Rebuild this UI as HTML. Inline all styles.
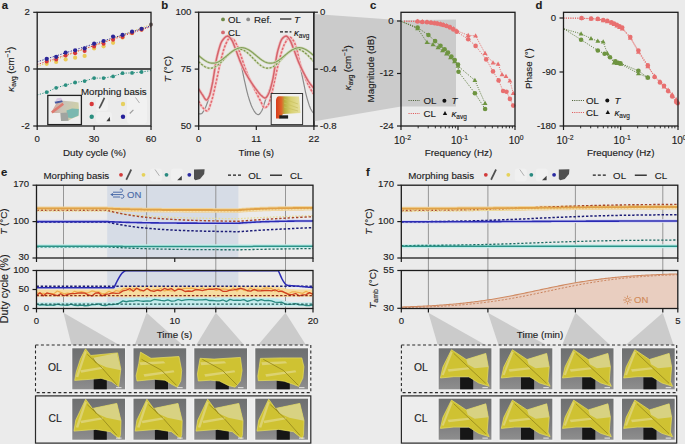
<!DOCTYPE html>
<html><head><meta charset="utf-8"><style>
html,body{margin:0;padding:0;background:#ebebeb;}
svg{display:block;font-family:"Liberation Sans",sans-serif;}
</style></head><body>
<svg width="685" height="444" viewBox="0 0 685 444">
<rect x="0" y="0" width="685" height="444" fill="#ebebeb"/>
<polygon points="63.5,312.8 119.28,345 71.48,345" fill="#cbcbcb" stroke="none" stroke-width="1" />
<polygon points="146.6,312.8 182.52,345 134.72,345" fill="#cbcbcb" stroke="none" stroke-width="1" />
<polygon points="215.8,312.8 244.1,345 196.3,345" fill="#cbcbcb" stroke="none" stroke-width="1" />
<polygon points="285.5,312.8 305.91,345 258.11,345" fill="#cbcbcb" stroke="none" stroke-width="1" />
<polygon points="428.4,312.8 485.54,345 437.74,345" fill="#cbcbcb" stroke="none" stroke-width="1" />
<polygon points="487.9,312.8 546.31,345 498.51,345" fill="#cbcbcb" stroke="none" stroke-width="1" />
<polygon points="575.4,312.8 609.96,345 562.16,345" fill="#cbcbcb" stroke="none" stroke-width="1" />
<polygon points="662.8,312.8 673.59,345 625.79,345" fill="#cbcbcb" stroke="none" stroke-width="1" />
<text x="4.85" y="8.81" font-size="11.3" text-anchor="middle" font-weight="bold" font-style="normal" fill="#1c1c1c" stroke="#1c1c1c" stroke-width="0.14" >a</text>
<polyline points="37.2,66.5 151,24.5" fill="none" stroke="#ecca58" stroke-width="1.0" stroke-linejoin="round" stroke-dasharray="1.2 1.5" />
<polyline points="37.2,64.6 151,26.6" fill="none" stroke="#d8383a" stroke-width="1.0" stroke-linejoin="round" stroke-dasharray="1.2 1.5" />
<polyline points="37.2,61.8 151,25.9" fill="none" stroke="#2b2596" stroke-width="1.0" stroke-linejoin="round" stroke-dasharray="1.2 1.5" />
<polyline points="37.2,95 46.69,92.2 56.17,87.8 65.66,85.1 75.14,82.5 84.62,81.1 94.11,78.1 103.59,78.1 113.08,76.4 122.56,73.2 132.05,72.9 141.54,72 151,70.6" fill="none" stroke="#2b8f80" stroke-width="1.0" stroke-linejoin="round" stroke-dasharray="1.2 1.5" />
<circle cx="46.69" cy="63.8" r="2.1" fill="#ecca58" />
<circle cx="56.17" cy="62" r="2.1" fill="#ecca58" />
<circle cx="65.66" cy="59.4" r="2.1" fill="#ecca58" />
<circle cx="75.14" cy="57.7" r="2.1" fill="#ecca58" />
<circle cx="84.62" cy="55.9" r="2.1" fill="#ecca58" />
<circle cx="94.11" cy="48.5" r="2.1" fill="#ecca58" />
<circle cx="103.59" cy="46.3" r="2.1" fill="#ecca58" />
<circle cx="113.08" cy="42.8" r="2.1" fill="#ecca58" />
<circle cx="122.56" cy="37.6" r="2.1" fill="#ecca58" />
<circle cx="132.05" cy="33.2" r="2.1" fill="#ecca58" />
<circle cx="141.54" cy="29.6" r="2.1" fill="#ecca58" />
<circle cx="46.69" cy="61.5" r="2" fill="#d8383a" />
<circle cx="56.17" cy="59.5" r="2" fill="#d8383a" />
<circle cx="65.66" cy="55.5" r="2" fill="#d8383a" />
<circle cx="75.14" cy="53.2" r="2" fill="#d8383a" />
<circle cx="84.62" cy="51" r="2" fill="#d8383a" />
<circle cx="94.11" cy="46.5" r="2" fill="#d8383a" />
<circle cx="103.59" cy="43.8" r="2" fill="#d8383a" />
<circle cx="113.08" cy="39.8" r="2" fill="#d8383a" />
<circle cx="122.56" cy="37" r="2" fill="#d8383a" />
<circle cx="132.05" cy="33" r="2" fill="#d8383a" />
<circle cx="141.54" cy="29.8" r="2" fill="#d8383a" />
<circle cx="46.69" cy="58.9" r="2.1" fill="#2b2596" />
<circle cx="56.17" cy="56.8" r="2.1" fill="#2b2596" />
<circle cx="65.66" cy="52.6" r="2.1" fill="#2b2596" />
<circle cx="75.14" cy="50.3" r="2.1" fill="#2b2596" />
<circle cx="84.62" cy="48.4" r="2.1" fill="#2b2596" />
<circle cx="94.11" cy="43.7" r="2.1" fill="#2b2596" />
<circle cx="103.59" cy="41" r="2.1" fill="#2b2596" />
<circle cx="113.08" cy="36.6" r="2.1" fill="#2b2596" />
<circle cx="122.56" cy="34.9" r="2.1" fill="#2b2596" />
<circle cx="132.05" cy="31.7" r="2.1" fill="#2b2596" />
<circle cx="141.54" cy="28.8" r="2.1" fill="#2b2596" />
<circle cx="46.69" cy="92.2" r="1.9" fill="#2b8f80" />
<circle cx="56.17" cy="87.8" r="1.9" fill="#2b8f80" />
<circle cx="65.66" cy="85.1" r="1.9" fill="#2b8f80" />
<circle cx="75.14" cy="82.5" r="1.9" fill="#2b8f80" />
<circle cx="84.62" cy="81.1" r="1.9" fill="#2b8f80" />
<circle cx="94.11" cy="78.1" r="1.9" fill="#2b8f80" />
<circle cx="103.59" cy="78.1" r="1.9" fill="#2b8f80" />
<circle cx="113.08" cy="76.4" r="1.9" fill="#2b8f80" />
<circle cx="122.56" cy="73.2" r="1.9" fill="#2b8f80" />
<circle cx="132.05" cy="72.9" r="1.9" fill="#2b8f80" />
<circle cx="141.54" cy="72" r="1.9" fill="#2b8f80" />
<circle cx="151" cy="24.5" r="2" fill="#7a6a6a" />
<line x1="37.2" y1="69" x2="151" y2="69" stroke="#1c1c1c" stroke-width="1.3" />
<rect x="37.2" y="12.3" width="113.8" height="113.7" fill="none" stroke="#1c1c1c" stroke-width="1.3" />
<line x1="33.2" y1="12.3" x2="37.2" y2="12.3" stroke="#1c1c1c" stroke-width="1.2" />
<text x="29.9" y="15.21" font-size="9.6" text-anchor="end" font-weight="normal" font-style="normal" fill="#1c1c1c" stroke="#1c1c1c" stroke-width="0.14" >2</text>
<line x1="33.2" y1="69" x2="37.2" y2="69" stroke="#1c1c1c" stroke-width="1.2" />
<text x="29.9" y="71.91" font-size="9.6" text-anchor="end" font-weight="normal" font-style="normal" fill="#1c1c1c" stroke="#1c1c1c" stroke-width="0.14" >0</text>
<line x1="33.2" y1="126" x2="37.2" y2="126" stroke="#1c1c1c" stroke-width="1.2" />
<text x="29.9" y="128.91" font-size="9.6" text-anchor="end" font-weight="normal" font-style="normal" fill="#1c1c1c" stroke="#1c1c1c" stroke-width="0.14" >-2</text>
<line x1="37.2" y1="126" x2="37.2" y2="130" stroke="#1c1c1c" stroke-width="1.2" />
<text x="37.2" y="141.91" font-size="9.6" text-anchor="middle" font-weight="normal" font-style="normal" fill="#1c1c1c" stroke="#1c1c1c" stroke-width="0.14" >0</text>
<line x1="94.11" y1="126" x2="94.11" y2="130" stroke="#1c1c1c" stroke-width="1.2" />
<text x="94.11" y="141.91" font-size="9.6" text-anchor="middle" font-weight="normal" font-style="normal" fill="#1c1c1c" stroke="#1c1c1c" stroke-width="0.14" >30</text>
<line x1="151.02" y1="126" x2="151.02" y2="130" stroke="#1c1c1c" stroke-width="1.2" />
<text x="151.02" y="141.91" font-size="9.6" text-anchor="middle" font-weight="normal" font-style="normal" fill="#1c1c1c" stroke="#1c1c1c" stroke-width="0.14" >60</text>
<text x="94.5" y="155.88" font-size="9.8" text-anchor="middle" font-weight="normal" font-style="normal" fill="#1c1c1c" stroke="#1c1c1c" stroke-width="0.14" >Duty cycle (%)</text>
<text transform="translate(13.88,69.2) rotate(-90)" x="0" y="0" font-size="9.8" text-anchor="middle" fill="#1c1c1c" stroke="#1c1c1c" stroke-width="0.14"><tspan font-style="italic">κ</tspan><tspan font-size="6.5" dy="2">avg</tspan><tspan dy="-2"> (cm</tspan><tspan font-size="6.5" dy="-3.5">−1</tspan><tspan dy="3.5">)</tspan></text>
<text x="113.8" y="95.44" font-size="9.7" text-anchor="middle" font-weight="normal" font-style="normal" fill="#1c1c1c" stroke="#1c1c1c" stroke-width="0.14" >Morphing basis</text>
<circle cx="91.7" cy="104" r="2.2" fill="#d8383a" />
<circle cx="123" cy="104" r="2.2" fill="#e6d060" />
<circle cx="91.7" cy="116.7" r="2.2" fill="#2b8f80" />
<circle cx="123" cy="116.7" r="2.2" fill="#25209a" />
<rect x="96" y="97" width="12" height="14" fill="#f0f0f0" stroke="none" stroke-width="1" rx="3"/>
<rect x="127" y="96" width="20" height="28" fill="#f1f1f1" stroke="none" stroke-width="1" rx="4"/>
<rect x="96" y="112" width="16" height="11" fill="#f0f0f0" stroke="none" stroke-width="1" rx="3"/>
<polygon points="103.8,97.3 105.2,98.3 101.5,106 99.8,108.8 98.6,108" fill="#505050" stroke="none" stroke-width="1" />
<polyline points="135.5,97.5 139.5,103" fill="none" stroke="#b0b0b0" stroke-width="1.0" stroke-linejoin="round"  />
<polygon points="109.8,116.8 110.2,121.2 106.4,121.2" fill="#3c3c3c" stroke="none" stroke-width="1" />
<polyline points="133.4,109.8 129.8,113.5" fill="none" stroke="#9c9c9c" stroke-width="1.1" stroke-linejoin="round"  />
<rect x="47.8" y="95.4" width="33.6" height="29.2" fill="#eeeeee" stroke="#222" stroke-width="1.3" />
<defs><linearGradient id="ig" x1="0" y1="0" x2="1" y2="0.3"><stop offset="0" stop-color="#d89a90"/><stop offset="0.45" stop-color="#c8c4b8"/><stop offset="1" stop-color="#cfd0a8"/></linearGradient></defs>
<polygon points="52,111 56,104 60,100.5 66,101 72,101.5 78.5,102.5 79,110 78.5,116 72,118.5 68.5,120.5 61,121 60.5,113 52.5,113" fill="url(#ig)" stroke="none" stroke-width="1" />
<polygon points="51,111.5 62.5,102.8 64,104.8 52.5,113.5" fill="#de7a70" stroke="none" stroke-width="1" />
<polygon points="54.5,101.8 62,100.2 62.8,102 55.5,103.8" fill="#4a5aa0" stroke="none" stroke-width="1" />
<polygon points="55.5,101 57,98.2 61,97.8 62.5,100" fill="#d8c8e4" stroke="none" stroke-width="1" />
<polygon points="66.5,110.5 72,108.5 78.8,109 78.5,115.5 72,118.2 67.5,117.5" fill="#7ab8b0" stroke="none" stroke-width="1" />
<polygon points="60.5,113 67.5,112.5 68.5,120.8 61,121" fill="#a0a4a0" stroke="none" stroke-width="1" />
<text x="164.6" y="8.61" font-size="11.3" text-anchor="middle" font-weight="bold" font-style="normal" fill="#1c1c1c" stroke="#1c1c1c" stroke-width="0.14" >b</text>
<defs><clipPath id="cb"><rect x="198.7" y="12.2" width="115.2" height="113.8"/></clipPath></defs>
<g clip-path="url(#cb)">
<polyline points="198.7,113.94 199.22,113.93 199.75,113.9 200.27,113.85 200.79,113.79 201.32,113.71 201.84,113.46 202.37,112.92 202.89,112.2 203.41,111.37 203.94,110.52 204.46,109.63 204.98,108.61 205.51,107.47 206.03,106.22 206.55,104.89 207.08,103.49 207.6,102.02 208.13,100.49 208.65,98.85 209.17,97.08 209.7,95.21 210.22,93.23 210.74,91.15 211.27,88.97 211.79,86.7 212.31,84.35 212.84,81.73 213.36,78.74 213.89,75.49 214.41,72.1 214.93,68.68 215.46,65.35 215.98,62.22 216.5,59.41 217.03,57.04 217.55,54.93 218.07,52.88 218.6,50.89 219.12,49 219.65,47.23 220.17,45.59 220.69,44.12 221.22,42.82 221.74,41.74 222.26,40.88 222.79,40.15 223.31,39.44 223.83,38.76 224.36,38.13 224.88,37.57 225.41,37.07 225.93,36.67 226.45,36.36 226.98,36.17 227.5,36.1 228.02,36.17 228.55,36.39 229.07,36.73 229.59,37.16 230.12,37.68 230.64,38.26 231.17,38.88 231.69,39.51 232.21,40.3 232.74,41.34 233.26,42.57 233.78,43.95 234.31,45.41 234.83,46.9 235.35,48.37 235.88,49.75 236.4,51.05 236.93,52.3 237.45,53.55 237.97,54.81 238.5,56.12 239.02,57.5 239.54,58.99 240.07,60.62 240.59,62.45 241.11,64.58 241.64,66.95 242.16,69.47 242.69,72.07 243.21,74.68 243.73,77.2 244.26,79.57 244.78,81.89 245.3,84.24 245.83,86.58 246.35,88.87 246.87,91.09 247.4,93.2 247.92,95.15 248.45,96.93 248.97,98.62 249.49,100.25 250.02,101.82 250.54,103.3 251.06,104.7 251.59,106 252.11,107.18 252.63,108.25 253.16,109.24 253.68,110.21 254.21,111.13 254.73,111.97 255.25,112.69 255.78,113.28 256.3,113.71 256.82,114.04 257.35,114.33 257.87,114.54 258.39,114.62 258.92,114.48 259.44,114.1 259.97,113.52 260.49,112.81 261.01,112.02 261.54,111.21 262.06,110.22 262.58,108.93 263.11,107.41 263.63,105.75 264.15,104.03 264.68,102.33 265.2,100.71 265.73,99.26 266.25,97.91 266.77,96.59 267.3,95.28 267.82,93.97 268.34,92.61 268.87,91.18 269.39,89.71 269.91,88.25 270.44,86.75 270.96,85.19 271.49,83.53 272.01,81.74 272.53,79.8 273.06,77.52 273.58,74.83 274.1,71.84 274.63,68.66 275.15,65.38 275.67,62.11 276.2,58.97 276.72,56.06 277.25,53.48 277.77,51.35 278.29,49.48 278.82,47.66 279.34,45.91 279.86,44.26 280.39,42.75 280.91,41.4 281.43,40.23 281.96,39.29 282.48,38.6 283.01,38.05 283.53,37.54 284.05,37.07 284.58,36.67 285.1,36.37 285.62,36.17 286.15,36.1 286.67,36.17 287.19,36.39 287.72,36.73 288.24,37.16 288.77,37.68 289.29,38.26 289.81,38.88 290.34,39.51 290.86,40.29 291.38,41.33 291.91,42.56 292.43,43.93 292.95,45.38 293.48,46.88 294,48.35 294.53,49.75 295.05,51.08 295.57,52.39 296.1,53.7 296.62,55.04 297.14,56.43 297.67,57.89 298.19,59.45 298.71,61.13 299.24,63 299.76,65.07 300.29,67.29 300.81,69.63 301.33,72.05 301.86,74.5 302.38,76.95 302.9,79.34 303.43,81.78 303.95,84.35 304.47,86.96 305,89.55 305.52,92.03 306.05,94.35 306.57,96.41 307.09,98.31 307.62,100.16 308.14,101.94 308.66,103.62 309.19,105.18 309.71,106.6 310.23,107.86 310.76,108.93 311.28,109.87 311.81,110.75 312.33,111.55 312.85,112.25 313.38,112.82 313.9,113.25" fill="none" stroke="#8a8a8a" stroke-width="1.2" stroke-linejoin="round"  />
<polyline points="198.7,100.96 199.22,102.03 199.75,103.06 200.27,104.03 200.79,104.94 201.32,105.78 201.84,106.54 202.37,107.22 202.89,107.79 203.41,108.32 203.94,108.85 204.46,109.36 204.98,109.83 205.51,110.25 206.03,110.59 206.55,110.83 207.08,110.96 207.6,110.91 208.13,110.42 208.65,109.52 209.17,108.3 209.7,106.86 210.22,105.29 210.74,103.67 211.27,102.1 211.79,100.47 212.31,98.61 212.84,96.58 213.36,94.41 213.89,92.13 214.41,89.79 214.93,87.42 215.46,85.06 215.98,82.76 216.5,80.43 217.03,78 217.55,75.51 218.07,73 218.6,70.48 219.12,68.01 219.65,65.6 220.17,63.3 220.69,61.13 221.22,59.03 221.74,56.93 222.26,54.86 222.79,52.86 223.31,50.97 223.83,49.23 224.36,47.67 224.88,46.34 225.41,45.11 225.93,43.88 226.45,42.67 226.98,41.53 227.5,40.51 228.02,39.64 228.55,38.96 229.07,38.53 229.59,38.37 230.12,38.39 230.64,38.43 231.17,38.5 231.69,38.59 232.21,38.7 232.74,38.83 233.26,39.1 233.78,39.62 234.31,40.32 234.83,41.17 235.35,42.11 235.88,43.09 236.4,44.06 236.93,45.09 237.45,46.26 237.97,47.54 238.5,48.89 239.02,50.3 239.54,51.74 240.07,53.17 240.59,54.63 241.11,56.18 241.64,57.77 242.16,59.4 242.69,61.03 243.21,62.63 243.73,64.2 244.26,65.69 244.78,67.12 245.3,68.54 245.83,69.94 246.35,71.32 246.87,72.67 247.4,73.99 247.92,75.28 248.45,76.53 248.97,77.75 249.49,78.93 250.02,80.07 250.54,81.19 251.06,82.28 251.59,83.34 252.11,84.4 252.63,85.44 253.16,86.47 253.68,87.5 254.21,88.54 254.73,89.58 255.25,90.64 255.78,91.69 256.3,92.74 256.82,93.79 257.35,94.83 257.87,95.86 258.39,96.88 258.92,97.88 259.44,98.87 259.97,99.83 260.49,100.85 261.01,101.98 261.54,103.16 262.06,104.32 262.58,105.41 263.11,106.36 263.63,107.11 264.15,107.61 264.68,107.79 265.2,107.71 265.73,107.47 266.25,107.11 266.77,106.65 267.3,106.11 267.82,105.52 268.34,104.67 268.87,103.42 269.39,101.86 269.91,100.11 270.44,98.25 270.96,96.41 271.49,94.5 272.01,92.39 272.53,90.14 273.06,87.78 273.58,85.36 274.1,82.93 274.63,80.53 275.15,78.2 275.67,75.88 276.2,73.49 276.72,71.06 277.25,68.63 277.77,66.24 278.29,63.91 278.82,61.7 279.34,59.62 279.86,57.72 280.39,55.93 280.91,54.16 281.43,52.43 281.96,50.77 282.48,49.17 283.01,47.67 283.53,46.28 284.05,45.01 284.58,43.89 285.1,42.93 285.62,42.04 286.15,41.14 286.67,40.28 287.19,39.47 287.72,38.74 288.24,38.12 288.77,37.65 289.29,37.34 289.81,37.24 290.34,37.34 290.86,37.62 291.38,38.05 291.91,38.6 292.43,39.24 292.95,39.93 293.48,40.65 294,41.51 294.53,42.61 295.05,43.92 295.57,45.38 296.1,46.96 296.62,48.62 297.14,50.54 297.67,52.84 298.19,55.33 298.71,57.85 299.24,60.23 299.76,62.27 300.29,64.05 300.81,65.74 301.33,67.34 301.86,68.87 302.38,70.34 302.9,71.76 303.43,73.13 303.95,74.46 304.47,75.77 305,77.07 305.52,78.34 306.05,79.6 306.57,80.82 307.09,82.02 307.62,83.19 308.14,84.32 308.66,85.42 309.19,86.47 309.71,87.48 310.23,88.45 310.76,89.37 311.28,90.26 311.81,91.11 312.33,91.92 312.85,92.7 313.38,93.44 313.9,94.14" fill="none" stroke="#f4c4c4" stroke-width="2.6" stroke-linejoin="round"  />
<polyline points="198.7,100.96 199.22,102.03 199.75,103.06 200.27,104.03 200.79,104.94 201.32,105.78 201.84,106.54 202.37,107.22 202.89,107.79 203.41,108.32 203.94,108.85 204.46,109.36 204.98,109.83 205.51,110.25 206.03,110.59 206.55,110.83 207.08,110.96 207.6,110.91 208.13,110.42 208.65,109.52 209.17,108.3 209.7,106.86 210.22,105.29 210.74,103.67 211.27,102.1 211.79,100.47 212.31,98.61 212.84,96.58 213.36,94.41 213.89,92.13 214.41,89.79 214.93,87.42 215.46,85.06 215.98,82.76 216.5,80.43 217.03,78 217.55,75.51 218.07,73 218.6,70.48 219.12,68.01 219.65,65.6 220.17,63.3 220.69,61.13 221.22,59.03 221.74,56.93 222.26,54.86 222.79,52.86 223.31,50.97 223.83,49.23 224.36,47.67 224.88,46.34 225.41,45.11 225.93,43.88 226.45,42.67 226.98,41.53 227.5,40.51 228.02,39.64 228.55,38.96 229.07,38.53 229.59,38.37 230.12,38.39 230.64,38.43 231.17,38.5 231.69,38.59 232.21,38.7 232.74,38.83 233.26,39.1 233.78,39.62 234.31,40.32 234.83,41.17 235.35,42.11 235.88,43.09 236.4,44.06 236.93,45.09 237.45,46.26 237.97,47.54 238.5,48.89 239.02,50.3 239.54,51.74 240.07,53.17 240.59,54.63 241.11,56.18 241.64,57.77 242.16,59.4 242.69,61.03 243.21,62.63 243.73,64.2 244.26,65.69 244.78,67.12 245.3,68.54 245.83,69.94 246.35,71.32 246.87,72.67 247.4,73.99 247.92,75.28 248.45,76.53 248.97,77.75 249.49,78.93 250.02,80.07 250.54,81.19 251.06,82.28 251.59,83.34 252.11,84.4 252.63,85.44 253.16,86.47 253.68,87.5 254.21,88.54 254.73,89.58 255.25,90.64 255.78,91.69 256.3,92.74 256.82,93.79 257.35,94.83 257.87,95.86 258.39,96.88 258.92,97.88 259.44,98.87 259.97,99.83 260.49,100.85 261.01,101.98 261.54,103.16 262.06,104.32 262.58,105.41 263.11,106.36 263.63,107.11 264.15,107.61 264.68,107.79 265.2,107.71 265.73,107.47 266.25,107.11 266.77,106.65 267.3,106.11 267.82,105.52 268.34,104.67 268.87,103.42 269.39,101.86 269.91,100.11 270.44,98.25 270.96,96.41 271.49,94.5 272.01,92.39 272.53,90.14 273.06,87.78 273.58,85.36 274.1,82.93 274.63,80.53 275.15,78.2 275.67,75.88 276.2,73.49 276.72,71.06 277.25,68.63 277.77,66.24 278.29,63.91 278.82,61.7 279.34,59.62 279.86,57.72 280.39,55.93 280.91,54.16 281.43,52.43 281.96,50.77 282.48,49.17 283.01,47.67 283.53,46.28 284.05,45.01 284.58,43.89 285.1,42.93 285.62,42.04 286.15,41.14 286.67,40.28 287.19,39.47 287.72,38.74 288.24,38.12 288.77,37.65 289.29,37.34 289.81,37.24 290.34,37.34 290.86,37.62 291.38,38.05 291.91,38.6 292.43,39.24 292.95,39.93 293.48,40.65 294,41.51 294.53,42.61 295.05,43.92 295.57,45.38 296.1,46.96 296.62,48.62 297.14,50.54 297.67,52.84 298.19,55.33 298.71,57.85 299.24,60.23 299.76,62.27 300.29,64.05 300.81,65.74 301.33,67.34 301.86,68.87 302.38,70.34 302.9,71.76 303.43,73.13 303.95,74.46 304.47,75.77 305,77.07 305.52,78.34 306.05,79.6 306.57,80.82 307.09,82.02 307.62,83.19 308.14,84.32 308.66,85.42 309.19,86.47 309.71,87.48 310.23,88.45 310.76,89.37 311.28,90.26 311.81,91.11 312.33,91.92 312.85,92.7 313.38,93.44 313.9,94.14" fill="none" stroke="#e06870" stroke-width="1.5" stroke-linejoin="round" stroke-dasharray="2.2 1.6" />
<polyline points="198.7,88.9 199.22,89.77 199.75,90.62 200.27,91.45 200.79,92.27 201.32,93.06 201.84,93.84 202.37,94.59 202.89,95.4 203.41,96.28 203.94,97.19 204.46,98.07 204.98,98.85 205.51,99.48 206.03,99.9 206.55,100.05 207.08,99.85 207.6,99.28 208.13,98.46 208.65,97.47 209.17,96.41 209.7,95.08 210.22,93.31 210.74,91.19 211.27,88.84 211.79,86.37 212.31,83.89 212.84,81.23 213.36,78.22 213.89,74.96 214.41,71.56 214.93,68.15 215.46,64.84 215.98,61.73 216.5,58.94 217.03,56.58 217.55,54.5 218.07,52.46 218.6,50.5 219.12,48.63 219.65,46.87 220.17,45.26 220.69,43.81 221.22,42.54 221.74,41.48 222.26,40.65 222.79,39.95 223.31,39.27 223.83,38.63 224.36,38.03 224.88,37.49 225.41,37.02 225.93,36.64 226.45,36.34 226.98,36.16 227.5,36.1 228.02,36.19 228.55,36.44 229.07,36.83 229.59,37.33 230.12,37.92 230.64,38.57 231.17,39.26 231.69,39.97 232.21,40.8 232.74,41.87 233.26,43.1 233.78,44.45 234.31,45.86 234.83,47.26 235.35,48.62 235.88,49.95 236.4,51.34 236.93,52.77 237.45,54.21 237.97,55.66 238.5,57.09 239.02,58.49 239.54,59.84 240.07,61.13 240.59,62.37 241.11,63.59 241.64,64.79 242.16,65.96 242.69,67.1 243.21,68.21 243.73,69.3 244.26,70.35 244.78,71.38 245.3,72.37 245.83,73.34 246.35,74.29 246.87,75.21 247.4,76.12 247.92,77.01 248.45,77.89 248.97,78.75 249.49,79.6 250.02,80.43 250.54,81.26 251.06,82.07 251.59,82.88 252.11,83.68 252.63,84.47 253.16,85.24 253.68,86 254.21,86.75 254.73,87.48 255.25,88.2 255.78,88.9 256.3,89.58 256.82,90.27 257.35,90.95 257.87,91.64 258.39,92.32 258.92,92.98 259.44,93.61 259.97,94.21 260.49,94.77 261.01,95.28 261.54,95.73 262.06,96.16 262.58,96.61 263.11,97.03 263.63,97.42 264.15,97.72 264.68,97.93 265.2,98.01 265.73,97.85 266.25,97.43 266.77,96.79 267.3,95.97 267.82,95.03 268.34,94.03 268.87,93 269.39,91.82 269.91,90.37 270.44,88.68 270.96,86.81 271.49,84.79 272.01,82.66 272.53,80.48 273.06,78.04 273.58,75.19 274.1,72.04 274.63,68.71 275.15,65.29 275.67,61.91 276.2,58.66 276.72,55.67 277.25,53.05 277.77,50.89 278.29,49.03 278.82,47.21 279.34,45.48 279.86,43.86 280.39,42.37 280.91,41.05 281.43,39.93 281.96,39.02 282.48,38.37 283.01,37.87 283.53,37.4 284.05,36.97 284.58,36.62 285.1,36.34 285.62,36.16 286.15,36.1 286.67,36.22 287.19,36.55 287.72,37.06 288.24,37.7 288.77,38.42 289.29,39.19 289.81,39.97 290.34,40.85 290.86,41.93 291.38,43.16 291.91,44.49 292.43,45.88 292.95,47.27 293.48,48.62 294,49.95 294.53,51.34 295.05,52.77 295.57,54.21 296.1,55.66 296.62,57.09 297.14,58.49 297.67,59.84 298.19,61.13 298.71,62.37 299.24,63.59 299.76,64.77 300.29,65.94 300.81,67.07 301.33,68.19 301.86,69.27 302.38,70.34 302.9,71.38 303.43,72.4 303.95,73.42 304.47,74.42 305,75.41 305.52,76.37 306.05,77.32 306.57,78.24 307.09,79.14 307.62,80 308.14,80.83 308.66,81.62 309.19,82.38 309.71,83.12 310.23,83.84 310.76,84.54 311.28,85.22 311.81,85.87 312.33,86.5 312.85,87.1 313.38,87.67 313.9,88.22" fill="none" stroke="#f2c0c2" stroke-width="3.0" stroke-linejoin="round"  />
<polyline points="198.7,88.9 199.22,89.77 199.75,90.62 200.27,91.45 200.79,92.27 201.32,93.06 201.84,93.84 202.37,94.59 202.89,95.4 203.41,96.28 203.94,97.19 204.46,98.07 204.98,98.85 205.51,99.48 206.03,99.9 206.55,100.05 207.08,99.85 207.6,99.28 208.13,98.46 208.65,97.47 209.17,96.41 209.7,95.08 210.22,93.31 210.74,91.19 211.27,88.84 211.79,86.37 212.31,83.89 212.84,81.23 213.36,78.22 213.89,74.96 214.41,71.56 214.93,68.15 215.46,64.84 215.98,61.73 216.5,58.94 217.03,56.58 217.55,54.5 218.07,52.46 218.6,50.5 219.12,48.63 219.65,46.87 220.17,45.26 220.69,43.81 221.22,42.54 221.74,41.48 222.26,40.65 222.79,39.95 223.31,39.27 223.83,38.63 224.36,38.03 224.88,37.49 225.41,37.02 225.93,36.64 226.45,36.34 226.98,36.16 227.5,36.1 228.02,36.19 228.55,36.44 229.07,36.83 229.59,37.33 230.12,37.92 230.64,38.57 231.17,39.26 231.69,39.97 232.21,40.8 232.74,41.87 233.26,43.1 233.78,44.45 234.31,45.86 234.83,47.26 235.35,48.62 235.88,49.95 236.4,51.34 236.93,52.77 237.45,54.21 237.97,55.66 238.5,57.09 239.02,58.49 239.54,59.84 240.07,61.13 240.59,62.37 241.11,63.59 241.64,64.79 242.16,65.96 242.69,67.1 243.21,68.21 243.73,69.3 244.26,70.35 244.78,71.38 245.3,72.37 245.83,73.34 246.35,74.29 246.87,75.21 247.4,76.12 247.92,77.01 248.45,77.89 248.97,78.75 249.49,79.6 250.02,80.43 250.54,81.26 251.06,82.07 251.59,82.88 252.11,83.68 252.63,84.47 253.16,85.24 253.68,86 254.21,86.75 254.73,87.48 255.25,88.2 255.78,88.9 256.3,89.58 256.82,90.27 257.35,90.95 257.87,91.64 258.39,92.32 258.92,92.98 259.44,93.61 259.97,94.21 260.49,94.77 261.01,95.28 261.54,95.73 262.06,96.16 262.58,96.61 263.11,97.03 263.63,97.42 264.15,97.72 264.68,97.93 265.2,98.01 265.73,97.85 266.25,97.43 266.77,96.79 267.3,95.97 267.82,95.03 268.34,94.03 268.87,93 269.39,91.82 269.91,90.37 270.44,88.68 270.96,86.81 271.49,84.79 272.01,82.66 272.53,80.48 273.06,78.04 273.58,75.19 274.1,72.04 274.63,68.71 275.15,65.29 275.67,61.91 276.2,58.66 276.72,55.67 277.25,53.05 277.77,50.89 278.29,49.03 278.82,47.21 279.34,45.48 279.86,43.86 280.39,42.37 280.91,41.05 281.43,39.93 281.96,39.02 282.48,38.37 283.01,37.87 283.53,37.4 284.05,36.97 284.58,36.62 285.1,36.34 285.62,36.16 286.15,36.1 286.67,36.22 287.19,36.55 287.72,37.06 288.24,37.7 288.77,38.42 289.29,39.19 289.81,39.97 290.34,40.85 290.86,41.93 291.38,43.16 291.91,44.49 292.43,45.88 292.95,47.27 293.48,48.62 294,49.95 294.53,51.34 295.05,52.77 295.57,54.21 296.1,55.66 296.62,57.09 297.14,58.49 297.67,59.84 298.19,61.13 298.71,62.37 299.24,63.59 299.76,64.77 300.29,65.94 300.81,67.07 301.33,68.19 301.86,69.27 302.38,70.34 302.9,71.38 303.43,72.4 303.95,73.42 304.47,74.42 305,75.41 305.52,76.37 306.05,77.32 306.57,78.24 307.09,79.14 307.62,80 308.14,80.83 308.66,81.62 309.19,82.38 309.71,83.12 310.23,83.84 310.76,84.54 311.28,85.22 311.81,85.87 312.33,86.5 312.85,87.1 313.38,87.67 313.9,88.22" fill="none" stroke="#d4646c" stroke-width="1.5" stroke-linejoin="round"  />
<polyline points="198.7,61.58 199.22,62.1 199.75,62.6 200.27,63.09 200.79,63.57 201.32,64.03 201.84,64.47 202.37,64.89 202.89,65.29 203.41,65.67 203.94,66.03 204.46,66.36 204.98,66.67 205.51,66.95 206.03,67.21 206.55,67.44 207.08,67.63 207.6,67.8 208.13,67.94 208.65,68.05 209.17,68.13 209.7,68.17 210.22,68.19 210.74,68.17 211.27,68.13 211.79,68.05 212.31,67.94 212.84,67.8 213.36,67.63 213.89,67.44 214.41,67.21 214.93,66.95 215.46,66.67 215.98,66.36 216.5,66.03 217.03,65.67 217.55,65.29 218.07,64.89 218.6,64.47 219.12,64.03 219.65,63.57 220.17,63.09 220.69,62.6 221.22,62.1 221.74,61.58 222.26,61.06 222.79,60.53 223.31,59.99 223.83,59.45 224.36,58.9 224.88,58.36 225.41,57.81 225.93,57.27 226.45,56.73 226.98,56.2 227.5,55.68 228.02,55.16 228.55,54.66 229.07,54.17 229.59,53.69 230.12,53.23 230.64,52.79 231.17,52.37 231.69,51.97 232.21,51.59 232.74,51.23 233.26,50.9 233.78,50.59 234.31,50.31 234.83,50.05 235.35,49.83 235.88,49.63 236.4,49.46 236.93,49.32 237.45,49.21 237.97,49.13 238.5,49.09 239.02,49.07 239.54,49.09 240.07,49.13 240.59,49.21 241.11,49.32 241.64,49.46 242.16,49.63 242.69,49.83 243.21,50.05 243.73,50.31 244.26,50.59 244.78,50.9 245.3,51.23 245.83,51.59 246.35,51.97 246.87,52.37 247.4,52.79 247.92,53.23 248.45,53.69 248.97,54.17 249.49,54.66 250.02,55.16 250.54,55.68 251.06,56.2 251.59,56.73 252.11,57.27 252.63,57.81 253.16,58.36 253.68,58.9 254.21,59.45 254.73,59.99 255.25,60.53 255.78,61.06 256.3,61.58 256.82,62.1 257.35,62.6 257.87,63.09 258.39,63.57 258.92,64.03 259.44,64.47 259.97,64.89 260.49,65.29 261.01,65.67 261.54,66.03 262.06,66.36 262.58,66.67 263.11,66.95 263.63,67.21 264.15,67.44 264.68,67.63 265.2,67.8 265.73,67.94 266.25,68.05 266.77,68.13 267.3,68.17 267.82,68.19 268.34,68.17 268.87,68.13 269.39,68.05 269.91,67.94 270.44,67.8 270.96,67.63 271.49,67.44 272.01,67.21 272.53,66.95 273.06,66.67 273.58,66.36 274.1,66.03 274.63,65.67 275.15,65.29 275.67,64.89 276.2,64.47 276.72,64.03 277.25,63.57 277.77,63.09 278.29,62.6 278.82,62.1 279.34,61.58 279.86,61.06 280.39,60.53 280.91,59.99 281.43,59.45 281.96,58.9 282.48,58.36 283.01,57.81 283.53,57.27 284.05,56.73 284.58,56.2 285.1,55.68 285.62,55.16 286.15,54.66 286.67,54.17 287.19,53.69 287.72,53.23 288.24,52.79 288.77,52.37 289.29,51.97 289.81,51.59 290.34,51.23 290.86,50.9 291.38,50.59 291.91,50.31 292.43,50.05 292.95,49.83 293.48,49.63 294,49.46 294.53,49.32 295.05,49.21 295.57,49.13 296.1,49.09 296.62,49.07 297.14,49.09 297.67,49.13 298.19,49.21 298.71,49.32 299.24,49.46 299.76,49.63 300.29,49.83 300.81,50.05 301.33,50.31 301.86,50.59 302.38,50.9 302.9,51.23 303.43,51.59 303.95,51.97 304.47,52.37 305,52.79 305.52,53.23 306.05,53.69 306.57,54.17 307.09,54.66 307.62,55.16 308.14,55.68 308.66,56.2 309.19,56.73 309.71,57.27 310.23,57.81 310.76,58.36 311.28,58.9 311.81,59.45 312.33,59.99 312.85,60.53 313.38,61.06 313.9,61.58" fill="none" stroke="#d2dabc" stroke-width="2.4" stroke-linejoin="round"  />
<polyline points="198.7,61.58 199.22,62.1 199.75,62.6 200.27,63.09 200.79,63.57 201.32,64.03 201.84,64.47 202.37,64.89 202.89,65.29 203.41,65.67 203.94,66.03 204.46,66.36 204.98,66.67 205.51,66.95 206.03,67.21 206.55,67.44 207.08,67.63 207.6,67.8 208.13,67.94 208.65,68.05 209.17,68.13 209.7,68.17 210.22,68.19 210.74,68.17 211.27,68.13 211.79,68.05 212.31,67.94 212.84,67.8 213.36,67.63 213.89,67.44 214.41,67.21 214.93,66.95 215.46,66.67 215.98,66.36 216.5,66.03 217.03,65.67 217.55,65.29 218.07,64.89 218.6,64.47 219.12,64.03 219.65,63.57 220.17,63.09 220.69,62.6 221.22,62.1 221.74,61.58 222.26,61.06 222.79,60.53 223.31,59.99 223.83,59.45 224.36,58.9 224.88,58.36 225.41,57.81 225.93,57.27 226.45,56.73 226.98,56.2 227.5,55.68 228.02,55.16 228.55,54.66 229.07,54.17 229.59,53.69 230.12,53.23 230.64,52.79 231.17,52.37 231.69,51.97 232.21,51.59 232.74,51.23 233.26,50.9 233.78,50.59 234.31,50.31 234.83,50.05 235.35,49.83 235.88,49.63 236.4,49.46 236.93,49.32 237.45,49.21 237.97,49.13 238.5,49.09 239.02,49.07 239.54,49.09 240.07,49.13 240.59,49.21 241.11,49.32 241.64,49.46 242.16,49.63 242.69,49.83 243.21,50.05 243.73,50.31 244.26,50.59 244.78,50.9 245.3,51.23 245.83,51.59 246.35,51.97 246.87,52.37 247.4,52.79 247.92,53.23 248.45,53.69 248.97,54.17 249.49,54.66 250.02,55.16 250.54,55.68 251.06,56.2 251.59,56.73 252.11,57.27 252.63,57.81 253.16,58.36 253.68,58.9 254.21,59.45 254.73,59.99 255.25,60.53 255.78,61.06 256.3,61.58 256.82,62.1 257.35,62.6 257.87,63.09 258.39,63.57 258.92,64.03 259.44,64.47 259.97,64.89 260.49,65.29 261.01,65.67 261.54,66.03 262.06,66.36 262.58,66.67 263.11,66.95 263.63,67.21 264.15,67.44 264.68,67.63 265.2,67.8 265.73,67.94 266.25,68.05 266.77,68.13 267.3,68.17 267.82,68.19 268.34,68.17 268.87,68.13 269.39,68.05 269.91,67.94 270.44,67.8 270.96,67.63 271.49,67.44 272.01,67.21 272.53,66.95 273.06,66.67 273.58,66.36 274.1,66.03 274.63,65.67 275.15,65.29 275.67,64.89 276.2,64.47 276.72,64.03 277.25,63.57 277.77,63.09 278.29,62.6 278.82,62.1 279.34,61.58 279.86,61.06 280.39,60.53 280.91,59.99 281.43,59.45 281.96,58.9 282.48,58.36 283.01,57.81 283.53,57.27 284.05,56.73 284.58,56.2 285.1,55.68 285.62,55.16 286.15,54.66 286.67,54.17 287.19,53.69 287.72,53.23 288.24,52.79 288.77,52.37 289.29,51.97 289.81,51.59 290.34,51.23 290.86,50.9 291.38,50.59 291.91,50.31 292.43,50.05 292.95,49.83 293.48,49.63 294,49.46 294.53,49.32 295.05,49.21 295.57,49.13 296.1,49.09 296.62,49.07 297.14,49.09 297.67,49.13 298.19,49.21 298.71,49.32 299.24,49.46 299.76,49.63 300.29,49.83 300.81,50.05 301.33,50.31 301.86,50.59 302.38,50.9 302.9,51.23 303.43,51.59 303.95,51.97 304.47,52.37 305,52.79 305.52,53.23 306.05,53.69 306.57,54.17 307.09,54.66 307.62,55.16 308.14,55.68 308.66,56.2 309.19,56.73 309.71,57.27 310.23,57.81 310.76,58.36 311.28,58.9 311.81,59.45 312.33,59.99 312.85,60.53 313.38,61.06 313.9,61.58" fill="none" stroke="#7a9448" stroke-width="1.2" stroke-linejoin="round" stroke-dasharray="2 1.6" />
<polyline points="198.7,55.66 199.22,56.11 199.75,56.55 200.27,56.98 200.79,57.41 201.32,57.84 201.84,58.25 202.37,58.66 202.89,59.06 203.41,59.44 203.94,59.81 204.46,60.17 204.98,60.51 205.51,60.84 206.03,61.15 206.55,61.43 207.08,61.7 207.6,61.95 208.13,62.18 208.65,62.39 209.17,62.57 209.7,62.73 210.22,62.87 210.74,62.98 211.27,63.07 211.79,63.13 212.31,63.17 212.84,63.18 213.36,63.17 213.89,63.13 214.41,63.07 214.93,62.98 215.46,62.87 215.98,62.73 216.5,62.57 217.03,62.39 217.55,62.18 218.07,61.95 218.6,61.7 219.12,61.43 219.65,61.15 220.17,60.84 220.69,60.51 221.22,60.17 221.74,59.81 222.26,59.44 222.79,59.06 223.31,58.66 223.83,58.25 224.36,57.84 224.88,57.41 225.41,56.98 225.93,56.55 226.45,56.11 226.98,55.66 227.5,55.22 228.02,54.78 228.55,54.34 229.07,53.91 229.59,53.48 230.12,53.05 230.64,52.64 231.17,52.23 231.69,51.83 232.21,51.45 232.74,51.08 233.26,50.72 233.78,50.38 234.31,50.05 234.83,49.74 235.35,49.45 235.88,49.18 236.4,48.93 236.93,48.71 237.45,48.5 237.97,48.32 238.5,48.16 239.02,48.02 239.54,47.91 240.07,47.82 240.59,47.76 241.11,47.72 241.64,47.71 242.16,47.72 242.69,47.76 243.21,47.82 243.73,47.91 244.26,48.02 244.78,48.16 245.3,48.32 245.83,48.5 246.35,48.71 246.87,48.93 247.4,49.18 247.92,49.45 248.45,49.74 248.97,50.05 249.49,50.38 250.02,50.72 250.54,51.08 251.06,51.45 251.59,51.83 252.11,52.23 252.63,52.64 253.16,53.05 253.68,53.48 254.21,53.91 254.73,54.34 255.25,54.78 255.78,55.22 256.3,55.66 256.82,56.11 257.35,56.55 257.87,56.98 258.39,57.41 258.92,57.84 259.44,58.25 259.97,58.66 260.49,59.06 261.01,59.44 261.54,59.81 262.06,60.17 262.58,60.51 263.11,60.84 263.63,61.15 264.15,61.43 264.68,61.7 265.2,61.95 265.73,62.18 266.25,62.39 266.77,62.57 267.3,62.73 267.82,62.87 268.34,62.98 268.87,63.07 269.39,63.13 269.91,63.17 270.44,63.18 270.96,63.17 271.49,63.13 272.01,63.07 272.53,62.98 273.06,62.87 273.58,62.73 274.1,62.57 274.63,62.39 275.15,62.18 275.67,61.95 276.2,61.7 276.72,61.43 277.25,61.15 277.77,60.84 278.29,60.51 278.82,60.17 279.34,59.81 279.86,59.44 280.39,59.06 280.91,58.66 281.43,58.25 281.96,57.84 282.48,57.41 283.01,56.98 283.53,56.55 284.05,56.11 284.58,55.66 285.1,55.22 285.62,54.78 286.15,54.34 286.67,53.91 287.19,53.48 287.72,53.05 288.24,52.64 288.77,52.23 289.29,51.83 289.81,51.45 290.34,51.08 290.86,50.72 291.38,50.38 291.91,50.05 292.43,49.74 292.95,49.45 293.48,49.18 294,48.93 294.53,48.71 295.05,48.5 295.57,48.32 296.1,48.16 296.62,48.02 297.14,47.91 297.67,47.82 298.19,47.76 298.71,47.72 299.24,47.71 299.76,47.72 300.29,47.76 300.81,47.82 301.33,47.91 301.86,48.02 302.38,48.16 302.9,48.32 303.43,48.5 303.95,48.71 304.47,48.93 305,49.18 305.52,49.45 306.05,49.74 306.57,50.05 307.09,50.38 307.62,50.72 308.14,51.08 308.66,51.45 309.19,51.83 309.71,52.23 310.23,52.64 310.76,53.05 311.28,53.48 311.81,53.91 312.33,54.34 312.85,54.78 313.38,55.22 313.9,55.66" fill="none" stroke="#d2dabc" stroke-width="2.6" stroke-linejoin="round"  />
<polyline points="198.7,55.66 199.22,56.11 199.75,56.55 200.27,56.98 200.79,57.41 201.32,57.84 201.84,58.25 202.37,58.66 202.89,59.06 203.41,59.44 203.94,59.81 204.46,60.17 204.98,60.51 205.51,60.84 206.03,61.15 206.55,61.43 207.08,61.7 207.6,61.95 208.13,62.18 208.65,62.39 209.17,62.57 209.7,62.73 210.22,62.87 210.74,62.98 211.27,63.07 211.79,63.13 212.31,63.17 212.84,63.18 213.36,63.17 213.89,63.13 214.41,63.07 214.93,62.98 215.46,62.87 215.98,62.73 216.5,62.57 217.03,62.39 217.55,62.18 218.07,61.95 218.6,61.7 219.12,61.43 219.65,61.15 220.17,60.84 220.69,60.51 221.22,60.17 221.74,59.81 222.26,59.44 222.79,59.06 223.31,58.66 223.83,58.25 224.36,57.84 224.88,57.41 225.41,56.98 225.93,56.55 226.45,56.11 226.98,55.66 227.5,55.22 228.02,54.78 228.55,54.34 229.07,53.91 229.59,53.48 230.12,53.05 230.64,52.64 231.17,52.23 231.69,51.83 232.21,51.45 232.74,51.08 233.26,50.72 233.78,50.38 234.31,50.05 234.83,49.74 235.35,49.45 235.88,49.18 236.4,48.93 236.93,48.71 237.45,48.5 237.97,48.32 238.5,48.16 239.02,48.02 239.54,47.91 240.07,47.82 240.59,47.76 241.11,47.72 241.64,47.71 242.16,47.72 242.69,47.76 243.21,47.82 243.73,47.91 244.26,48.02 244.78,48.16 245.3,48.32 245.83,48.5 246.35,48.71 246.87,48.93 247.4,49.18 247.92,49.45 248.45,49.74 248.97,50.05 249.49,50.38 250.02,50.72 250.54,51.08 251.06,51.45 251.59,51.83 252.11,52.23 252.63,52.64 253.16,53.05 253.68,53.48 254.21,53.91 254.73,54.34 255.25,54.78 255.78,55.22 256.3,55.66 256.82,56.11 257.35,56.55 257.87,56.98 258.39,57.41 258.92,57.84 259.44,58.25 259.97,58.66 260.49,59.06 261.01,59.44 261.54,59.81 262.06,60.17 262.58,60.51 263.11,60.84 263.63,61.15 264.15,61.43 264.68,61.7 265.2,61.95 265.73,62.18 266.25,62.39 266.77,62.57 267.3,62.73 267.82,62.87 268.34,62.98 268.87,63.07 269.39,63.13 269.91,63.17 270.44,63.18 270.96,63.17 271.49,63.13 272.01,63.07 272.53,62.98 273.06,62.87 273.58,62.73 274.1,62.57 274.63,62.39 275.15,62.18 275.67,61.95 276.2,61.7 276.72,61.43 277.25,61.15 277.77,60.84 278.29,60.51 278.82,60.17 279.34,59.81 279.86,59.44 280.39,59.06 280.91,58.66 281.43,58.25 281.96,57.84 282.48,57.41 283.01,56.98 283.53,56.55 284.05,56.11 284.58,55.66 285.1,55.22 285.62,54.78 286.15,54.34 286.67,53.91 287.19,53.48 287.72,53.05 288.24,52.64 288.77,52.23 289.29,51.83 289.81,51.45 290.34,51.08 290.86,50.72 291.38,50.38 291.91,50.05 292.43,49.74 292.95,49.45 293.48,49.18 294,48.93 294.53,48.71 295.05,48.5 295.57,48.32 296.1,48.16 296.62,48.02 297.14,47.91 297.67,47.82 298.19,47.76 298.71,47.72 299.24,47.71 299.76,47.72 300.29,47.76 300.81,47.82 301.33,47.91 301.86,48.02 302.38,48.16 302.9,48.32 303.43,48.5 303.95,48.71 304.47,48.93 305,49.18 305.52,49.45 306.05,49.74 306.57,50.05 307.09,50.38 307.62,50.72 308.14,51.08 308.66,51.45 309.19,51.83 309.71,52.23 310.23,52.64 310.76,53.05 311.28,53.48 311.81,53.91 312.33,54.34 312.85,54.78 313.38,55.22 313.9,55.66" fill="none" stroke="#84a05a" stroke-width="1.2" stroke-linejoin="round"  />
</g>
<rect x="271.2" y="93.5" width="31.4" height="31.1" fill="#f0f0f0" stroke="#333" stroke-width="1.0" />
<defs><linearGradient id="bg2" x1="0" y1="0" x2="1" y2="0"><stop offset="0" stop-color="#d83a1c"/><stop offset="0.22" stop-color="#e0642a"/><stop offset="0.36" stop-color="#b8b040"/><stop offset="0.6" stop-color="#d8d070"/><stop offset="1" stop-color="#e6e0a0"/></linearGradient></defs>
<path d="M276,118.5 L276,100 Q276.5,96.3 279,96.2 L299,96.5 L300.5,113 L283,114 L280,118.5 Z" fill="url(#bg2)"/>
<polyline points="284,99 298,104" fill="none" stroke="#c8c060" stroke-width="0.7" stroke-linejoin="round"  />
<polyline points="284,103 298,108" fill="none" stroke="#c8c060" stroke-width="0.7" stroke-linejoin="round"  />
<polyline points="284,107 298,111" fill="none" stroke="#c8c060" stroke-width="0.7" stroke-linejoin="round"  />
<rect x="279.3" y="115.3" width="8.8" height="3.3" fill="#1e1e1e" stroke="none" stroke-width="1" />
<rect x="198.7" y="12.2" width="115.2" height="113.8" fill="none" stroke="#1c1c1c" stroke-width="1.3" />
<line x1="194.7" y1="12.2" x2="198.7" y2="12.2" stroke="#1c1c1c" stroke-width="1.2" />
<text x="191.4" y="15.11" font-size="9.6" text-anchor="end" font-weight="normal" font-style="normal" fill="#1c1c1c" stroke="#1c1c1c" stroke-width="0.14" >100</text>
<line x1="194.7" y1="69.1" x2="198.7" y2="69.1" stroke="#1c1c1c" stroke-width="1.2" />
<text x="191.4" y="72.01" font-size="9.6" text-anchor="end" font-weight="normal" font-style="normal" fill="#1c1c1c" stroke="#1c1c1c" stroke-width="0.14" >75</text>
<line x1="194.7" y1="126" x2="198.7" y2="126" stroke="#1c1c1c" stroke-width="1.2" />
<text x="191.4" y="128.91" font-size="9.6" text-anchor="end" font-weight="normal" font-style="normal" fill="#1c1c1c" stroke="#1c1c1c" stroke-width="0.14" >50</text>
<line x1="198.7" y1="126" x2="198.7" y2="130" stroke="#1c1c1c" stroke-width="1.2" />
<text x="198.7" y="141.91" font-size="9.6" text-anchor="middle" font-weight="normal" font-style="normal" fill="#1c1c1c" stroke="#1c1c1c" stroke-width="0.14" >0</text>
<line x1="256.3" y1="126" x2="256.3" y2="130" stroke="#1c1c1c" stroke-width="1.2" />
<text x="256.3" y="141.91" font-size="9.6" text-anchor="middle" font-weight="normal" font-style="normal" fill="#1c1c1c" stroke="#1c1c1c" stroke-width="0.14" >11</text>
<line x1="313.9" y1="126" x2="313.9" y2="130" stroke="#1c1c1c" stroke-width="1.2" />
<text x="313.9" y="141.91" font-size="9.6" text-anchor="middle" font-weight="normal" font-style="normal" fill="#1c1c1c" stroke="#1c1c1c" stroke-width="0.14" >22</text>
<text x="256.3" y="155.88" font-size="9.8" text-anchor="middle" font-weight="normal" font-style="normal" fill="#1c1c1c" stroke="#1c1c1c" stroke-width="0.14" >Time (s)</text>
<text transform="translate(170.68,69.1) rotate(-90)" x="0" y="0" font-size="9.8" text-anchor="middle" fill="#1c1c1c" stroke="#1c1c1c" stroke-width="0.14"><tspan font-style="italic">T</tspan> (°C)</text>
<circle cx="223" cy="19.4" r="1.9" fill="#6f8a48" />
<text x="228" y="22.84" font-size="9.7" text-anchor="start" font-weight="normal" font-style="normal" fill="#1c1c1c" stroke="#1c1c1c" stroke-width="0.14" >OL</text>
<circle cx="248.2" cy="19.4" r="1.9" fill="#8a8a8a" />
<text x="254" y="22.84" font-size="9.7" text-anchor="start" font-weight="normal" font-style="normal" fill="#1c1c1c" stroke="#1c1c1c" stroke-width="0.14" >Ref.</text>
<line x1="280" y1="19" x2="291.4" y2="19" stroke="#1c1c1c" stroke-width="1.2" />
<text x="294" y="22.84" font-size="9.7" text-anchor="start" font-weight="normal" font-style="italic" fill="#1c1c1c" stroke="#1c1c1c" stroke-width="0.14" >T</text>
<circle cx="223" cy="32.4" r="1.9" fill="#d46a70" />
<text x="228" y="35.84" font-size="9.7" text-anchor="start" font-weight="normal" font-style="normal" fill="#1c1c1c" stroke="#1c1c1c" stroke-width="0.14" >CL</text>
<line x1="280" y1="31.8" x2="291.4" y2="31.8" stroke="#1c1c1c" stroke-width="1.3" stroke-dasharray="3 1.8"/>
<text x="294" y="35.84" font-size="9.7" text-anchor="start" font-weight="normal" font-style="normal" fill="#1c1c1c" stroke="#1c1c1c" stroke-width="0.14" ><tspan font-style="italic">κ</tspan><tspan font-size="6.5" dy="2">avg</tspan></text>
<polygon points="314.5,14 401,20.3 456,19.5 456,106.5 401,106.5 314.5,121.3" fill="#cbcbcb" stroke="none" stroke-width="1" />
<line x1="313.9" y1="12.2" x2="313.9" y2="126" stroke="#1c1c1c" stroke-width="1.3" />
<line x1="313.9" y1="12.2" x2="317.9" y2="12.2" stroke="#1c1c1c" stroke-width="1.2" />
<text x="320.1" y="14.81" font-size="9.6" text-anchor="start" font-weight="normal" font-style="normal" fill="#1c1c1c" stroke="#1c1c1c" stroke-width="0.14" >0</text>
<line x1="313.9" y1="69.1" x2="317.9" y2="69.1" stroke="#1c1c1c" stroke-width="1.2" />
<text x="320.1" y="71.71" font-size="9.6" text-anchor="start" font-weight="normal" font-style="normal" fill="#1c1c1c" stroke="#1c1c1c" stroke-width="0.14" >-0.4</text>
<line x1="313.9" y1="126" x2="317.9" y2="126" stroke="#1c1c1c" stroke-width="1.2" />
<text x="320.1" y="128.61" font-size="9.6" text-anchor="start" font-weight="normal" font-style="normal" fill="#1c1c1c" stroke="#1c1c1c" stroke-width="0.14" >-0.8</text>
<text transform="translate(350.98,67.7) rotate(-90)" x="0" y="0" font-size="9.8" text-anchor="middle" fill="#1c1c1c" stroke="#1c1c1c" stroke-width="0.14"><tspan font-style="italic">κ</tspan><tspan font-size="6.5" dy="2">avg</tspan><tspan dy="-2"> (cm</tspan><tspan font-size="6.5" dy="-3.5">−1</tspan><tspan dy="3.5">)</tspan></text>
<text x="373.2" y="9.01" font-size="11.3" text-anchor="middle" font-weight="bold" font-style="normal" fill="#1c1c1c" stroke="#1c1c1c" stroke-width="0.14" >c</text>
<polyline points="404,21.2 417.6,21.2 422.3,21.6 427,21.9 431,22.3 434.5,22.8 437.2,23.2 440.5,23.7 443.2,24.5 446.6,25.5 450,26.8 453.4,28.6 456.8,30.8 468.2,35.3 475.6,35.8 485.1,53.4 493,62.8 498.1,64 502,74.5 506,76.3 509.9,80.8 513.2,93.2" fill="none" stroke="#e45a5a" stroke-width="0.9" stroke-linejoin="round" stroke-dasharray="1 1.3" />
<polyline points="404,21.2 417.6,21.5 422.3,22 427,22.3 431,22.8 434.5,23.2 437.2,23.6 440.5,24.2 443.2,25 446.6,26 450,27.4 453.4,29.4 456.8,31.8 468.2,39.2 475.6,45.9 486.2,59.4 493,71.4 498.6,80.4 503.1,91 506.5,91.7 509.9,98.9 513.2,105.6" fill="none" stroke="#e45a5a" stroke-width="0.9" stroke-linejoin="round" stroke-dasharray="1 1.3" />
<polyline points="401.5,21.5 417.6,28.5 427,42.4 433,44.5 438,47.5 442.5,50.5 446.5,53.8 450.5,57.5 454.5,61.5 458,66 474.9,80.4 485.1,103.4" fill="none" stroke="#4e6e2a" stroke-width="0.9" stroke-linejoin="round" stroke-dasharray="1 1.3" />
<polyline points="401.5,21.5 417.6,27.6 428.4,35 435.1,41.1 440.5,45.8 444.6,49.2 448,52.6 451.4,56.6 454.7,60 458,64.5 458.5,71.8 474.9,93.2 485.1,109" fill="none" stroke="#4e6e2a" stroke-width="0.9" stroke-linejoin="round" stroke-dasharray="1 1.3" />
<circle cx="417.6" cy="21.5" r="2.3" fill="#e87070" />
<circle cx="422.3" cy="22" r="2.3" fill="#e87070" />
<circle cx="427" cy="22.3" r="2.3" fill="#e87070" />
<circle cx="431" cy="22.8" r="2.3" fill="#e87070" />
<circle cx="434.5" cy="23.2" r="2.3" fill="#e87070" />
<circle cx="437.2" cy="23.6" r="2.3" fill="#e87070" />
<circle cx="440.5" cy="24.2" r="2.3" fill="#e87070" />
<circle cx="443.2" cy="25" r="2.3" fill="#e87070" />
<circle cx="446.6" cy="26" r="2.3" fill="#e87070" />
<circle cx="450" cy="27.4" r="2.3" fill="#e87070" />
<circle cx="453.4" cy="29.4" r="2.3" fill="#e87070" />
<circle cx="456.8" cy="31.8" r="2.3" fill="#e87070" />
<circle cx="468.2" cy="39.2" r="2.3" fill="#e87070" />
<circle cx="475.6" cy="45.9" r="2.3" fill="#e87070" />
<circle cx="486.2" cy="59.4" r="2.3" fill="#e87070" />
<circle cx="493" cy="71.4" r="2.3" fill="#e87070" />
<circle cx="498.6" cy="80.4" r="2.3" fill="#e87070" />
<circle cx="503.1" cy="91" r="2.3" fill="#e87070" />
<circle cx="506.5" cy="91.7" r="2.3" fill="#e87070" />
<circle cx="509.9" cy="98.9" r="2.3" fill="#e87070" />
<circle cx="513.2" cy="105.6" r="2.3" fill="#e87070" />
<polygon points="417.6,18.67 420.02,22.93 415.19,22.93" fill="#e87070" stroke="none" stroke-width="1" />
<polygon points="422.3,19.07 424.72,23.33 419.88,23.33" fill="#e87070" stroke="none" stroke-width="1" />
<polygon points="427,19.37 429.42,23.62 424.58,23.62" fill="#e87070" stroke="none" stroke-width="1" />
<polygon points="431,19.77 433.42,24.03 428.58,24.03" fill="#e87070" stroke="none" stroke-width="1" />
<polygon points="434.5,20.27 436.92,24.53 432.08,24.53" fill="#e87070" stroke="none" stroke-width="1" />
<polygon points="437.2,20.67 439.62,24.93 434.78,24.93" fill="#e87070" stroke="none" stroke-width="1" />
<polygon points="440.5,21.17 442.92,25.43 438.08,25.43" fill="#e87070" stroke="none" stroke-width="1" />
<polygon points="443.2,21.97 445.62,26.23 440.78,26.23" fill="#e87070" stroke="none" stroke-width="1" />
<polygon points="446.6,22.97 449.02,27.23 444.19,27.23" fill="#e87070" stroke="none" stroke-width="1" />
<polygon points="450,24.27 452.42,28.53 447.58,28.53" fill="#e87070" stroke="none" stroke-width="1" />
<polygon points="453.4,26.07 455.81,30.33 450.98,30.33" fill="#e87070" stroke="none" stroke-width="1" />
<polygon points="456.8,28.27 459.22,32.52 454.38,32.52" fill="#e87070" stroke="none" stroke-width="1" />
<polygon points="468.2,32.77 470.62,37.02 465.78,37.02" fill="#e87070" stroke="none" stroke-width="1" />
<polygon points="475.6,33.27 478.02,37.52 473.19,37.52" fill="#e87070" stroke="none" stroke-width="1" />
<polygon points="485.1,50.87 487.52,55.12 482.69,55.12" fill="#e87070" stroke="none" stroke-width="1" />
<polygon points="493,60.27 495.42,64.52 490.58,64.52" fill="#e87070" stroke="none" stroke-width="1" />
<polygon points="498.1,61.47 500.52,65.72 495.69,65.72" fill="#e87070" stroke="none" stroke-width="1" />
<polygon points="502,71.97 504.42,76.22 499.58,76.22" fill="#e87070" stroke="none" stroke-width="1" />
<polygon points="506,73.77 508.42,78.02 503.58,78.02" fill="#e87070" stroke="none" stroke-width="1" />
<polygon points="509.9,78.27 512.31,82.52 507.48,82.52" fill="#e87070" stroke="none" stroke-width="1" />
<polygon points="513.2,90.67 515.62,94.92 510.79,94.92" fill="#e87070" stroke="none" stroke-width="1" />
<circle cx="417.6" cy="27.6" r="2.3" fill="#6e9440" />
<circle cx="428.4" cy="35" r="2.3" fill="#6e9440" />
<circle cx="435.1" cy="41.1" r="2.3" fill="#6e9440" />
<circle cx="440.5" cy="45.8" r="2.3" fill="#6e9440" />
<circle cx="444.6" cy="49.2" r="2.3" fill="#6e9440" />
<circle cx="448" cy="52.6" r="2.3" fill="#6e9440" />
<circle cx="451.4" cy="56.6" r="2.3" fill="#6e9440" />
<circle cx="454.7" cy="60" r="2.3" fill="#6e9440" />
<circle cx="458" cy="64.5" r="2.3" fill="#6e9440" />
<circle cx="458.5" cy="71.8" r="2.3" fill="#6e9440" />
<circle cx="474.9" cy="93.2" r="2.3" fill="#6e9440" />
<circle cx="485.1" cy="109" r="2.3" fill="#6e9440" />
<polygon points="417.6,25.97 420.02,30.23 415.19,30.23" fill="#6e9440" stroke="none" stroke-width="1" />
<polygon points="427,39.87 429.42,44.12 424.58,44.12" fill="#6e9440" stroke="none" stroke-width="1" />
<polygon points="433,41.97 435.42,46.23 430.58,46.23" fill="#6e9440" stroke="none" stroke-width="1" />
<polygon points="438,44.97 440.42,49.23 435.58,49.23" fill="#6e9440" stroke="none" stroke-width="1" />
<polygon points="442.5,47.97 444.92,52.23 440.08,52.23" fill="#6e9440" stroke="none" stroke-width="1" />
<polygon points="446.5,51.27 448.92,55.52 444.08,55.52" fill="#6e9440" stroke="none" stroke-width="1" />
<polygon points="450.5,54.97 452.92,59.23 448.08,59.23" fill="#6e9440" stroke="none" stroke-width="1" />
<polygon points="454.5,58.97 456.92,63.23 452.08,63.23" fill="#6e9440" stroke="none" stroke-width="1" />
<polygon points="458,63.47 460.42,67.72 455.58,67.72" fill="#6e9440" stroke="none" stroke-width="1" />
<polygon points="474.9,77.87 477.31,82.12 472.48,82.12" fill="#6e9440" stroke="none" stroke-width="1" />
<polygon points="485.1,100.87 487.52,105.12 482.69,105.12" fill="#6e9440" stroke="none" stroke-width="1" />
<rect x="401" y="12.3" width="114" height="113.7" fill="none" stroke="#1c1c1c" stroke-width="1.3" />
<line x1="397" y1="21" x2="401" y2="21" stroke="#1c1c1c" stroke-width="1.2" />
<text x="393.7" y="23.91" font-size="9.6" text-anchor="end" font-weight="normal" font-style="normal" fill="#1c1c1c" stroke="#1c1c1c" stroke-width="0.14" >0</text>
<line x1="397" y1="73.5" x2="401" y2="73.5" stroke="#1c1c1c" stroke-width="1.2" />
<text x="393.7" y="76.41" font-size="9.6" text-anchor="end" font-weight="normal" font-style="normal" fill="#1c1c1c" stroke="#1c1c1c" stroke-width="0.14" >-12</text>
<line x1="397" y1="126" x2="401" y2="126" stroke="#1c1c1c" stroke-width="1.2" />
<text x="393.7" y="128.91" font-size="9.6" text-anchor="end" font-weight="normal" font-style="normal" fill="#1c1c1c" stroke="#1c1c1c" stroke-width="0.14" >-24</text>
<line x1="418.16" y1="126" x2="418.16" y2="128.3" stroke="#1c1c1c" stroke-width="0.9" />
<line x1="428.2" y1="126" x2="428.2" y2="128.3" stroke="#1c1c1c" stroke-width="0.9" />
<line x1="435.32" y1="126" x2="435.32" y2="128.3" stroke="#1c1c1c" stroke-width="0.9" />
<line x1="440.84" y1="126" x2="440.84" y2="128.3" stroke="#1c1c1c" stroke-width="0.9" />
<line x1="445.35" y1="126" x2="445.35" y2="128.3" stroke="#1c1c1c" stroke-width="0.9" />
<line x1="449.17" y1="126" x2="449.17" y2="128.3" stroke="#1c1c1c" stroke-width="0.9" />
<line x1="452.48" y1="126" x2="452.48" y2="128.3" stroke="#1c1c1c" stroke-width="0.9" />
<line x1="455.39" y1="126" x2="455.39" y2="128.3" stroke="#1c1c1c" stroke-width="0.9" />
<line x1="475.16" y1="126" x2="475.16" y2="128.3" stroke="#1c1c1c" stroke-width="0.9" />
<line x1="485.2" y1="126" x2="485.2" y2="128.3" stroke="#1c1c1c" stroke-width="0.9" />
<line x1="492.32" y1="126" x2="492.32" y2="128.3" stroke="#1c1c1c" stroke-width="0.9" />
<line x1="497.84" y1="126" x2="497.84" y2="128.3" stroke="#1c1c1c" stroke-width="0.9" />
<line x1="502.35" y1="126" x2="502.35" y2="128.3" stroke="#1c1c1c" stroke-width="0.9" />
<line x1="506.17" y1="126" x2="506.17" y2="128.3" stroke="#1c1c1c" stroke-width="0.9" />
<line x1="509.48" y1="126" x2="509.48" y2="128.3" stroke="#1c1c1c" stroke-width="0.9" />
<line x1="512.39" y1="126" x2="512.39" y2="128.3" stroke="#1c1c1c" stroke-width="0.9" />
<line x1="401" y1="126" x2="401" y2="130" stroke="#1c1c1c" stroke-width="1.2" />
<line x1="458" y1="126" x2="458" y2="130" stroke="#1c1c1c" stroke-width="1.2" />
<line x1="515" y1="126" x2="515" y2="130" stroke="#1c1c1c" stroke-width="1.2" />
<text x="402.5" y="144.05" font-size="10" text-anchor="middle" fill="#1c1c1c" stroke="#1c1c1c" stroke-width="0.14">10<tspan font-size="6.8" dy="-4">-2</tspan></text>
<text x="459.5" y="144.05" font-size="10" text-anchor="middle" fill="#1c1c1c" stroke="#1c1c1c" stroke-width="0.14">10<tspan font-size="6.8" dy="-4">-1</tspan></text>
<text x="516.2" y="144.05" font-size="10" text-anchor="middle" fill="#1c1c1c" stroke="#1c1c1c" stroke-width="0.14">10<tspan font-size="6.8" dy="-4">0</tspan></text>
<text x="458.5" y="156.28" font-size="9.8" text-anchor="middle" font-weight="normal" font-style="normal" fill="#1c1c1c" stroke="#1c1c1c" stroke-width="0.14" >Frequency (Hz)</text>
<text transform="translate(373.98,68.9) rotate(-90)" x="0" y="0" font-size="9.8" text-anchor="middle" fill="#1c1c1c" stroke="#1c1c1c" stroke-width="0.14">Magnitude (dB)</text>
<polyline points="408.5,100.5 420,100.5" fill="none" stroke="#4e6238" stroke-width="1.1" stroke-linejoin="round" stroke-dasharray="1.1 1.1" />
<text x="423.5" y="104.14" font-size="9.7" text-anchor="start" font-weight="normal" font-style="normal" fill="#1c1c1c" stroke="#1c1c1c" stroke-width="0.14" >OL</text>
<circle cx="444.4" cy="100.7" r="2" fill="#111" />
<text x="451.5" y="104.14" font-size="9.7" text-anchor="start" font-weight="normal" font-style="italic" fill="#1c1c1c" stroke="#1c1c1c" stroke-width="0.14" >T</text>
<polyline points="408.5,113.5 420,113.5" fill="none" stroke="#e05a5a" stroke-width="1.1" stroke-linejoin="round" stroke-dasharray="1.1 1.1" />
<text x="423.5" y="117.04" font-size="9.7" text-anchor="start" font-weight="normal" font-style="normal" fill="#1c1c1c" stroke="#1c1c1c" stroke-width="0.14" >CL</text>
<polygon points="445,110.99 447.2,114.88 442.8,114.88" fill="#111" stroke="none" stroke-width="1" />
<text x="451.5" y="117.04" font-size="9.7" text-anchor="start" font-weight="normal" font-style="normal" fill="#1c1c1c" stroke="#1c1c1c" stroke-width="0.14" ><tspan font-style="italic">κ</tspan><tspan font-size="6.5" dy="2">avg</tspan></text>
<text x="539" y="8.71" font-size="11.3" text-anchor="middle" font-weight="bold" font-style="normal" fill="#1c1c1c" stroke="#1c1c1c" stroke-width="0.14" >d</text>
<polyline points="563.5,18.1 581.6,18.3 591.1,18.8 597.8,19.3 603.2,20.5 607.3,21.5 611.4,23 614,24.3 616.8,25.8 619.5,27.2 622.2,28.8 630.3,38 638.4,52 647.8,66.5 654.6,76 660,81.5 664,86.8 668.1,90 672.2,94.5 676.2,99.5 677.6,101.5" fill="none" stroke="#e45a5a" stroke-width="0.9" stroke-linejoin="round" stroke-dasharray="1 1.3" />
<polyline points="563.5,18.1 581.6,18.1 591.1,18.6 597.8,18.9 603.2,20 607.3,20.8 611.4,22.2 614,23.5 616.8,24.9 619.5,26.2 622.2,27.6 630.3,37 638.4,50.5 647.8,65.4 654.6,77 660,82.4 664,85.7 668.1,91.1 672.2,96.5 676.2,101.9 677.6,103.2" fill="none" stroke="#e45a5a" stroke-width="0.9" stroke-linejoin="round" stroke-dasharray="1 1.3" />
<polyline points="564,28.9 581.1,33.8 591,38.5 597.8,41.1 603.2,41.9 607.3,53.2 614,62.7 617,63.3 620.8,64 638.4,73.5 647.8,77.6" fill="none" stroke="#4e6e2a" stroke-width="0.9" stroke-linejoin="round" stroke-dasharray="1 1.3" />
<polyline points="564,28.9 581.1,39.7 597.8,50.5 604.6,53.8 610,57.3 615.4,61.4 618.1,62.7 620.5,63.3 638.4,70.8 647.8,77.6" fill="none" stroke="#4e6e2a" stroke-width="0.9" stroke-linejoin="round" stroke-dasharray="1 1.3" />
<circle cx="581.6" cy="18.1" r="2.3" fill="#e87070" />
<circle cx="591.1" cy="18.6" r="2.3" fill="#e87070" />
<circle cx="597.8" cy="18.9" r="2.3" fill="#e87070" />
<circle cx="603.2" cy="20" r="2.3" fill="#e87070" />
<circle cx="607.3" cy="20.8" r="2.3" fill="#e87070" />
<circle cx="611.4" cy="22.2" r="2.3" fill="#e87070" />
<circle cx="614" cy="23.5" r="2.3" fill="#e87070" />
<circle cx="616.8" cy="24.9" r="2.3" fill="#e87070" />
<circle cx="619.5" cy="26.2" r="2.3" fill="#e87070" />
<circle cx="622.2" cy="27.6" r="2.3" fill="#e87070" />
<circle cx="630.3" cy="37" r="2.3" fill="#e87070" />
<circle cx="638.4" cy="50.5" r="2.3" fill="#e87070" />
<circle cx="647.8" cy="65.4" r="2.3" fill="#e87070" />
<circle cx="654.6" cy="77" r="2.3" fill="#e87070" />
<circle cx="660" cy="82.4" r="2.3" fill="#e87070" />
<circle cx="664" cy="85.7" r="2.3" fill="#e87070" />
<circle cx="668.1" cy="91.1" r="2.3" fill="#e87070" />
<circle cx="672.2" cy="96.5" r="2.3" fill="#e87070" />
<circle cx="676.2" cy="101.9" r="2.3" fill="#e87070" />
<circle cx="677.6" cy="103.2" r="2.3" fill="#e87070" />
<polygon points="581.6,15.77 584.01,20.03 579.19,20.03" fill="#e87070" stroke="none" stroke-width="1" />
<polygon points="591.1,16.27 593.51,20.53 588.69,20.53" fill="#e87070" stroke="none" stroke-width="1" />
<polygon points="597.8,16.77 600.21,21.03 595.38,21.03" fill="#e87070" stroke="none" stroke-width="1" />
<polygon points="603.2,17.97 605.62,22.23 600.79,22.23" fill="#e87070" stroke="none" stroke-width="1" />
<polygon points="607.3,18.97 609.71,23.23 604.88,23.23" fill="#e87070" stroke="none" stroke-width="1" />
<polygon points="611.4,20.47 613.81,24.73 608.99,24.73" fill="#e87070" stroke="none" stroke-width="1" />
<polygon points="614,21.77 616.41,26.03 611.59,26.03" fill="#e87070" stroke="none" stroke-width="1" />
<polygon points="616.8,23.27 619.21,27.53 614.38,27.53" fill="#e87070" stroke="none" stroke-width="1" />
<polygon points="619.5,24.67 621.91,28.93 617.09,28.93" fill="#e87070" stroke="none" stroke-width="1" />
<polygon points="622.2,26.27 624.62,30.53 619.79,30.53" fill="#e87070" stroke="none" stroke-width="1" />
<polygon points="630.3,35.47 632.71,39.73 627.88,39.73" fill="#e87070" stroke="none" stroke-width="1" />
<polygon points="638.4,49.47 640.81,53.73 635.99,53.73" fill="#e87070" stroke="none" stroke-width="1" />
<polygon points="647.8,63.97 650.21,68.22 645.38,68.22" fill="#e87070" stroke="none" stroke-width="1" />
<polygon points="654.6,73.47 657.01,77.72 652.19,77.72" fill="#e87070" stroke="none" stroke-width="1" />
<polygon points="660,78.97 662.41,83.22 657.59,83.22" fill="#e87070" stroke="none" stroke-width="1" />
<polygon points="664,84.27 666.41,88.52 661.59,88.52" fill="#e87070" stroke="none" stroke-width="1" />
<polygon points="668.1,87.47 670.51,91.72 665.69,91.72" fill="#e87070" stroke="none" stroke-width="1" />
<polygon points="672.2,91.97 674.62,96.22 669.79,96.22" fill="#e87070" stroke="none" stroke-width="1" />
<polygon points="676.2,96.97 678.62,101.22 673.79,101.22" fill="#e87070" stroke="none" stroke-width="1" />
<polygon points="677.6,98.97 680.01,103.22 675.19,103.22" fill="#e87070" stroke="none" stroke-width="1" />
<circle cx="581.1" cy="39.7" r="2.3" fill="#6e9440" />
<circle cx="597.8" cy="50.5" r="2.3" fill="#6e9440" />
<circle cx="604.6" cy="53.8" r="2.3" fill="#6e9440" />
<circle cx="610" cy="57.3" r="2.3" fill="#6e9440" />
<circle cx="615.4" cy="61.4" r="2.3" fill="#6e9440" />
<circle cx="618.1" cy="62.7" r="2.3" fill="#6e9440" />
<circle cx="620.5" cy="63.3" r="2.3" fill="#6e9440" />
<circle cx="638.4" cy="70.8" r="2.3" fill="#6e9440" />
<circle cx="647.8" cy="77.6" r="2.3" fill="#6e9440" />
<polygon points="581.1,31.27 583.51,35.52 578.69,35.52" fill="#6e9440" stroke="none" stroke-width="1" />
<polygon points="591,35.97 593.41,40.23 588.59,40.23" fill="#6e9440" stroke="none" stroke-width="1" />
<polygon points="597.8,38.57 600.21,42.83 595.38,42.83" fill="#6e9440" stroke="none" stroke-width="1" />
<polygon points="603.2,39.37 605.62,43.62 600.79,43.62" fill="#6e9440" stroke="none" stroke-width="1" />
<polygon points="607.3,50.67 609.71,54.93 604.88,54.93" fill="#6e9440" stroke="none" stroke-width="1" />
<polygon points="614,60.17 616.41,64.42 611.59,64.42" fill="#6e9440" stroke="none" stroke-width="1" />
<polygon points="617,60.77 619.41,65.02 614.59,65.02" fill="#6e9440" stroke="none" stroke-width="1" />
<polygon points="620.8,61.47 623.21,65.72 618.38,65.72" fill="#6e9440" stroke="none" stroke-width="1" />
<polygon points="638.4,70.97 640.81,75.22 635.99,75.22" fill="#6e9440" stroke="none" stroke-width="1" />
<polygon points="647.8,75.07 650.21,79.32 645.38,79.32" fill="#6e9440" stroke="none" stroke-width="1" />
<rect x="563.5" y="12.3" width="114.5" height="113.7" fill="none" stroke="#1c1c1c" stroke-width="1.3" />
<line x1="559.5" y1="18" x2="563.5" y2="18" stroke="#1c1c1c" stroke-width="1.2" />
<text x="556.2" y="20.91" font-size="9.6" text-anchor="end" font-weight="normal" font-style="normal" fill="#1c1c1c" stroke="#1c1c1c" stroke-width="0.14" >0</text>
<line x1="559.5" y1="72" x2="563.5" y2="72" stroke="#1c1c1c" stroke-width="1.2" />
<text x="556.2" y="74.91" font-size="9.6" text-anchor="end" font-weight="normal" font-style="normal" fill="#1c1c1c" stroke="#1c1c1c" stroke-width="0.14" >-90</text>
<line x1="559.5" y1="126" x2="563.5" y2="126" stroke="#1c1c1c" stroke-width="1.2" />
<text x="556.2" y="128.91" font-size="9.6" text-anchor="end" font-weight="normal" font-style="normal" fill="#1c1c1c" stroke="#1c1c1c" stroke-width="0.14" >-180</text>
<line x1="580.66" y1="126" x2="580.66" y2="128.3" stroke="#1c1c1c" stroke-width="0.9" />
<line x1="590.7" y1="126" x2="590.7" y2="128.3" stroke="#1c1c1c" stroke-width="0.9" />
<line x1="597.82" y1="126" x2="597.82" y2="128.3" stroke="#1c1c1c" stroke-width="0.9" />
<line x1="603.34" y1="126" x2="603.34" y2="128.3" stroke="#1c1c1c" stroke-width="0.9" />
<line x1="607.85" y1="126" x2="607.85" y2="128.3" stroke="#1c1c1c" stroke-width="0.9" />
<line x1="611.67" y1="126" x2="611.67" y2="128.3" stroke="#1c1c1c" stroke-width="0.9" />
<line x1="614.98" y1="126" x2="614.98" y2="128.3" stroke="#1c1c1c" stroke-width="0.9" />
<line x1="617.89" y1="126" x2="617.89" y2="128.3" stroke="#1c1c1c" stroke-width="0.9" />
<line x1="637.66" y1="126" x2="637.66" y2="128.3" stroke="#1c1c1c" stroke-width="0.9" />
<line x1="647.7" y1="126" x2="647.7" y2="128.3" stroke="#1c1c1c" stroke-width="0.9" />
<line x1="654.82" y1="126" x2="654.82" y2="128.3" stroke="#1c1c1c" stroke-width="0.9" />
<line x1="660.34" y1="126" x2="660.34" y2="128.3" stroke="#1c1c1c" stroke-width="0.9" />
<line x1="664.85" y1="126" x2="664.85" y2="128.3" stroke="#1c1c1c" stroke-width="0.9" />
<line x1="668.67" y1="126" x2="668.67" y2="128.3" stroke="#1c1c1c" stroke-width="0.9" />
<line x1="671.98" y1="126" x2="671.98" y2="128.3" stroke="#1c1c1c" stroke-width="0.9" />
<line x1="674.89" y1="126" x2="674.89" y2="128.3" stroke="#1c1c1c" stroke-width="0.9" />
<line x1="563.5" y1="126" x2="563.5" y2="130" stroke="#1c1c1c" stroke-width="1.2" />
<line x1="620.7" y1="126" x2="620.7" y2="130" stroke="#1c1c1c" stroke-width="1.2" />
<line x1="678" y1="126" x2="678" y2="130" stroke="#1c1c1c" stroke-width="1.2" />
<text x="565" y="144.05" font-size="10" text-anchor="middle" fill="#1c1c1c" stroke="#1c1c1c" stroke-width="0.14">10<tspan font-size="6.8" dy="-4">-2</tspan></text>
<text x="622.2" y="144.05" font-size="10" text-anchor="middle" fill="#1c1c1c" stroke="#1c1c1c" stroke-width="0.14">10<tspan font-size="6.8" dy="-4">-1</tspan></text>
<text x="679.2" y="144.05" font-size="10" text-anchor="middle" fill="#1c1c1c" stroke="#1c1c1c" stroke-width="0.14">10<tspan font-size="6.8" dy="-4">0</tspan></text>
<text x="620.7" y="156.28" font-size="9.8" text-anchor="middle" font-weight="normal" font-style="normal" fill="#1c1c1c" stroke="#1c1c1c" stroke-width="0.14" >Frequency (Hz)</text>
<text transform="translate(531.98,68.6) rotate(-90)" x="0" y="0" font-size="9.8" text-anchor="middle" fill="#1c1c1c" stroke="#1c1c1c" stroke-width="0.14">Phase (°)</text>
<polyline points="572,100.5 584,100.5" fill="none" stroke="#4e6238" stroke-width="1.1" stroke-linejoin="round" stroke-dasharray="1.1 1.1" />
<text x="586" y="103.94" font-size="9.7" text-anchor="start" font-weight="normal" font-style="normal" fill="#1c1c1c" stroke="#1c1c1c" stroke-width="0.14" >OL</text>
<circle cx="607.3" cy="100.5" r="2" fill="#111" />
<text x="614.5" y="103.94" font-size="9.7" text-anchor="start" font-weight="normal" font-style="italic" fill="#1c1c1c" stroke="#1c1c1c" stroke-width="0.14" >T</text>
<polyline points="572,112.5 584,112.5" fill="none" stroke="#e05a5a" stroke-width="1.1" stroke-linejoin="round" stroke-dasharray="1.1 1.1" />
<text x="586" y="116.14" font-size="9.7" text-anchor="start" font-weight="normal" font-style="normal" fill="#1c1c1c" stroke="#1c1c1c" stroke-width="0.14" >CL</text>
<polygon points="607.8,110.09 610,113.98 605.59,113.98" fill="#111" stroke="none" stroke-width="1" />
<text x="614.5" y="116.14" font-size="9.7" text-anchor="start" font-weight="normal" font-style="normal" fill="#1c1c1c" stroke="#1c1c1c" stroke-width="0.14" ><tspan font-style="italic">κ</tspan><tspan font-size="6.5" dy="2">avg</tspan></text>
<text x="4.2" y="175.51" font-size="11.3" text-anchor="middle" font-weight="bold" font-style="normal" fill="#1c1c1c" stroke="#1c1c1c" stroke-width="0.14" >e</text>
<rect x="107.2" y="185.2" width="131.2" height="72.8" fill="#d6dce6" stroke="none" stroke-width="1" />
<rect x="107.2" y="270.5" width="131.2" height="38" fill="#d6dce6" stroke="none" stroke-width="1" />
<line x1="63.5" y1="185.2" x2="63.5" y2="308.5" stroke="#8c8c8c" stroke-width="0.9" />
<line x1="146.6" y1="185.2" x2="146.6" y2="308.5" stroke="#8c8c8c" stroke-width="0.9" />
<line x1="215.8" y1="185.2" x2="215.8" y2="308.5" stroke="#8c8c8c" stroke-width="0.9" />
<line x1="285.5" y1="185.2" x2="285.5" y2="308.5" stroke="#8c8c8c" stroke-width="0.9" />
<text x="127" y="198.17" font-size="9.5" text-anchor="start" font-weight="normal" font-style="normal" fill="#4a6aa8" stroke="#4a6aa8" stroke-width="0.14" >ON</text>
<polyline points="113,192.2 121,192.2" fill="none" stroke="#4a6aa8" stroke-width="1.0" stroke-linejoin="round"  />
<polyline points="111,194.6 122,194.6" fill="none" stroke="#4a6aa8" stroke-width="1.0" stroke-linejoin="round"  />
<polyline points="113,197 120,197" fill="none" stroke="#4a6aa8" stroke-width="1.0" stroke-linejoin="round"  />
<path d="M121,192.2 a1.6,1.6 0 1 0 -1.2,-2.6 M122,194.6 a1.8,1.8 0 1 1 -1.2,3.0" fill="none" stroke="#4a6aa8" stroke-width="1"/>
<polygon points="110.2,194.6 113,193 113,196.2" fill="#4a6aa8" stroke="none" stroke-width="1" />
<defs><clipPath id="ce1"><rect x="36.5" y="185.2" width="276.5" height="72.8"/></clipPath><clipPath id="ce2"><rect x="36.5" y="270.5" width="276.5" height="38"/></clipPath><clipPath id="cf1"><rect x="401.3" y="185.2" width="276.5" height="72.8"/></clipPath><clipPath id="cf2"><rect x="401.3" y="270.5" width="276.5" height="38"/></clipPath></defs>
<g clip-path="url(#ce1)">
<polyline points="36.5,208.9 37.88,208.9 39.27,208.9 40.65,208.9 42.03,208.9 43.41,208.9 44.8,208.9 46.18,208.9 47.56,208.9 48.94,208.9 50.33,208.9 51.71,208.9 53.09,208.9 54.47,208.9 55.86,208.9 57.24,208.9 58.62,208.9 60,208.9 61.38,208.9 62.77,208.9 64.15,208.9 65.53,208.9 66.91,208.9 68.3,208.9 69.68,208.9 71.06,208.9 72.44,208.9 73.83,208.9 75.21,208.9 76.59,208.9 77.97,208.9 79.36,208.9 80.74,208.9 82.12,208.9 83.5,208.9 84.89,208.9 86.27,208.9 87.65,208.9 89.03,208.9 90.42,208.9 91.8,208.9 93.18,208.9 94.56,208.9 95.95,208.9 97.33,208.9 98.71,208.9 100.09,208.9 101.48,208.9 102.86,208.9 104.24,208.9 105.62,208.9 107.01,208.9 108.39,208.96 109.77,209.02 111.16,209.08 112.54,209.14 113.92,209.19 115.3,209.24 116.69,209.29 118.07,209.34 119.45,209.38 120.83,209.43 122.22,209.47 123.6,209.51 124.98,209.55 126.36,209.59 127.75,209.62 129.13,209.66 130.51,209.69 131.89,209.72 133.27,209.75 134.66,209.78 136.04,209.81 137.42,209.84 138.81,209.86 140.19,209.89 141.57,209.91 142.95,209.93 144.34,209.96 145.72,209.98 147.1,210 148.48,210.02 149.87,210.04 151.25,210.06 152.63,210.07 154.01,210.09 155.39,210.11 156.78,210.12 158.16,210.14 159.54,210.15 160.93,210.16 162.31,210.18 163.69,210.19 165.07,210.2 166.45,210.21 167.84,210.22 169.22,210.24 170.6,210.25 171.99,210.26 173.37,210.27 174.75,210.27 176.13,210.28 177.52,210.29 178.9,210.3 180.28,210.31 181.66,210.32 183.05,210.32 184.43,210.33 185.81,210.34 187.19,210.34 188.57,210.35 189.96,210.35 191.34,210.36 192.72,210.37 194.1,210.37 195.49,210.38 196.87,210.38 198.25,210.39 199.63,210.39 201.02,210.39 202.4,210.4 203.78,210.4 205.16,210.41 206.55,210.41 207.93,210.41 209.31,210.42 210.7,210.42 212.08,210.42 213.46,210.43 214.84,210.43 216.22,210.43 217.61,210.43 218.99,210.44 220.37,210.44 221.75,210.44 223.14,210.44 224.52,210.45 225.9,210.45 227.28,210.45 228.67,210.45 230.05,210.45 231.43,210.46 232.81,210.46 234.2,210.46 235.58,210.46 236.96,210.46 238.34,210.46 239.73,210.35 241.11,210.24 242.49,210.13 243.88,210.04 245.26,209.94 246.64,209.85 248.02,209.77 249.41,209.68 250.79,209.61 252.17,209.53 253.55,209.46 254.94,209.4 256.32,209.33 257.7,209.27 259.08,209.22 260.46,209.16 261.85,209.11 263.23,209.06 264.61,209.01 266,208.97 267.38,208.93 268.76,208.89 270.14,208.85 271.52,208.81 272.91,208.78 274.29,208.74 275.67,208.71 277.06,208.68 278.44,208.65 279.82,208.63 281.2,208.6 282.59,208.58 283.97,208.55 285.35,208.53 286.73,208.51 288.12,208.49 289.5,208.47 290.88,208.45 292.26,208.44 293.64,208.42 295.03,208.4 296.41,208.39 297.79,208.38 299.18,208.36 300.56,208.35 301.94,208.34 303.32,208.33 304.71,208.31 306.09,208.3 307.47,208.29 308.85,208.28 310.24,208.28 311.62,208.27 313,208.26" fill="none" stroke="#f0d49c" stroke-width="4.6" stroke-linejoin="round"  />
<polyline points="36.5,246.3 37.88,246.3 39.27,246.3 40.65,246.3 42.03,246.3 43.41,246.3 44.8,246.3 46.18,246.3 47.56,246.3 48.94,246.3 50.33,246.3 51.71,246.3 53.09,246.3 54.47,246.3 55.86,246.3 57.24,246.3 58.62,246.3 60,246.3 61.38,246.3 62.77,246.3 64.15,246.3 65.53,246.3 66.91,246.3 68.3,246.3 69.68,246.3 71.06,246.3 72.44,246.3 73.83,246.3 75.21,246.3 76.59,246.3 77.97,246.3 79.36,246.3 80.74,246.3 82.12,246.3 83.5,246.3 84.89,246.3 86.27,246.3 87.65,246.3 89.03,246.3 90.42,246.3 91.8,246.3 93.18,246.3 94.56,246.3 95.95,246.3 97.33,246.3 98.71,246.3 100.09,246.3 101.48,246.3 102.86,246.3 104.24,246.3 105.62,246.3 107.01,246.3 108.39,246.3 109.77,246.3 111.16,246.3 112.54,246.3 113.92,246.3 115.3,246.3 116.69,246.3 118.07,246.3 119.45,246.3 120.83,246.3 122.22,246.3 123.6,246.3 124.98,246.3 126.36,246.3 127.75,246.3 129.13,246.3 130.51,246.3 131.89,246.3 133.27,246.3 134.66,246.3 136.04,246.3 137.42,246.3 138.81,246.3 140.19,246.3 141.57,246.3 142.95,246.3 144.34,246.3 145.72,246.3 147.1,246.3 148.48,246.3 149.87,246.3 151.25,246.3 152.63,246.3 154.01,246.3 155.39,246.3 156.78,246.3 158.16,246.3 159.54,246.3 160.93,246.3 162.31,246.3 163.69,246.3 165.07,246.3 166.45,246.3 167.84,246.3 169.22,246.3 170.6,246.3 171.99,246.3 173.37,246.3 174.75,246.3 176.13,246.3 177.52,246.3 178.9,246.3 180.28,246.3 181.66,246.3 183.05,246.3 184.43,246.3 185.81,246.3 187.19,246.3 188.57,246.3 189.96,246.3 191.34,246.3 192.72,246.3 194.1,246.3 195.49,246.3 196.87,246.3 198.25,246.3 199.63,246.3 201.02,246.3 202.4,246.3 203.78,246.3 205.16,246.3 206.55,246.3 207.93,246.3 209.31,246.3 210.7,246.3 212.08,246.3 213.46,246.3 214.84,246.3 216.22,246.3 217.61,246.3 218.99,246.3 220.37,246.3 221.75,246.3 223.14,246.3 224.52,246.3 225.9,246.3 227.28,246.3 228.67,246.3 230.05,246.3 231.43,246.3 232.81,246.3 234.2,246.3 235.58,246.3 236.96,246.3 238.34,246.3 239.73,246.3 241.11,246.3 242.49,246.3 243.88,246.3 245.26,246.3 246.64,246.3 248.02,246.3 249.41,246.3 250.79,246.3 252.17,246.3 253.55,246.3 254.94,246.3 256.32,246.3 257.7,246.3 259.08,246.3 260.46,246.3 261.85,246.3 263.23,246.3 264.61,246.3 266,246.3 267.38,246.3 268.76,246.3 270.14,246.3 271.52,246.3 272.91,246.3 274.29,246.3 275.67,246.3 277.06,246.3 278.44,246.3 279.82,246.3 281.2,246.3 282.59,246.3 283.97,246.3 285.35,246.3 286.73,246.3 288.12,246.3 289.5,246.3 290.88,246.3 292.26,246.3 293.64,246.3 295.03,246.3 296.41,246.3 297.79,246.3 299.18,246.3 300.56,246.3 301.94,246.3 303.32,246.3 304.71,246.3 306.09,246.3 307.47,246.3 308.85,246.3 310.24,246.3 311.62,246.3 313,246.3" fill="none" stroke="#c4ecea" stroke-width="4.0" stroke-linejoin="round"  />
<polyline points="36.5,221.6 37.88,221.6 39.27,221.6 40.65,221.6 42.03,221.6 43.41,221.6 44.8,221.6 46.18,221.6 47.56,221.6 48.94,221.6 50.33,221.6 51.71,221.6 53.09,221.6 54.47,221.6 55.86,221.6 57.24,221.6 58.62,221.6 60,221.6 61.38,221.6 62.77,221.6 64.15,221.6 65.53,221.6 66.91,221.6 68.3,221.6 69.68,221.6 71.06,221.6 72.44,221.6 73.83,221.6 75.21,221.6 76.59,221.6 77.97,221.6 79.36,221.6 80.74,221.6 82.12,221.6 83.5,221.6 84.89,221.6 86.27,221.6 87.65,221.6 89.03,221.6 90.42,221.6 91.8,221.6 93.18,221.6 94.56,221.6 95.95,221.6 97.33,221.6 98.71,221.6 100.09,221.6 101.48,221.6 102.86,221.6 104.24,221.6 105.62,221.6 107.01,221.6 108.39,221.67 109.77,221.73 111.16,221.79 112.54,221.85 113.92,221.91 115.3,221.96 116.69,222.02 118.07,222.07 119.45,222.11 120.83,222.16 122.22,222.21 123.6,222.25 124.98,222.29 126.36,222.33 127.75,222.37 129.13,222.4 130.51,222.44 131.89,222.47 133.27,222.5 134.66,222.54 136.04,222.57 137.42,222.59 138.81,222.62 140.19,222.65 141.57,222.67 142.95,222.7 144.34,222.72 145.72,222.75 147.1,222.77 148.48,222.79 149.87,222.81 151.25,222.83 152.63,222.85 154.01,222.86 155.39,222.88 156.78,222.9 158.16,222.91 159.54,222.93 160.93,222.94 162.31,222.96 163.69,222.97 165.07,222.98 166.45,223 167.84,223.01 169.22,223.02 170.6,223.03 171.99,223.04 173.37,223.05 174.75,223.06 176.13,223.07 177.52,223.08 178.9,223.09 180.28,223.1 181.66,223.1 183.05,223.11 184.43,223.12 185.81,223.13 187.19,223.13 188.57,223.14 189.96,223.15 191.34,223.15 192.72,223.16 194.1,223.16 195.49,223.17 196.87,223.17 198.25,223.18 199.63,223.18 201.02,223.19 202.4,223.19 203.78,223.2 205.16,223.2 206.55,223.2 207.93,223.21 209.31,223.21 210.7,223.22 212.08,223.22 213.46,223.22 214.84,223.22 216.22,223.23 217.61,223.23 218.99,223.23 220.37,223.24 221.75,223.24 223.14,223.24 224.52,223.24 225.9,223.25 227.28,223.25 228.67,223.25 230.05,223.25 231.43,223.25 232.81,223.26 234.2,223.26 235.58,223.26 236.96,223.26 238.34,223.26 239.73,223.14 241.11,223.02 242.49,222.91 243.88,222.81 245.26,222.71 246.64,222.61 248.02,222.52 249.41,222.43 250.79,222.35 252.17,222.27 253.55,222.2 254.94,222.13 256.32,222.06 257.7,222 259.08,221.94 260.46,221.88 261.85,221.82 263.23,221.77 264.61,221.72 266,221.67 267.38,221.63 268.76,221.59 270.14,221.55 271.52,221.51 272.91,221.47 274.29,221.43 275.67,221.4 277.06,221.37 278.44,221.34 279.82,221.31 281.2,221.28 282.59,221.26 283.97,221.23 285.35,221.21 286.73,221.19 288.12,221.17 289.5,221.14 290.88,221.13 292.26,221.11 293.64,221.09 295.03,221.07 296.41,221.06 297.79,221.04 299.18,221.03 300.56,221.01 301.94,221 303.32,220.99 304.71,220.98 306.09,220.97 307.47,220.96 308.85,220.95 310.24,220.94 311.62,220.93 313,220.92" fill="none" stroke="#d8d8f2" stroke-width="3.5" stroke-linejoin="round"  />
<polyline points="36.5,211.2 37.88,211.2 39.27,211.2 40.65,211.2 42.03,211.2 43.41,211.2 44.8,211.2 46.18,211.2 47.56,211.2 48.94,211.2 50.33,211.2 51.71,211.2 53.09,211.2 54.47,211.2 55.86,211.2 57.24,211.2 58.62,211.2 60,211.2 61.38,211.2 62.77,211.2 64.15,211.2 65.53,211.2 66.91,211.2 68.3,211.2 69.68,211.2 71.06,211.2 72.44,211.2 73.83,211.2 75.21,211.2 76.59,211.2 77.97,211.2 79.36,211.2 80.74,211.2 82.12,211.2 83.5,211.2 84.89,211.2 86.27,211.2 87.65,211.2 89.03,211.2 90.42,211.2 91.8,211.2 93.18,211.2 94.56,211.2 95.95,211.2 97.33,211.2 98.71,211.2 100.09,211.2 101.48,211.2 102.86,211.2 104.24,211.2 105.62,211.2 107.01,211.2 108.39,211.46 109.77,211.7 111.16,211.95 112.54,212.18 113.92,212.4 115.3,212.62 116.69,212.83 118.07,213.03 119.45,213.23 120.83,213.42 122.22,213.6 123.6,213.78 124.98,213.95 126.36,214.12 127.75,214.28 129.13,214.44 130.51,214.59 131.89,214.73 133.27,214.87 134.66,215.01 136.04,215.14 137.42,215.27 138.81,215.39 140.19,215.51 141.57,215.63 142.95,215.74 144.34,215.85 145.72,215.95 147.1,216.05 148.48,216.15 149.87,216.24 151.25,216.34 152.63,216.42 154.01,216.51 155.39,216.59 156.78,216.67 158.16,216.75 159.54,216.82 160.93,216.9 162.31,216.97 163.69,217.03 165.07,217.1 166.45,217.16 167.84,217.22 169.22,217.28 170.6,217.34 171.99,217.4 173.37,217.45 174.75,217.5 176.13,217.55 177.52,217.6 178.9,217.65 180.28,217.69 181.66,217.74 183.05,217.78 184.43,217.82 185.81,217.86 187.19,217.9 188.57,217.93 189.96,217.97 191.34,218.01 192.72,218.04 194.1,218.07 195.49,218.1 196.87,218.13 198.25,218.16 199.63,218.19 201.02,218.22 202.4,218.24 203.78,218.27 205.16,218.3 206.55,218.32 207.93,218.34 209.31,218.37 210.7,218.39 212.08,218.41 213.46,218.43 214.84,218.45 216.22,218.47 217.61,218.49 218.99,218.5 220.37,218.52 221.75,218.54 223.14,218.55 224.52,218.57 225.9,218.58 227.28,218.6 228.67,218.61 230.05,218.63 231.43,218.64 232.81,218.65 234.2,218.67 235.58,218.68 236.96,218.69 238.34,218.7 239.73,218.63 241.11,218.55 242.49,218.48 243.88,218.41 245.26,218.33 246.64,218.26 248.02,218.19 249.41,218.12 250.79,218.05 252.17,217.99 253.55,217.92 254.94,217.85 256.32,217.79 257.7,217.72 259.08,217.66 260.46,217.59 261.85,217.53 263.23,217.46 264.61,217.4 266,217.34 267.38,217.28 268.76,217.22 270.14,217.16 271.52,217.1 272.91,217.04 274.29,216.98 275.67,216.93 277.06,216.87 278.44,216.81 279.82,216.76 281.2,216.7 282.59,216.65 283.97,216.59 285.35,216.54 286.73,216.49 288.12,216.43 289.5,216.38 290.88,216.33 292.26,216.28 293.64,216.23 295.03,216.18 296.41,216.13 297.79,216.08 299.18,216.03 300.56,215.98 301.94,215.93 303.32,215.89 304.71,215.84 306.09,215.79 307.47,215.75 308.85,215.7 310.24,215.66 311.62,215.61 313,215.57" fill="none" stroke="#e8dc98" stroke-width="1.3" stroke-linejoin="round" stroke-dasharray="1.6 1.6" />
<polyline points="36.5,210.3 37.88,210.3 39.27,210.3 40.65,210.3 42.03,210.3 43.41,210.3 44.8,210.3 46.18,210.3 47.56,210.3 48.94,210.3 50.33,210.3 51.71,210.3 53.09,210.3 54.47,210.3 55.86,210.3 57.24,210.3 58.62,210.3 60,210.3 61.38,210.3 62.77,210.3 64.15,210.3 65.53,210.3 66.91,210.3 68.3,210.3 69.68,210.3 71.06,210.3 72.44,210.3 73.83,210.3 75.21,210.3 76.59,210.3 77.97,210.3 79.36,210.3 80.74,210.3 82.12,210.3 83.5,210.3 84.89,210.3 86.27,210.3 87.65,210.3 89.03,210.3 90.42,210.3 91.8,210.3 93.18,210.3 94.56,210.3 95.95,210.3 97.33,210.3 98.71,210.3 100.09,210.3 101.48,210.3 102.86,210.3 104.24,210.3 105.62,210.3 107.01,210.3 108.39,210.68 109.77,211.04 111.16,211.39 112.54,211.73 113.92,212.06 115.3,212.38 116.69,212.69 118.07,212.99 119.45,213.28 120.83,213.56 122.22,213.83 123.6,214.09 124.98,214.34 126.36,214.58 127.75,214.82 129.13,215.05 130.51,215.27 131.89,215.48 133.27,215.69 134.66,215.89 136.04,216.08 137.42,216.27 138.81,216.45 140.19,216.62 141.57,216.79 142.95,216.96 144.34,217.11 145.72,217.27 147.1,217.42 148.48,217.56 149.87,217.7 151.25,217.83 152.63,217.96 154.01,218.09 155.39,218.21 156.78,218.33 158.16,218.44 159.54,218.55 160.93,218.65 162.31,218.76 163.69,218.86 165.07,218.95 166.45,219.04 167.84,219.13 169.22,219.22 170.6,219.31 171.99,219.39 173.37,219.47 174.75,219.54 176.13,219.61 177.52,219.69 178.9,219.75 180.28,219.82 181.66,219.89 183.05,219.95 184.43,220.01 185.81,220.07 187.19,220.12 188.57,220.18 189.96,220.23 191.34,220.28 192.72,220.33 194.1,220.38 195.49,220.42 196.87,220.47 198.25,220.51 199.63,220.55 201.02,220.59 202.4,220.63 203.78,220.67 205.16,220.71 206.55,220.74 207.93,220.78 209.31,220.81 210.7,220.84 212.08,220.87 213.46,220.9 214.84,220.93 216.22,220.96 217.61,220.99 218.99,221.01 220.37,221.04 221.75,221.06 223.14,221.09 224.52,221.11 225.9,221.13 227.28,221.15 228.67,221.17 230.05,221.19 231.43,221.21 232.81,221.23 234.2,221.25 235.58,221.27 236.96,221.28 238.34,221.3 239.73,221.19 241.11,221.08 242.49,220.97 243.88,220.87 245.26,220.76 246.64,220.66 248.02,220.56 249.41,220.45 250.79,220.35 252.17,220.25 253.55,220.15 254.94,220.06 256.32,219.96 257.7,219.86 259.08,219.77 260.46,219.67 261.85,219.58 263.23,219.49 264.61,219.4 266,219.31 267.38,219.22 268.76,219.13 270.14,219.04 271.52,218.95 272.91,218.87 274.29,218.78 275.67,218.7 277.06,218.61 278.44,218.53 279.82,218.45 281.2,218.37 282.59,218.29 283.97,218.21 285.35,218.13 286.73,218.05 288.12,217.97 289.5,217.9 290.88,217.82 292.26,217.75 293.64,217.67 295.03,217.6 296.41,217.53 297.79,217.46 299.18,217.38 300.56,217.31 301.94,217.24 303.32,217.18 304.71,217.11 306.09,217.04 307.47,216.97 308.85,216.91 310.24,216.84 311.62,216.77 313,216.71" fill="none" stroke="#a8482c" stroke-width="1.4" stroke-linejoin="round" stroke-dasharray="2.4 1.8" />
<polyline points="36.5,221.9 37.88,221.9 39.27,221.9 40.65,221.9 42.03,221.9 43.41,221.9 44.8,221.9 46.18,221.9 47.56,221.9 48.94,221.9 50.33,221.9 51.71,221.9 53.09,221.9 54.47,221.9 55.86,221.9 57.24,221.9 58.62,221.9 60,221.9 61.38,221.9 62.77,221.9 64.15,221.9 65.53,221.9 66.91,221.9 68.3,221.9 69.68,221.9 71.06,221.9 72.44,221.9 73.83,221.9 75.21,221.9 76.59,221.9 77.97,221.9 79.36,221.9 80.74,221.9 82.12,221.9 83.5,221.9 84.89,221.9 86.27,221.9 87.65,221.9 89.03,221.9 90.42,221.9 91.8,221.9 93.18,221.9 94.56,221.9 95.95,221.9 97.33,221.9 98.71,221.9 100.09,221.9 101.48,221.9 102.86,221.9 104.24,221.9 105.62,221.9 107.01,221.9 108.39,222.24 109.77,222.56 111.16,222.87 112.54,223.18 113.92,223.47 115.3,223.75 116.69,224.03 118.07,224.29 119.45,224.55 120.83,224.8 122.22,225.04 123.6,225.27 124.98,225.5 126.36,225.72 127.75,225.93 129.13,226.13 130.51,226.33 131.89,226.52 133.27,226.7 134.66,226.88 136.04,227.05 137.42,227.22 138.81,227.38 140.19,227.53 141.57,227.68 142.95,227.83 144.34,227.97 145.72,228.11 147.1,228.24 148.48,228.37 149.87,228.49 151.25,228.61 152.63,228.73 154.01,228.84 155.39,228.95 156.78,229.05 158.16,229.15 159.54,229.25 160.93,229.34 162.31,229.43 163.69,229.52 165.07,229.61 166.45,229.69 167.84,229.77 169.22,229.85 170.6,229.92 171.99,230 173.37,230.07 174.75,230.13 176.13,230.2 177.52,230.26 178.9,230.32 180.28,230.38 181.66,230.44 183.05,230.5 184.43,230.55 185.81,230.6 187.19,230.65 188.57,230.7 189.96,230.75 191.34,230.79 192.72,230.84 194.1,230.88 195.49,230.92 196.87,230.96 198.25,231 199.63,231.03 201.02,231.07 202.4,231.11 203.78,231.14 205.16,231.17 206.55,231.2 207.93,231.23 209.31,231.26 210.7,231.29 212.08,231.32 213.46,231.35 214.84,231.37 216.22,231.4 217.61,231.42 218.99,231.44 220.37,231.47 221.75,231.49 223.14,231.51 224.52,231.53 225.9,231.55 227.28,231.57 228.67,231.59 230.05,231.6 231.43,231.62 232.81,231.64 234.2,231.65 235.58,231.67 236.96,231.69 238.34,231.7 239.73,231.6 241.11,231.51 242.49,231.41 243.88,231.32 245.26,231.22 246.64,231.13 248.02,231.04 249.41,230.95 250.79,230.86 252.17,230.77 253.55,230.68 254.94,230.59 256.32,230.51 257.7,230.42 259.08,230.33 260.46,230.25 261.85,230.17 263.23,230.09 264.61,230 266,229.92 267.38,229.84 268.76,229.76 270.14,229.69 271.52,229.61 272.91,229.53 274.29,229.46 275.67,229.38 277.06,229.31 278.44,229.23 279.82,229.16 281.2,229.09 282.59,229.02 283.97,228.95 285.35,228.88 286.73,228.81 288.12,228.74 289.5,228.67 290.88,228.6 292.26,228.54 293.64,228.47 295.03,228.4 296.41,228.34 297.79,228.27 299.18,228.21 300.56,228.15 301.94,228.09 303.32,228.03 304.71,227.96 306.09,227.9 307.47,227.84 308.85,227.78 310.24,227.73 311.62,227.67 313,227.61" fill="none" stroke="#1e1e78" stroke-width="1.5" stroke-linejoin="round" stroke-dasharray="2.4 1.8" />
<polyline points="36.5,246.8 37.88,246.8 39.27,246.8 40.65,246.8 42.03,246.8 43.41,246.8 44.8,246.8 46.18,246.8 47.56,246.8 48.94,246.8 50.33,246.8 51.71,246.8 53.09,246.8 54.47,246.8 55.86,246.8 57.24,246.8 58.62,246.8 60,246.8 61.38,246.8 62.77,246.8 64.15,246.8 65.53,246.8 66.91,246.8 68.3,246.8 69.68,246.8 71.06,246.8 72.44,246.8 73.83,246.8 75.21,246.8 76.59,246.8 77.97,246.8 79.36,246.8 80.74,246.8 82.12,246.8 83.5,246.8 84.89,246.8 86.27,246.8 87.65,246.8 89.03,246.8 90.42,246.8 91.8,246.8 93.18,246.8 94.56,246.8 95.95,246.8 97.33,246.8 98.71,246.8 100.09,246.8 101.48,246.8 102.86,246.8 104.24,246.8 105.62,246.8 107.01,246.8 108.39,246.9 109.77,247 111.16,247.1 112.54,247.19 113.92,247.28 115.3,247.37 116.69,247.45 118.07,247.53 119.45,247.61 120.83,247.69 122.22,247.76 123.6,247.83 124.98,247.9 126.36,247.97 127.75,248.03 129.13,248.09 130.51,248.15 131.89,248.21 133.27,248.27 134.66,248.32 136.04,248.38 137.42,248.43 138.81,248.48 140.19,248.52 141.57,248.57 142.95,248.62 144.34,248.66 145.72,248.7 147.1,248.74 148.48,248.78 149.87,248.82 151.25,248.85 152.63,248.89 154.01,248.92 155.39,248.96 156.78,248.99 158.16,249.02 159.54,249.05 160.93,249.08 162.31,249.11 163.69,249.13 165.07,249.16 166.45,249.18 167.84,249.21 169.22,249.23 170.6,249.26 171.99,249.28 173.37,249.3 174.75,249.32 176.13,249.34 177.52,249.36 178.9,249.38 180.28,249.4 181.66,249.41 183.05,249.43 184.43,249.45 185.81,249.46 187.19,249.48 188.57,249.49 189.96,249.51 191.34,249.52 192.72,249.54 194.1,249.55 195.49,249.56 196.87,249.57 198.25,249.58 199.63,249.6 201.02,249.61 202.4,249.62 203.78,249.63 205.16,249.64 206.55,249.65 207.93,249.66 209.31,249.67 210.7,249.67 212.08,249.68 213.46,249.69 214.84,249.7 216.22,249.71 217.61,249.71 218.99,249.72 220.37,249.73 221.75,249.74 223.14,249.74 224.52,249.75 225.9,249.75 227.28,249.76 228.67,249.77 230.05,249.77 231.43,249.78 232.81,249.78 234.2,249.79 235.58,249.79 236.96,249.8 238.34,249.8 239.73,249.77 241.11,249.74 242.49,249.71 243.88,249.68 245.26,249.65 246.64,249.63 248.02,249.6 249.41,249.57 250.79,249.54 252.17,249.51 253.55,249.49 254.94,249.46 256.32,249.43 257.7,249.41 259.08,249.38 260.46,249.36 261.85,249.33 263.23,249.31 264.61,249.28 266,249.26 267.38,249.23 268.76,249.21 270.14,249.18 271.52,249.16 272.91,249.14 274.29,249.11 275.67,249.09 277.06,249.07 278.44,249.04 279.82,249.02 281.2,249 282.59,248.98 283.97,248.96 285.35,248.94 286.73,248.91 288.12,248.89 289.5,248.87 290.88,248.85 292.26,248.83 293.64,248.81 295.03,248.79 296.41,248.77 297.79,248.75 299.18,248.73 300.56,248.71 301.94,248.69 303.32,248.68 304.71,248.66 306.09,248.64 307.47,248.62 308.85,248.6 310.24,248.58 311.62,248.57 313,248.55" fill="none" stroke="#1e6a62" stroke-width="1.3" stroke-linejoin="round" stroke-dasharray="2.2 1.8" />
<polyline points="36.5,208.6 37.88,208.6 39.27,208.6 40.65,208.6 42.03,208.6 43.41,208.6 44.8,208.6 46.18,208.6 47.56,208.6 48.94,208.6 50.33,208.6 51.71,208.6 53.09,208.6 54.47,208.6 55.86,208.6 57.24,208.6 58.62,208.6 60,208.6 61.38,208.6 62.77,208.6 64.15,208.6 65.53,208.6 66.91,208.6 68.3,208.6 69.68,208.6 71.06,208.6 72.44,208.6 73.83,208.6 75.21,208.6 76.59,208.6 77.97,208.6 79.36,208.6 80.74,208.6 82.12,208.6 83.5,208.6 84.89,208.6 86.27,208.6 87.65,208.6 89.03,208.6 90.42,208.6 91.8,208.6 93.18,208.6 94.56,208.6 95.95,208.6 97.33,208.6 98.71,208.6 100.09,208.6 101.48,208.6 102.86,208.6 104.24,208.6 105.62,208.6 107.01,208.6 108.39,208.66 109.77,208.72 111.16,208.78 112.54,208.84 113.92,208.89 115.3,208.94 116.69,208.99 118.07,209.04 119.45,209.08 120.83,209.13 122.22,209.17 123.6,209.21 124.98,209.25 126.36,209.29 127.75,209.32 129.13,209.36 130.51,209.39 131.89,209.42 133.27,209.45 134.66,209.48 136.04,209.51 137.42,209.54 138.81,209.56 140.19,209.59 141.57,209.61 142.95,209.63 144.34,209.66 145.72,209.68 147.1,209.7 148.48,209.72 149.87,209.74 151.25,209.76 152.63,209.77 154.01,209.79 155.39,209.81 156.78,209.82 158.16,209.84 159.54,209.85 160.93,209.86 162.31,209.88 163.69,209.89 165.07,209.9 166.45,209.91 167.84,209.92 169.22,209.94 170.6,209.95 171.99,209.96 173.37,209.97 174.75,209.97 176.13,209.98 177.52,209.99 178.9,210 180.28,210.01 181.66,210.02 183.05,210.02 184.43,210.03 185.81,210.04 187.19,210.04 188.57,210.05 189.96,210.05 191.34,210.06 192.72,210.07 194.1,210.07 195.49,210.08 196.87,210.08 198.25,210.09 199.63,210.09 201.02,210.09 202.4,210.1 203.78,210.1 205.16,210.11 206.55,210.11 207.93,210.11 209.31,210.12 210.7,210.12 212.08,210.12 213.46,210.13 214.84,210.13 216.22,210.13 217.61,210.13 218.99,210.14 220.37,210.14 221.75,210.14 223.14,210.14 224.52,210.15 225.9,210.15 227.28,210.15 228.67,210.15 230.05,210.15 231.43,210.16 232.81,210.16 234.2,210.16 235.58,210.16 236.96,210.16 238.34,210.16 239.73,210.05 241.11,209.94 242.49,209.83 243.88,209.74 245.26,209.64 246.64,209.55 248.02,209.47 249.41,209.38 250.79,209.31 252.17,209.23 253.55,209.16 254.94,209.1 256.32,209.03 257.7,208.97 259.08,208.92 260.46,208.86 261.85,208.81 263.23,208.76 264.61,208.71 266,208.67 267.38,208.63 268.76,208.59 270.14,208.55 271.52,208.51 272.91,208.48 274.29,208.44 275.67,208.41 277.06,208.38 278.44,208.35 279.82,208.33 281.2,208.3 282.59,208.28 283.97,208.25 285.35,208.23 286.73,208.21 288.12,208.19 289.5,208.17 290.88,208.15 292.26,208.14 293.64,208.12 295.03,208.1 296.41,208.09 297.79,208.08 299.18,208.06 300.56,208.05 301.94,208.04 303.32,208.03 304.71,208.01 306.09,208 307.47,207.99 308.85,207.98 310.24,207.98 311.62,207.97 313,207.96" fill="none" stroke="#e0a248" stroke-width="2.0" stroke-linejoin="round"  />
<polyline points="36.5,210 37.88,210 39.27,210 40.65,210 42.03,210 43.41,210 44.8,210 46.18,210 47.56,210 48.94,210 50.33,210 51.71,210 53.09,210 54.47,210 55.86,210 57.24,210 58.62,210 60,210 61.38,210 62.77,210 64.15,210 65.53,210 66.91,210 68.3,210 69.68,210 71.06,210 72.44,210 73.83,210 75.21,210 76.59,210 77.97,210 79.36,210 80.74,210 82.12,210 83.5,210 84.89,210 86.27,210 87.65,210 89.03,210 90.42,210 91.8,210 93.18,210 94.56,210 95.95,210 97.33,210 98.71,210 100.09,210 101.48,210 102.86,210 104.24,210 105.62,210 107.01,210 108.39,210.07 109.77,210.14 111.16,210.2 112.54,210.27 113.92,210.33 115.3,210.38 116.69,210.44 118.07,210.49 119.45,210.54 120.83,210.59 122.22,210.64 123.6,210.69 124.98,210.73 126.36,210.77 127.75,210.81 129.13,210.85 130.51,210.89 131.89,210.92 133.27,210.96 134.66,210.99 136.04,211.02 137.42,211.05 138.81,211.08 140.19,211.11 141.57,211.14 142.95,211.16 144.34,211.19 145.72,211.21 147.1,211.24 148.48,211.26 149.87,211.28 151.25,211.3 152.63,211.32 154.01,211.34 155.39,211.36 156.78,211.37 158.16,211.39 159.54,211.41 160.93,211.42 162.31,211.44 163.69,211.45 165.07,211.46 166.45,211.48 167.84,211.49 169.22,211.5 170.6,211.51 171.99,211.53 173.37,211.54 174.75,211.55 176.13,211.56 177.52,211.57 178.9,211.58 180.28,211.58 181.66,211.59 183.05,211.6 184.43,211.61 185.81,211.62 187.19,211.62 188.57,211.63 189.96,211.64 191.34,211.64 192.72,211.65 194.1,211.66 195.49,211.66 196.87,211.67 198.25,211.67 199.63,211.68 201.02,211.68 202.4,211.69 203.78,211.69 205.16,211.69 206.55,211.7 207.93,211.7 209.31,211.71 210.7,211.71 212.08,211.71 213.46,211.72 214.84,211.72 216.22,211.72 217.61,211.73 218.99,211.73 220.37,211.73 221.75,211.73 223.14,211.74 224.52,211.74 225.9,211.74 227.28,211.74 228.67,211.75 230.05,211.75 231.43,211.75 232.81,211.75 234.2,211.75 235.58,211.76 236.96,211.76 238.34,211.76 239.73,211.63 241.11,211.51 242.49,211.39 243.88,211.28 245.26,211.17 246.64,211.07 248.02,210.97 249.41,210.88 250.79,210.8 252.17,210.71 253.55,210.63 254.94,210.56 256.32,210.49 257.7,210.42 259.08,210.36 260.46,210.3 261.85,210.24 263.23,210.18 264.61,210.13 266,210.08 267.38,210.03 268.76,209.99 270.14,209.94 271.52,209.9 272.91,209.86 274.29,209.82 275.67,209.79 277.06,209.76 278.44,209.72 279.82,209.69 281.2,209.66 282.59,209.64 283.97,209.61 285.35,209.59 286.73,209.56 288.12,209.54 289.5,209.52 290.88,209.5 292.26,209.48 293.64,209.46 295.03,209.44 296.41,209.43 297.79,209.41 299.18,209.39 300.56,209.38 301.94,209.37 303.32,209.35 304.71,209.34 306.09,209.33 307.47,209.32 308.85,209.31 310.24,209.3 311.62,209.29 313,209.28" fill="none" stroke="#f6e6b8" stroke-width="0.9" stroke-linejoin="round" stroke-dasharray="1.6 1.6" />
<polyline points="36.5,221.6 37.88,221.6 39.27,221.6 40.65,221.6 42.03,221.6 43.41,221.6 44.8,221.6 46.18,221.6 47.56,221.6 48.94,221.6 50.33,221.6 51.71,221.6 53.09,221.6 54.47,221.6 55.86,221.6 57.24,221.6 58.62,221.6 60,221.6 61.38,221.6 62.77,221.6 64.15,221.6 65.53,221.6 66.91,221.6 68.3,221.6 69.68,221.6 71.06,221.6 72.44,221.6 73.83,221.6 75.21,221.6 76.59,221.6 77.97,221.6 79.36,221.6 80.74,221.6 82.12,221.6 83.5,221.6 84.89,221.6 86.27,221.6 87.65,221.6 89.03,221.6 90.42,221.6 91.8,221.6 93.18,221.6 94.56,221.6 95.95,221.6 97.33,221.6 98.71,221.6 100.09,221.6 101.48,221.6 102.86,221.6 104.24,221.6 105.62,221.6 107.01,221.6 108.39,221.67 109.77,221.73 111.16,221.79 112.54,221.85 113.92,221.91 115.3,221.96 116.69,222.02 118.07,222.07 119.45,222.11 120.83,222.16 122.22,222.21 123.6,222.25 124.98,222.29 126.36,222.33 127.75,222.37 129.13,222.4 130.51,222.44 131.89,222.47 133.27,222.5 134.66,222.54 136.04,222.57 137.42,222.59 138.81,222.62 140.19,222.65 141.57,222.67 142.95,222.7 144.34,222.72 145.72,222.75 147.1,222.77 148.48,222.79 149.87,222.81 151.25,222.83 152.63,222.85 154.01,222.86 155.39,222.88 156.78,222.9 158.16,222.91 159.54,222.93 160.93,222.94 162.31,222.96 163.69,222.97 165.07,222.98 166.45,223 167.84,223.01 169.22,223.02 170.6,223.03 171.99,223.04 173.37,223.05 174.75,223.06 176.13,223.07 177.52,223.08 178.9,223.09 180.28,223.1 181.66,223.1 183.05,223.11 184.43,223.12 185.81,223.13 187.19,223.13 188.57,223.14 189.96,223.15 191.34,223.15 192.72,223.16 194.1,223.16 195.49,223.17 196.87,223.17 198.25,223.18 199.63,223.18 201.02,223.19 202.4,223.19 203.78,223.2 205.16,223.2 206.55,223.2 207.93,223.21 209.31,223.21 210.7,223.22 212.08,223.22 213.46,223.22 214.84,223.22 216.22,223.23 217.61,223.23 218.99,223.23 220.37,223.24 221.75,223.24 223.14,223.24 224.52,223.24 225.9,223.25 227.28,223.25 228.67,223.25 230.05,223.25 231.43,223.25 232.81,223.26 234.2,223.26 235.58,223.26 236.96,223.26 238.34,223.26 239.73,223.14 241.11,223.02 242.49,222.91 243.88,222.81 245.26,222.71 246.64,222.61 248.02,222.52 249.41,222.43 250.79,222.35 252.17,222.27 253.55,222.2 254.94,222.13 256.32,222.06 257.7,222 259.08,221.94 260.46,221.88 261.85,221.82 263.23,221.77 264.61,221.72 266,221.67 267.38,221.63 268.76,221.59 270.14,221.55 271.52,221.51 272.91,221.47 274.29,221.43 275.67,221.4 277.06,221.37 278.44,221.34 279.82,221.31 281.2,221.28 282.59,221.26 283.97,221.23 285.35,221.21 286.73,221.19 288.12,221.17 289.5,221.14 290.88,221.13 292.26,221.11 293.64,221.09 295.03,221.07 296.41,221.06 297.79,221.04 299.18,221.03 300.56,221.01 301.94,221 303.32,220.99 304.71,220.98 306.09,220.97 307.47,220.96 308.85,220.95 310.24,220.94 311.62,220.93 313,220.92" fill="none" stroke="#2a2ab4" stroke-width="1.6" stroke-linejoin="round"  />
<polyline points="36.5,246.3 37.88,246.3 39.27,246.3 40.65,246.3 42.03,246.3 43.41,246.3 44.8,246.3 46.18,246.3 47.56,246.3 48.94,246.3 50.33,246.3 51.71,246.3 53.09,246.3 54.47,246.3 55.86,246.3 57.24,246.3 58.62,246.3 60,246.3 61.38,246.3 62.77,246.3 64.15,246.3 65.53,246.3 66.91,246.3 68.3,246.3 69.68,246.3 71.06,246.3 72.44,246.3 73.83,246.3 75.21,246.3 76.59,246.3 77.97,246.3 79.36,246.3 80.74,246.3 82.12,246.3 83.5,246.3 84.89,246.3 86.27,246.3 87.65,246.3 89.03,246.3 90.42,246.3 91.8,246.3 93.18,246.3 94.56,246.3 95.95,246.3 97.33,246.3 98.71,246.3 100.09,246.3 101.48,246.3 102.86,246.3 104.24,246.3 105.62,246.3 107.01,246.3 108.39,246.31 109.77,246.32 111.16,246.32 112.54,246.33 113.92,246.34 115.3,246.34 116.69,246.35 118.07,246.35 119.45,246.36 120.83,246.37 122.22,246.37 123.6,246.38 124.98,246.38 126.36,246.39 127.75,246.39 129.13,246.39 130.51,246.4 131.89,246.4 133.27,246.41 134.66,246.41 136.04,246.41 137.42,246.42 138.81,246.42 140.19,246.42 141.57,246.43 142.95,246.43 144.34,246.43 145.72,246.43 147.1,246.44 148.48,246.44 149.87,246.44 151.25,246.44 152.63,246.45 154.01,246.45 155.39,246.45 156.78,246.45 158.16,246.45 159.54,246.46 160.93,246.46 162.31,246.46 163.69,246.46 165.07,246.46 166.45,246.46 167.84,246.47 169.22,246.47 170.6,246.47 171.99,246.47 173.37,246.47 174.75,246.47 176.13,246.47 177.52,246.47 178.9,246.48 180.28,246.48 181.66,246.48 183.05,246.48 184.43,246.48 185.81,246.48 187.19,246.48 188.57,246.48 189.96,246.48 191.34,246.48 192.72,246.48 194.1,246.48 195.49,246.48 196.87,246.49 198.25,246.49 199.63,246.49 201.02,246.49 202.4,246.49 203.78,246.49 205.16,246.49 206.55,246.49 207.93,246.49 209.31,246.49 210.7,246.49 212.08,246.49 213.46,246.49 214.84,246.49 216.22,246.49 217.61,246.49 218.99,246.49 220.37,246.49 221.75,246.49 223.14,246.49 224.52,246.49 225.9,246.49 227.28,246.49 228.67,246.49 230.05,246.49 231.43,246.49 232.81,246.49 234.2,246.49 235.58,246.5 236.96,246.5 238.34,246.5 239.73,246.48 241.11,246.47 242.49,246.45 243.88,246.44 245.26,246.43 246.64,246.42 248.02,246.41 249.41,246.4 250.79,246.39 252.17,246.38 253.55,246.37 254.94,246.36 256.32,246.35 257.7,246.35 259.08,246.34 260.46,246.33 261.85,246.33 263.23,246.32 264.61,246.31 266,246.31 267.38,246.3 268.76,246.3 270.14,246.29 271.52,246.29 272.91,246.28 274.29,246.28 275.67,246.28 277.06,246.27 278.44,246.27 279.82,246.27 281.2,246.26 282.59,246.26 283.97,246.26 285.35,246.25 286.73,246.25 288.12,246.25 289.5,246.25 290.88,246.24 292.26,246.24 293.64,246.24 295.03,246.24 296.41,246.24 297.79,246.23 299.18,246.23 300.56,246.23 301.94,246.23 303.32,246.23 304.71,246.23 306.09,246.23 307.47,246.22 308.85,246.22 310.24,246.22 311.62,246.22 313,246.22" fill="none" stroke="#2a9488" stroke-width="1.5" stroke-linejoin="round"  />
</g>
<g clip-path="url(#ce2)">
<polygon points="36.5,289.5 37.88,289.5 39.27,289.5 40.65,289.5 42.03,289.5 43.41,289.5 44.8,289.5 46.18,289.5 47.56,289.5 48.94,289.5 50.33,289.5 51.71,289.5 53.09,289.5 54.47,289.5 55.86,289.5 57.24,289.5 58.62,289.5 60,289.5 61.38,289.5 62.77,289.5 64.15,289.5 65.53,289.5 66.91,289.5 68.3,289.5 69.68,289.5 71.06,289.5 72.44,289.5 73.83,289.5 75.21,289.5 76.59,289.5 77.97,289.5 79.36,289.5 80.74,289.5 82.12,289.5 83.5,289.5 84.89,289.5 86.27,289.5 87.65,289.5 89.03,289.5 90.42,289.5 91.8,289.5 93.18,289.5 94.56,289.5 95.95,289.5 97.33,289.49 98.71,289.49 100.09,289.49 101.48,289.48 102.86,289.47 104.24,289.46 105.62,289.44 107.01,289.41 108.39,289.36 109.77,289.3 111.16,289.21 112.54,289.08 113.92,288.91 115.3,288.69 116.69,288.41 118.07,288.1 119.45,287.75 120.83,287.4 122.22,287.09 123.6,286.81 124.98,286.59 126.36,286.42 127.75,286.29 129.13,286.2 130.51,286.14 131.89,286.09 133.27,286.06 134.66,286.04 136.04,286.03 137.42,286.02 138.81,286.01 140.19,286.01 141.57,286.01 142.95,286 144.34,286 145.72,286 147.1,286 148.48,286 149.87,286 151.25,286 152.63,286 154.01,286 155.39,286 156.78,286 158.16,286 159.54,286 160.93,286 162.31,286 163.69,286 165.07,286 166.45,286 167.84,286 169.22,286 170.6,286 171.99,286 173.37,286 174.75,286 176.13,286 177.52,286 178.9,286 180.28,286 181.66,286 183.05,286 184.43,286 185.81,286 187.19,286 188.57,286 189.96,286 191.34,286 192.72,286 194.1,286 195.49,286 196.87,286 198.25,286 199.63,286 201.02,286 202.4,286 203.78,286 205.16,286 206.55,286 207.93,286 209.31,286 210.7,286 212.08,286 213.46,286 214.84,286 216.22,286 217.61,286 218.99,286 220.37,286 221.75,286 223.14,286 224.52,286 225.9,286 227.28,286 228.67,286 230.05,286 231.43,286 232.81,286 234.2,286 235.58,286 236.96,286 238.34,286 239.73,286 241.11,286 242.49,286 243.88,286 245.26,286 246.64,286 248.02,286 249.41,286 250.79,286 252.17,286 253.55,286 254.94,286 256.32,286 257.7,286 259.08,286 260.46,286.01 261.85,286.01 263.23,286.01 264.61,286.02 266,286.03 267.38,286.04 268.76,286.06 270.14,286.09 271.52,286.14 272.91,286.2 274.29,286.29 275.67,286.42 277.06,286.59 278.44,286.81 279.82,287.09 281.2,287.4 282.59,287.75 283.97,288.1 285.35,288.41 286.73,288.69 288.12,288.91 289.5,289.08 290.88,289.21 292.26,289.3 293.64,289.36 295.03,289.41 296.41,289.44 297.79,289.46 299.18,289.47 300.56,289.48 301.94,289.49 303.32,289.49 304.71,289.49 306.09,289.5 307.47,289.5 308.85,289.5 310.24,289.5 311.62,289.5 313,289.5 313,296.8 311.62,296.8 310.24,296.8 308.85,296.8 307.47,296.8 306.09,296.8 304.71,296.8 303.32,296.8 301.94,296.8 300.56,296.8 299.18,296.8 297.79,296.81 296.41,296.81 295.03,296.81 293.64,296.82 292.26,296.83 290.88,296.84 289.5,296.86 288.12,296.88 286.73,296.92 285.35,296.96 283.97,297 282.59,297.05 281.2,297.1 279.82,297.14 278.44,297.18 277.06,297.22 275.67,297.24 274.29,297.26 272.91,297.27 271.52,297.28 270.14,297.29 268.76,297.29 267.38,297.29 266,297.3 264.61,297.3 263.23,297.3 261.85,297.3 260.46,297.3 259.08,297.3 257.7,297.3 256.32,297.3 254.94,297.3 253.55,297.3 252.17,297.3 250.79,297.3 249.41,297.3 248.02,297.3 246.64,297.3 245.26,297.3 243.88,297.3 242.49,297.3 241.11,297.3 239.73,297.3 238.34,297.3 236.96,297.3 235.58,297.3 234.2,297.3 232.81,297.3 231.43,297.3 230.05,297.3 228.67,297.3 227.28,297.3 225.9,297.3 224.52,297.3 223.14,297.3 221.75,297.3 220.37,297.3 218.99,297.3 217.61,297.3 216.22,297.3 214.84,297.3 213.46,297.3 212.08,297.3 210.7,297.3 209.31,297.3 207.93,297.3 206.55,297.3 205.16,297.3 203.78,297.3 202.4,297.3 201.02,297.3 199.63,297.3 198.25,297.3 196.87,297.3 195.49,297.3 194.1,297.3 192.72,297.3 191.34,297.3 189.96,297.3 188.57,297.3 187.19,297.3 185.81,297.3 184.43,297.3 183.05,297.3 181.66,297.3 180.28,297.3 178.9,297.3 177.52,297.3 176.13,297.3 174.75,297.3 173.37,297.3 171.99,297.3 170.6,297.3 169.22,297.3 167.84,297.3 166.45,297.3 165.07,297.3 163.69,297.3 162.31,297.3 160.93,297.3 159.54,297.3 158.16,297.3 156.78,297.3 155.39,297.3 154.01,297.3 152.63,297.3 151.25,297.3 149.87,297.3 148.48,297.3 147.1,297.3 145.72,297.3 144.34,297.3 142.95,297.3 141.57,297.3 140.19,297.3 138.81,297.3 137.42,297.3 136.04,297.3 134.66,297.29 133.27,297.29 131.89,297.29 130.51,297.28 129.13,297.27 127.75,297.26 126.36,297.24 124.98,297.22 123.6,297.18 122.22,297.14 120.83,297.1 119.45,297.05 118.07,297 116.69,296.96 115.3,296.92 113.92,296.88 112.54,296.86 111.16,296.84 109.77,296.83 108.39,296.82 107.01,296.81 105.62,296.81 104.24,296.81 102.86,296.8 101.48,296.8 100.09,296.8 98.71,296.8 97.33,296.8 95.95,296.8 94.56,296.8 93.18,296.8 91.8,296.8 90.42,296.8 89.03,296.8 87.65,296.8 86.27,296.8 84.89,296.8 83.5,296.8 82.12,296.8 80.74,296.8 79.36,296.8 77.97,296.8 76.59,296.8 75.21,296.8 73.83,296.8 72.44,296.8 71.06,296.8 69.68,296.8 68.3,296.8 66.91,296.8 65.53,296.8 64.15,296.8 62.77,296.8 61.38,296.8 60,296.8 58.62,296.8 57.24,296.8 55.86,296.8 54.47,296.8 53.09,296.8 51.71,296.8 50.33,296.8 48.94,296.8 47.56,296.8 46.18,296.8 44.8,296.8 43.41,296.8 42.03,296.8 40.65,296.8 39.27,296.8 37.88,296.8 36.5,296.8" fill="#f6dca0" stroke="none" stroke-width="1" />
<polygon points="36.5,302.3 37.88,302.3 39.27,302.3 40.65,302.3 42.03,302.3 43.41,302.3 44.8,302.3 46.18,302.3 47.56,302.3 48.94,302.3 50.33,302.3 51.71,302.3 53.09,302.3 54.47,302.3 55.86,302.3 57.24,302.3 58.62,302.3 60,302.3 61.38,302.3 62.77,302.3 64.15,302.3 65.53,302.3 66.91,302.3 68.3,302.3 69.68,302.3 71.06,302.3 72.44,302.3 73.83,302.3 75.21,302.3 76.59,302.3 77.97,302.3 79.36,302.3 80.74,302.3 82.12,302.3 83.5,302.3 84.89,302.3 86.27,302.3 87.65,302.3 89.03,302.3 90.42,302.3 91.8,302.3 93.18,302.3 94.56,302.3 95.95,302.29 97.33,302.29 98.71,302.29 100.09,302.28 101.48,302.28 102.86,302.26 104.24,302.25 105.62,302.22 107.01,302.18 108.39,302.12 109.77,302.04 111.16,301.93 112.54,301.76 113.92,301.54 115.3,301.26 116.69,300.9 118.07,300.49 119.45,300.05 120.83,299.61 122.22,299.2 123.6,298.84 124.98,298.56 126.36,298.34 127.75,298.17 129.13,298.06 130.51,297.98 131.89,297.92 133.27,297.88 134.66,297.85 136.04,297.84 137.42,297.82 138.81,297.82 140.19,297.81 141.57,297.81 142.95,297.81 144.34,297.8 145.72,297.8 147.1,297.8 148.48,297.8 149.87,297.8 151.25,297.8 152.63,297.8 154.01,297.8 155.39,297.8 156.78,297.8 158.16,297.8 159.54,297.8 160.93,297.8 162.31,297.8 163.69,297.8 165.07,297.8 166.45,297.8 167.84,297.8 169.22,297.8 170.6,297.8 171.99,297.8 173.37,297.8 174.75,297.8 176.13,297.8 177.52,297.8 178.9,297.8 180.28,297.8 181.66,297.8 183.05,297.8 184.43,297.8 185.81,297.8 187.19,297.8 188.57,297.8 189.96,297.8 191.34,297.8 192.72,297.8 194.1,297.8 195.49,297.8 196.87,297.8 198.25,297.8 199.63,297.8 201.02,297.8 202.4,297.8 203.78,297.8 205.16,297.8 206.55,297.8 207.93,297.8 209.31,297.8 210.7,297.8 212.08,297.8 213.46,297.8 214.84,297.8 216.22,297.8 217.61,297.8 218.99,297.8 220.37,297.8 221.75,297.8 223.14,297.8 224.52,297.8 225.9,297.8 227.28,297.8 228.67,297.8 230.05,297.8 231.43,297.8 232.81,297.8 234.2,297.8 235.58,297.8 236.96,297.8 238.34,297.8 239.73,297.8 241.11,297.8 242.49,297.8 243.88,297.8 245.26,297.8 246.64,297.8 248.02,297.8 249.41,297.8 250.79,297.8 252.17,297.8 253.55,297.8 254.94,297.8 256.32,297.8 257.7,297.8 259.08,297.81 260.46,297.81 261.85,297.81 263.23,297.82 264.61,297.82 266,297.84 267.38,297.85 268.76,297.88 270.14,297.92 271.52,297.98 272.91,298.06 274.29,298.17 275.67,298.34 277.06,298.56 278.44,298.84 279.82,299.2 281.2,299.61 282.59,300.05 283.97,300.49 285.35,300.9 286.73,301.26 288.12,301.54 289.5,301.76 290.88,301.93 292.26,302.04 293.64,302.12 295.03,302.18 296.41,302.22 297.79,302.25 299.18,302.26 300.56,302.28 301.94,302.28 303.32,302.29 304.71,302.29 306.09,302.29 307.47,302.3 308.85,302.3 310.24,302.3 311.62,302.3 313,302.3 313,306.5 311.62,306.5 310.24,306.5 308.85,306.5 307.47,306.5 306.09,306.5 304.71,306.5 303.32,306.5 301.94,306.5 300.56,306.5 299.18,306.5 297.79,306.5 296.41,306.5 295.03,306.5 293.64,306.5 292.26,306.5 290.88,306.5 289.5,306.5 288.12,306.5 286.73,306.5 285.35,306.5 283.97,306.5 282.59,306.5 281.2,306.5 279.82,306.5 278.44,306.5 277.06,306.5 275.67,306.5 274.29,306.5 272.91,306.5 271.52,306.5 270.14,306.5 268.76,306.5 267.38,306.5 266,306.5 264.61,306.5 263.23,306.5 261.85,306.5 260.46,306.5 259.08,306.5 257.7,306.5 256.32,306.5 254.94,306.5 253.55,306.5 252.17,306.5 250.79,306.5 249.41,306.5 248.02,306.5 246.64,306.5 245.26,306.5 243.88,306.5 242.49,306.5 241.11,306.5 239.73,306.5 238.34,306.5 236.96,306.5 235.58,306.5 234.2,306.5 232.81,306.5 231.43,306.5 230.05,306.5 228.67,306.5 227.28,306.5 225.9,306.5 224.52,306.5 223.14,306.5 221.75,306.5 220.37,306.5 218.99,306.5 217.61,306.5 216.22,306.5 214.84,306.5 213.46,306.5 212.08,306.5 210.7,306.5 209.31,306.5 207.93,306.5 206.55,306.5 205.16,306.5 203.78,306.5 202.4,306.5 201.02,306.5 199.63,306.5 198.25,306.5 196.87,306.5 195.49,306.5 194.1,306.5 192.72,306.5 191.34,306.5 189.96,306.5 188.57,306.5 187.19,306.5 185.81,306.5 184.43,306.5 183.05,306.5 181.66,306.5 180.28,306.5 178.9,306.5 177.52,306.5 176.13,306.5 174.75,306.5 173.37,306.5 171.99,306.5 170.6,306.5 169.22,306.5 167.84,306.5 166.45,306.5 165.07,306.5 163.69,306.5 162.31,306.5 160.93,306.5 159.54,306.5 158.16,306.5 156.78,306.5 155.39,306.5 154.01,306.5 152.63,306.5 151.25,306.5 149.87,306.5 148.48,306.5 147.1,306.5 145.72,306.5 144.34,306.5 142.95,306.5 141.57,306.5 140.19,306.5 138.81,306.5 137.42,306.5 136.04,306.5 134.66,306.5 133.27,306.5 131.89,306.5 130.51,306.5 129.13,306.5 127.75,306.5 126.36,306.5 124.98,306.5 123.6,306.5 122.22,306.5 120.83,306.5 119.45,306.5 118.07,306.5 116.69,306.5 115.3,306.5 113.92,306.5 112.54,306.5 111.16,306.5 109.77,306.5 108.39,306.5 107.01,306.5 105.62,306.5 104.24,306.5 102.86,306.5 101.48,306.5 100.09,306.5 98.71,306.5 97.33,306.5 95.95,306.5 94.56,306.5 93.18,306.5 91.8,306.5 90.42,306.5 89.03,306.5 87.65,306.5 86.27,306.5 84.89,306.5 83.5,306.5 82.12,306.5 80.74,306.5 79.36,306.5 77.97,306.5 76.59,306.5 75.21,306.5 73.83,306.5 72.44,306.5 71.06,306.5 69.68,306.5 68.3,306.5 66.91,306.5 65.53,306.5 64.15,306.5 62.77,306.5 61.38,306.5 60,306.5 58.62,306.5 57.24,306.5 55.86,306.5 54.47,306.5 53.09,306.5 51.71,306.5 50.33,306.5 48.94,306.5 47.56,306.5 46.18,306.5 44.8,306.5 43.41,306.5 42.03,306.5 40.65,306.5 39.27,306.5 37.88,306.5 36.5,306.5" fill="#c4ecec" stroke="none" stroke-width="1" />
<polyline points="36.5,292.89 39.96,293.27 43.41,293.44 46.87,293.92 50.33,293.27 53.78,293.85 57.24,290.99 60.69,292.39 64.15,293.92 67.61,292.98 71.06,293.78 74.52,291.26 77.97,292.4 81.43,291.69 84.89,292.64 88.34,292.74 91.8,290.94 95.26,291.59 98.71,291.79 102.17,293.81 105.62,293.3 109.08,291.27 112.54,293.09 115.99,290.54 119.45,291.38 122.91,289.11 126.36,288.26 129.82,290.83 133.27,288.62 136.73,288.61 140.19,291.05 143.64,290.69 147.1,288.83 150.56,290.98 154.01,289.63 157.47,290.07 160.93,288.56 164.38,290.91 167.84,290.11 171.29,290.99 174.75,290.76 178.21,288.86 181.66,289.06 185.12,288.43 188.57,288.37 192.03,288.11 195.49,288.86 198.94,289.83 202.4,287.91 205.86,290.07 209.31,288.98 212.77,288.89 216.22,290.52 219.68,289.44 223.14,288.91 226.59,289.44 230.05,290.15 233.51,288.08 236.96,291.02 240.42,287.97 243.88,290.3 247.33,290.6 250.79,287.96 254.24,290.42 257.7,289.07 261.16,289.76 264.61,287.95 268.07,288.09 271.52,288.6 274.98,291.26 278.44,289.22 281.89,291.67 285.35,292.94 288.81,293.49 292.26,291.83 295.72,291.97 299.18,292.55 302.63,293.37 306.09,291.24 309.54,293.29 313,293.45" fill="none" stroke="#f0b050" stroke-width="1.2" stroke-linejoin="round"  />
<polyline points="36.5,295.52 39.96,292.72 43.41,295.82 46.87,292.91 50.33,293.76 53.78,294.68 57.24,295.72 60.69,293.76 64.15,295.74 67.61,294.45 71.06,293.66 74.52,293.68 77.97,293.2 81.43,292.87 84.89,293.11 88.34,294.94 91.8,295.99 95.26,293.15 98.71,292.75 102.17,295.92 105.62,294.33 109.08,293.77 112.54,292.87 115.99,293.41 119.45,293.16 122.91,290.86 126.36,290.07 129.82,288.5 133.27,291.3 136.73,288.24 140.19,289.79 143.64,290.95 147.1,288.55 150.56,290.59 154.01,291.33 157.47,290.24 160.93,290.78 164.38,288.46 167.84,289.58 171.29,288.61 174.75,290.97 178.21,289.1 181.66,289.64 185.12,291.5 188.57,291 192.03,291.42 195.49,289.64 198.94,289.76 202.4,290.58 205.86,289.73 209.31,289.09 212.77,289.47 216.22,288.6 219.68,289.38 223.14,291.46 226.59,291.36 230.05,290.23 233.51,289.8 236.96,289.25 240.42,288.4 243.88,289.03 247.33,290.76 250.79,291.05 254.24,289.33 257.7,290.78 261.16,290.74 264.61,290.49 268.07,290.42 271.52,290.86 274.98,289.78 278.44,291.54 281.89,291.08 285.35,292.86 288.81,294.58 292.26,294.69 295.72,293.5 299.18,295.78 302.63,294.8 306.09,294.57 309.54,292.64 313,294.46" fill="none" stroke="#d04020" stroke-width="1.3" stroke-linejoin="round"  />
<polyline points="36.5,295.6 313,295.6" fill="none" stroke="#8a2a20" stroke-width="1.3" stroke-linejoin="round" stroke-dasharray="2.4 1.8" />
<polyline points="36.5,304 39.96,305.01 43.41,304.51 46.87,305.36 50.33,304.95 53.78,305.31 57.24,304.23 60.69,304.95 64.15,305.17 67.61,305.39 71.06,304.24 74.52,305.42 77.97,305.49 81.43,305.05 84.89,305.74 88.34,305.7 91.8,304.64 95.26,304.67 98.71,303.79 102.17,305.38 105.62,305.58 109.08,304.36 112.54,304.58 115.99,304.05 119.45,303.15 122.91,300.89 126.36,301.75 129.82,300.98 133.27,301.07 136.73,300.44 140.19,300.91 143.64,301.26 147.1,300.93 150.56,301.13 154.01,299.47 157.47,299.78 160.93,300.46 164.38,300.96 167.84,299.93 171.29,301.05 174.75,300.91 178.21,299.5 181.66,300.53 185.12,299.94 188.57,299.53 192.03,299.72 195.49,300.16 198.94,299.84 202.4,299.86 205.86,299.49 209.31,300.52 212.77,300.31 216.22,300.87 219.68,300.82 223.14,299.97 226.59,301.57 230.05,299.4 233.51,300.37 236.96,300.07 240.42,300.38 243.88,299.68 247.33,301.4 250.79,300.3 254.24,299.49 257.7,300.88 261.16,299.64 264.61,300.73 268.07,300.27 271.52,300.95 274.98,302.1 278.44,302.29 281.89,302.21 285.35,304.11 288.81,304.37 292.26,304.06 295.72,303.65 299.18,304.8 302.63,304.74 306.09,305.69 309.54,305.72 313,304.86" fill="none" stroke="#2a8a80" stroke-width="1.3" stroke-linejoin="round"  />
<polyline points="36.5,304.2 313,304.2" fill="none" stroke="#1e5a58" stroke-width="1.3" stroke-linejoin="round" stroke-dasharray="2.4 1.8" />
<polyline points="36.5,286.3 313,286.3" fill="none" stroke="#1e1e70" stroke-width="1.4" stroke-linejoin="round" stroke-dasharray="2.4 1.8" />
<polyline points="36.5,287.8 37.19,287.8 37.88,287.8 38.57,287.8 39.27,287.8 39.96,287.8 40.65,287.8 41.34,287.8 42.03,287.8 42.72,287.8 43.41,287.8 44.1,287.8 44.8,287.8 45.49,287.8 46.18,287.8 46.87,287.8 47.56,287.8 48.25,287.8 48.94,287.8 49.63,287.8 50.33,287.8 51.02,287.8 51.71,287.8 52.4,287.8 53.09,287.8 53.78,287.8 54.47,287.8 55.16,287.8 55.86,287.8 56.55,287.8 57.24,287.8 57.93,287.8 58.62,287.8 59.31,287.8 60,287.8 60.69,287.8 61.38,287.8 62.08,287.8 62.77,287.8 63.46,287.8 64.15,287.8 64.84,287.8 65.53,287.8 66.22,287.8 66.91,287.8 67.61,287.8 68.3,287.8 68.99,287.8 69.68,287.8 70.37,287.8 71.06,287.8 71.75,287.8 72.44,287.8 73.14,287.8 73.83,287.8 74.52,287.8 75.21,287.8 75.9,287.8 76.59,287.8 77.28,287.8 77.97,287.8 78.67,287.8 79.36,287.8 80.05,287.8 80.74,287.8 81.43,287.8 82.12,287.8 82.81,287.8 83.5,287.8 84.2,287.8 84.89,287.8 85.58,287.8 86.27,287.8 86.96,287.8 87.65,287.8 88.34,287.8 89.03,287.8 89.73,287.8 90.42,287.8 91.11,287.8 91.8,287.8 92.49,287.8 93.18,287.8 93.87,287.8 94.56,287.8 95.26,287.8 95.95,287.8 96.64,287.8 97.33,287.8 98.02,287.8 98.71,287.8 99.4,287.8 100.09,287.8 100.79,287.8 101.48,287.8 102.17,287.8 102.86,287.8 103.55,287.8 104.24,287.8 104.93,287.8 105.62,287.8 106.32,287.8 107.01,287.8 107.7,287.8 108.39,287.8 109.08,287.8 109.77,287.8 110.46,287.8 111.16,287.8 111.85,287.8 112.54,287.8 113.23,287.8 113.92,287.8 114.61,286.32 115.3,284.85 115.99,283.4 116.69,281.99 117.38,280.62 118.07,279.3 118.76,278.05 119.45,276.87 120.14,275.78 120.83,274.78 121.52,273.87 122.22,273.08 122.91,272.39 123.6,271.83 124.29,271.38 124.98,271.06 125.67,270.86 126.36,270.8 127.05,270.8 127.75,270.8 128.44,270.8 129.13,270.8 129.82,270.8 130.51,270.8 131.2,270.8 131.89,270.8 132.58,270.8 133.27,270.8 133.97,270.8 134.66,270.8 135.35,270.8 136.04,270.8 136.73,270.8 137.42,270.8 138.11,270.8 138.81,270.8 139.5,270.8 140.19,270.8 140.88,270.8 141.57,270.8 142.26,270.8 142.95,270.8 143.64,270.8 144.34,270.8 145.03,270.8 145.72,270.8 146.41,270.8 147.1,270.8 147.79,270.8 148.48,270.8 149.17,270.8 149.87,270.8 150.56,270.8 151.25,270.8 151.94,270.8 152.63,270.8 153.32,270.8 154.01,270.8 154.7,270.8 155.39,270.8 156.09,270.8 156.78,270.8 157.47,270.8 158.16,270.8 158.85,270.8 159.54,270.8 160.23,270.8 160.93,270.8 161.62,270.8 162.31,270.8 163,270.8 163.69,270.8 164.38,270.8 165.07,270.8 165.76,270.8 166.45,270.8 167.15,270.8 167.84,270.8 168.53,270.8 169.22,270.8 169.91,270.8 170.6,270.8 171.29,270.8 171.99,270.8 172.68,270.8 173.37,270.8 174.06,270.8 174.75,270.8 175.44,270.8 176.13,270.8 176.82,270.8 177.52,270.8 178.21,270.8 178.9,270.8 179.59,270.8 180.28,270.8 180.97,270.8 181.66,270.8 182.35,270.8 183.05,270.8 183.74,270.8 184.43,270.8 185.12,270.8 185.81,270.8 186.5,270.8 187.19,270.8 187.88,270.8 188.57,270.8 189.27,270.8 189.96,270.8 190.65,270.8 191.34,270.8 192.03,270.8 192.72,270.8 193.41,270.8 194.1,270.8 194.8,270.8 195.49,270.8 196.18,270.8 196.87,270.8 197.56,270.8 198.25,270.8 198.94,270.8 199.63,270.8 200.33,270.8 201.02,270.8 201.71,270.8 202.4,270.8 203.09,270.8 203.78,270.8 204.47,270.8 205.16,270.8 205.86,270.8 206.55,270.8 207.24,270.8 207.93,270.8 208.62,270.8 209.31,270.8 210,270.8 210.7,270.8 211.39,270.8 212.08,270.8 212.77,270.8 213.46,270.8 214.15,270.8 214.84,270.8 215.53,270.8 216.22,270.8 216.92,270.8 217.61,270.8 218.3,270.8 218.99,270.8 219.68,270.8 220.37,270.8 221.06,270.8 221.75,270.8 222.45,270.8 223.14,270.8 223.83,270.8 224.52,270.8 225.21,270.8 225.9,270.8 226.59,270.8 227.28,270.8 227.98,270.8 228.67,270.8 229.36,270.8 230.05,270.8 230.74,270.8 231.43,270.8 232.12,270.8 232.81,270.8 233.51,270.8 234.2,270.8 234.89,270.8 235.58,270.8 236.27,270.8 236.96,270.8 237.65,270.8 238.34,270.8 239.04,270.8 239.73,270.8 240.42,270.8 241.11,270.8 241.8,270.8 242.49,270.8 243.18,270.8 243.88,270.8 244.57,270.8 245.26,270.8 245.95,270.8 246.64,270.8 247.33,270.8 248.02,270.8 248.71,270.8 249.41,270.8 250.1,270.8 250.79,270.8 251.48,270.8 252.17,270.8 252.86,270.8 253.55,270.8 254.24,270.8 254.94,270.8 255.63,270.8 256.32,270.8 257.01,270.8 257.7,270.8 258.39,270.8 259.08,270.8 259.77,270.8 260.46,270.8 261.16,270.8 261.85,270.8 262.54,270.8 263.23,270.8 263.92,270.8 264.61,270.8 265.3,270.8 266,270.8 266.69,270.8 267.38,270.8 268.07,270.8 268.76,270.8 269.45,270.8 270.14,270.8 270.83,270.8 271.52,270.8 272.22,270.8 272.91,270.8 273.6,270.8 274.29,270.8 274.98,270.8 275.67,270.8 276.36,270.8 277.06,270.8 277.75,270.8 278.44,270.8 279.13,272.43 279.82,274.05 280.51,275.62 281.2,277.13 281.89,278.57 282.59,279.9 283.28,281.12 283.97,282.21 284.66,283.16 285.35,283.95 286.04,284.58 286.73,285.03 287.42,285.31 288.12,285.4 288.81,285.46 289.5,285.52 290.19,285.58 290.88,285.64 291.57,285.7 292.26,285.76 292.95,285.82 293.64,285.88 294.34,285.94 295.03,286 295.72,286.06 296.41,286.12 297.1,286.18 297.79,286.24 298.48,286.3 299.18,286.36 299.87,286.42 300.56,286.48 301.25,286.54 301.94,286.6 302.63,286.66 303.32,286.72 304.01,286.78 304.71,286.84 305.4,286.9 306.09,286.96 306.78,287.02 307.47,287.08 308.16,287.14 308.85,287.2 309.54,287.26 310.24,287.32 310.93,287.38 311.62,287.44 312.31,287.5 313,287.56" fill="none" stroke="#2a2ab4" stroke-width="1.5" stroke-linejoin="round"  />
</g>
<rect x="36.5" y="185.2" width="276.5" height="72.8" fill="none" stroke="#1c1c1c" stroke-width="1.3" />
<rect x="36.5" y="270.5" width="276.5" height="38" fill="none" stroke="#1c1c1c" stroke-width="1.3" />
<line x1="32.5" y1="185.2" x2="36.5" y2="185.2" stroke="#1c1c1c" stroke-width="1.2" />
<text x="29.2" y="187.41" font-size="9.6" text-anchor="end" font-weight="normal" font-style="normal" fill="#1c1c1c" stroke="#1c1c1c" stroke-width="0.14" >170</text>
<line x1="32.5" y1="221.6" x2="36.5" y2="221.6" stroke="#1c1c1c" stroke-width="1.2" />
<text x="29.2" y="223.81" font-size="9.6" text-anchor="end" font-weight="normal" font-style="normal" fill="#1c1c1c" stroke="#1c1c1c" stroke-width="0.14" >100</text>
<line x1="32.5" y1="258" x2="36.5" y2="258" stroke="#1c1c1c" stroke-width="1.2" />
<text x="29.2" y="260.21" font-size="9.6" text-anchor="end" font-weight="normal" font-style="normal" fill="#1c1c1c" stroke="#1c1c1c" stroke-width="0.14" >30</text>
<line x1="32.5" y1="270.5" x2="36.5" y2="270.5" stroke="#1c1c1c" stroke-width="1.2" />
<text x="29.2" y="272.91" font-size="9.6" text-anchor="end" font-weight="normal" font-style="normal" fill="#1c1c1c" stroke="#1c1c1c" stroke-width="0.14" >100</text>
<line x1="32.5" y1="289.5" x2="36.5" y2="289.5" stroke="#1c1c1c" stroke-width="1.2" />
<text x="29.2" y="291.91" font-size="9.6" text-anchor="end" font-weight="normal" font-style="normal" fill="#1c1c1c" stroke="#1c1c1c" stroke-width="0.14" >50</text>
<line x1="32.5" y1="308.5" x2="36.5" y2="308.5" stroke="#1c1c1c" stroke-width="1.2" />
<text x="29.2" y="310.91" font-size="9.6" text-anchor="end" font-weight="normal" font-style="normal" fill="#1c1c1c" stroke="#1c1c1c" stroke-width="0.14" >0</text>
<line x1="63.5" y1="308.5" x2="63.5" y2="312.5" stroke="#1c1c1c" stroke-width="1.2" />
<line x1="146.6" y1="308.5" x2="146.6" y2="312.5" stroke="#1c1c1c" stroke-width="1.2" />
<line x1="215.8" y1="308.5" x2="215.8" y2="312.5" stroke="#1c1c1c" stroke-width="1.2" />
<line x1="285.5" y1="308.5" x2="285.5" y2="312.5" stroke="#1c1c1c" stroke-width="1.2" />
<line x1="36.5" y1="308.5" x2="36.5" y2="312.5" stroke="#1c1c1c" stroke-width="1.2" />
<text x="36.5" y="324.41" font-size="9.6" text-anchor="middle" font-weight="normal" font-style="normal" fill="#1c1c1c" stroke="#1c1c1c" stroke-width="0.14" >0</text>
<line x1="174.75" y1="308.5" x2="174.75" y2="312.5" stroke="#1c1c1c" stroke-width="1.2" />
<text x="174.75" y="324.41" font-size="9.6" text-anchor="middle" font-weight="normal" font-style="normal" fill="#1c1c1c" stroke="#1c1c1c" stroke-width="0.14" >10</text>
<line x1="313" y1="308.5" x2="313" y2="312.5" stroke="#1c1c1c" stroke-width="1.2" />
<text x="313" y="324.41" font-size="9.6" text-anchor="middle" font-weight="normal" font-style="normal" fill="#1c1c1c" stroke="#1c1c1c" stroke-width="0.14" >20</text>
<line x1="36.5" y1="258" x2="36.5" y2="262" stroke="#1c1c1c" stroke-width="1.2" />
<line x1="174.75" y1="258" x2="174.75" y2="262" stroke="#1c1c1c" stroke-width="1.2" />
<line x1="313" y1="258" x2="313" y2="262" stroke="#1c1c1c" stroke-width="1.2" />
<text transform="translate(7.28,221.6) rotate(-90)" x="0" y="0" font-size="9.8" text-anchor="middle" fill="#1c1c1c" stroke="#1c1c1c" stroke-width="0.14"><tspan font-style="italic">T</tspan> (°C)</text>
<text transform="translate(8.08,288.8) rotate(-90)" x="0" y="0" font-size="9.8" text-anchor="middle" fill="#1c1c1c" stroke="#1c1c1c" stroke-width="0.14"><tspan font-size="10.7">Duty cycle (%)</tspan></text>
<text x="76.35" y="179.34" font-size="9.7" text-anchor="middle" font-weight="normal" font-style="normal" fill="#1c1c1c" stroke="#1c1c1c" stroke-width="0.14" >Morphing basis</text>
<circle cx="121" cy="174.8" r="1.9" fill="#d23a3a" />
<polygon points="130.5,169 132,170 127,180.2 125.5,179.2" fill="#505050" stroke="none" stroke-width="1" />
<circle cx="143.5" cy="174.8" r="1.9" fill="#e6d25a" />
<rect x="150" y="168.5" width="12" height="13" fill="#f0f0f0" stroke="none" stroke-width="1" rx="3"/>
<polyline points="155,169.5 159.4,175.8" fill="none" stroke="#a8a8a8" stroke-width="0.9" stroke-linejoin="round"  />
<circle cx="166.5" cy="174.8" r="1.9" fill="#2a8a80" />
<rect x="171" y="168.5" width="12" height="13" fill="#f0f0f0" stroke="none" stroke-width="1" rx="3"/>
<polygon points="181.8,175.8 181.8,180.2 177.2,180.2" fill="#404040" stroke="none" stroke-width="1" />
<circle cx="189.3" cy="174.8" r="1.9" fill="#2a2aa0" />
<polygon points="194,169.5 204.6,169.3 204.2,174 200,179 195.5,180.3 194,179" fill="#505050" stroke="none" stroke-width="1" />
<line x1="228" y1="175.2" x2="241" y2="175.2" stroke="#1c1c1c" stroke-width="1.3" stroke-dasharray="3 2"/>
<text x="248.3" y="178.64" font-size="9.7" text-anchor="start" font-weight="normal" font-style="normal" fill="#1c1c1c" stroke="#1c1c1c" stroke-width="0.14" >OL</text>
<line x1="270" y1="175.2" x2="282" y2="175.2" stroke="#1c1c1c" stroke-width="1.3" />
<text x="290" y="178.64" font-size="9.7" text-anchor="start" font-weight="normal" font-style="normal" fill="#1c1c1c" stroke="#1c1c1c" stroke-width="0.14" >CL</text>
<text x="174.5" y="338.48" font-size="9.8" text-anchor="middle" font-weight="normal" font-style="normal" fill="#1c1c1c" stroke="#1c1c1c" stroke-width="0.14" >Time (s)</text>
<text x="367.8" y="175.81" font-size="11.3" text-anchor="middle" font-weight="bold" font-style="normal" fill="#1c1c1c" stroke="#1c1c1c" stroke-width="0.14" >f</text>
<line x1="428.4" y1="185.2" x2="428.4" y2="308.5" stroke="#8c8c8c" stroke-width="0.9" />
<line x1="487.9" y1="185.2" x2="487.9" y2="308.5" stroke="#8c8c8c" stroke-width="0.9" />
<line x1="575.4" y1="185.2" x2="575.4" y2="308.5" stroke="#8c8c8c" stroke-width="0.9" />
<line x1="662.8" y1="185.2" x2="662.8" y2="308.5" stroke="#8c8c8c" stroke-width="0.9" />
<g clip-path="url(#cf1)">
<polyline points="401.3,209.1 402.68,209.1 404.06,209.1 405.45,209.09 406.83,209.09 408.21,209.09 409.6,209.08 410.98,209.08 412.36,209.08 413.74,209.08 415.12,209.07 416.51,209.07 417.89,209.07 419.27,209.06 420.66,209.06 422.04,209.06 423.42,209.05 424.8,209.05 426.19,209.05 427.57,209.04 428.95,209.04 430.33,209.03 431.72,209.03 433.1,209.02 434.48,209.02 435.86,209.02 437.25,209.01 438.63,209.01 440.01,209 441.39,208.99 442.77,208.99 444.16,208.98 445.54,208.98 446.92,208.97 448.31,208.97 449.69,208.96 451.07,208.95 452.45,208.95 453.84,208.94 455.22,208.93 456.6,208.93 457.98,208.92 459.37,208.91 460.75,208.9 462.13,208.9 463.51,208.89 464.89,208.88 466.28,208.87 467.66,208.86 469.04,208.86 470.43,208.85 471.81,208.84 473.19,208.83 474.57,208.82 475.95,208.81 477.34,208.8 478.72,208.79 480.1,208.78 481.49,208.77 482.87,208.76 484.25,208.75 485.63,208.73 487.01,208.72 488.4,208.71 489.78,208.7 491.16,208.69 492.55,208.68 493.93,208.66 495.31,208.65 496.69,208.64 498.07,208.63 499.46,208.61 500.84,208.6 502.22,208.59 503.61,208.57 504.99,208.56 506.37,208.54 507.75,208.53 509.13,208.52 510.52,208.5 511.9,208.49 513.28,208.47 514.66,208.46 516.05,208.44 517.43,208.43 518.81,208.41 520.19,208.4 521.58,208.38 522.96,208.36 524.34,208.35 525.73,208.33 527.11,208.32 528.49,208.3 529.87,208.28 531.25,208.27 532.64,208.25 534.02,208.24 535.4,208.22 536.78,208.2 538.17,208.19 539.55,208.17 540.93,208.16 542.32,208.14 543.7,208.12 545.08,208.11 546.46,208.09 547.85,208.08 549.23,208.06 550.61,208.04 551.99,208.03 553.38,208.01 554.76,208 556.14,207.98 557.52,207.97 558.9,207.95 560.29,207.94 561.67,207.92 563.05,207.91 564.43,207.89 565.82,207.88 567.2,207.86 568.58,207.85 569.97,207.84 571.35,207.82 572.73,207.81 574.11,207.8 575.5,207.78 576.88,207.77 578.26,207.76 579.64,207.74 581.02,207.73 582.41,207.72 583.79,207.71 585.17,207.7 586.55,207.69 587.94,207.67 589.32,207.66 590.7,207.65 592.09,207.64 593.47,207.63 594.85,207.62 596.23,207.61 597.62,207.6 599,207.59 600.38,207.58 601.76,207.57 603.14,207.56 604.53,207.55 605.91,207.54 607.29,207.54 608.67,207.53 610.06,207.52 611.44,207.51 612.82,207.5 614.2,207.5 615.59,207.49 616.97,207.48 618.35,207.47 619.74,207.47 621.12,207.46 622.5,207.45 623.88,207.45 625.26,207.44 626.65,207.44 628.03,207.43 629.41,207.42 630.79,207.42 632.18,207.41 633.56,207.41 634.94,207.4 636.32,207.4 637.71,207.39 639.09,207.39 640.47,207.38 641.86,207.38 643.24,207.38 644.62,207.37 646,207.37 647.38,207.36 648.77,207.36 650.15,207.36 651.53,207.35 652.91,207.35 654.3,207.34 655.68,207.34 657.06,207.34 658.44,207.34 659.83,207.33 661.21,207.33 662.59,207.33 663.97,207.32 665.36,207.32 666.74,207.32 668.12,207.32 669.5,207.31 670.89,207.31 672.27,207.31 673.65,207.31 675.03,207.3 676.42,207.3 677.8,207.3" fill="none" stroke="#f0d49c" stroke-width="4.6" stroke-linejoin="round"  />
<polyline points="401.3,246.2 402.68,246.2 404.06,246.2 405.45,246.2 406.83,246.2 408.21,246.2 409.6,246.2 410.98,246.2 412.36,246.2 413.74,246.2 415.12,246.2 416.51,246.2 417.89,246.2 419.27,246.2 420.66,246.2 422.04,246.2 423.42,246.2 424.8,246.2 426.19,246.2 427.57,246.2 428.95,246.2 430.33,246.2 431.72,246.2 433.1,246.2 434.48,246.2 435.86,246.2 437.25,246.2 438.63,246.2 440.01,246.2 441.39,246.2 442.77,246.2 444.16,246.2 445.54,246.2 446.92,246.2 448.31,246.2 449.69,246.2 451.07,246.2 452.45,246.2 453.84,246.2 455.22,246.2 456.6,246.2 457.98,246.2 459.37,246.2 460.75,246.2 462.13,246.2 463.51,246.2 464.89,246.2 466.28,246.2 467.66,246.2 469.04,246.2 470.43,246.2 471.81,246.2 473.19,246.2 474.57,246.2 475.95,246.2 477.34,246.2 478.72,246.2 480.1,246.2 481.49,246.2 482.87,246.2 484.25,246.2 485.63,246.2 487.01,246.2 488.4,246.2 489.78,246.2 491.16,246.2 492.55,246.2 493.93,246.2 495.31,246.2 496.69,246.2 498.07,246.2 499.46,246.2 500.84,246.2 502.22,246.2 503.61,246.2 504.99,246.2 506.37,246.2 507.75,246.2 509.13,246.2 510.52,246.2 511.9,246.2 513.28,246.2 514.66,246.2 516.05,246.2 517.43,246.2 518.81,246.2 520.19,246.2 521.58,246.2 522.96,246.2 524.34,246.2 525.73,246.2 527.11,246.2 528.49,246.2 529.87,246.2 531.25,246.2 532.64,246.2 534.02,246.2 535.4,246.2 536.78,246.2 538.17,246.2 539.55,246.2 540.93,246.2 542.32,246.2 543.7,246.2 545.08,246.2 546.46,246.2 547.85,246.2 549.23,246.2 550.61,246.2 551.99,246.2 553.38,246.2 554.76,246.2 556.14,246.2 557.52,246.2 558.9,246.2 560.29,246.2 561.67,246.2 563.05,246.2 564.43,246.2 565.82,246.2 567.2,246.2 568.58,246.2 569.97,246.2 571.35,246.2 572.73,246.2 574.11,246.2 575.5,246.2 576.88,246.2 578.26,246.2 579.64,246.2 581.02,246.2 582.41,246.2 583.79,246.2 585.17,246.2 586.55,246.2 587.94,246.2 589.32,246.2 590.7,246.2 592.09,246.2 593.47,246.2 594.85,246.2 596.23,246.2 597.62,246.2 599,246.2 600.38,246.2 601.76,246.2 603.14,246.2 604.53,246.2 605.91,246.2 607.29,246.2 608.67,246.2 610.06,246.2 611.44,246.2 612.82,246.2 614.2,246.2 615.59,246.2 616.97,246.2 618.35,246.2 619.74,246.2 621.12,246.2 622.5,246.2 623.88,246.2 625.26,246.2 626.65,246.2 628.03,246.2 629.41,246.2 630.79,246.2 632.18,246.2 633.56,246.2 634.94,246.2 636.32,246.2 637.71,246.2 639.09,246.2 640.47,246.2 641.86,246.2 643.24,246.2 644.62,246.2 646,246.2 647.38,246.2 648.77,246.2 650.15,246.2 651.53,246.2 652.91,246.2 654.3,246.2 655.68,246.2 657.06,246.2 658.44,246.2 659.83,246.2 661.21,246.2 662.59,246.2 663.97,246.2 665.36,246.2 666.74,246.2 668.12,246.2 669.5,246.2 670.89,246.2 672.27,246.2 673.65,246.2 675.03,246.2 676.42,246.2 677.8,246.2" fill="none" stroke="#c4ecea" stroke-width="4.0" stroke-linejoin="round"  />
<polyline points="401.3,221.8 402.68,221.8 404.06,221.8 405.45,221.8 406.83,221.8 408.21,221.79 409.6,221.79 410.98,221.79 412.36,221.79 413.74,221.79 415.12,221.79 416.51,221.79 417.89,221.79 419.27,221.78 420.66,221.78 422.04,221.78 423.42,221.78 424.8,221.78 426.19,221.78 427.57,221.77 428.95,221.77 430.33,221.77 431.72,221.77 433.1,221.77 434.48,221.76 435.86,221.76 437.25,221.76 438.63,221.76 440.01,221.76 441.39,221.75 442.77,221.75 444.16,221.75 445.54,221.75 446.92,221.74 448.31,221.74 449.69,221.74 451.07,221.73 452.45,221.73 453.84,221.73 455.22,221.73 456.6,221.72 457.98,221.72 459.37,221.72 460.75,221.71 462.13,221.71 463.51,221.71 464.89,221.7 466.28,221.7 467.66,221.7 469.04,221.69 470.43,221.69 471.81,221.68 473.19,221.68 474.57,221.67 475.95,221.67 477.34,221.67 478.72,221.66 480.1,221.66 481.49,221.65 482.87,221.65 484.25,221.64 485.63,221.64 487.01,221.63 488.4,221.63 489.78,221.62 491.16,221.62 492.55,221.61 493.93,221.61 495.31,221.6 496.69,221.59 498.07,221.59 499.46,221.58 500.84,221.58 502.22,221.57 503.61,221.57 504.99,221.56 506.37,221.55 507.75,221.55 509.13,221.54 510.52,221.53 511.9,221.53 513.28,221.52 514.66,221.51 516.05,221.51 517.43,221.5 518.81,221.49 520.19,221.49 521.58,221.48 522.96,221.47 524.34,221.47 525.73,221.46 527.11,221.45 528.49,221.44 529.87,221.44 531.25,221.43 532.64,221.42 534.02,221.42 535.4,221.41 536.78,221.4 538.17,221.39 539.55,221.39 540.93,221.38 542.32,221.37 543.7,221.37 545.08,221.36 546.46,221.35 547.85,221.34 549.23,221.34 550.61,221.33 551.99,221.32 553.38,221.32 554.76,221.31 556.14,221.3 557.52,221.3 558.9,221.29 560.29,221.28 561.67,221.28 563.05,221.27 564.43,221.26 565.82,221.26 567.2,221.25 568.58,221.24 569.97,221.24 571.35,221.23 572.73,221.23 574.11,221.22 575.5,221.21 576.88,221.21 578.26,221.2 579.64,221.2 581.02,221.19 582.41,221.19 583.79,221.18 585.17,221.18 586.55,221.17 587.94,221.17 589.32,221.16 590.7,221.16 592.09,221.15 593.47,221.15 594.85,221.14 596.23,221.14 597.62,221.13 599,221.13 600.38,221.12 601.76,221.12 603.14,221.12 604.53,221.11 605.91,221.11 607.29,221.1 608.67,221.1 610.06,221.1 611.44,221.09 612.82,221.09 614.2,221.09 615.59,221.08 616.97,221.08 618.35,221.08 619.74,221.07 621.12,221.07 622.5,221.07 623.88,221.07 625.26,221.06 626.65,221.06 628.03,221.06 629.41,221.06 630.79,221.05 632.18,221.05 633.56,221.05 634.94,221.05 636.32,221.04 637.71,221.04 639.09,221.04 640.47,221.04 641.86,221.04 643.24,221.03 644.62,221.03 646,221.03 647.38,221.03 648.77,221.03 650.15,221.02 651.53,221.02 652.91,221.02 654.3,221.02 655.68,221.02 657.06,221.02 658.44,221.02 659.83,221.01 661.21,221.01 662.59,221.01 663.97,221.01 665.36,221.01 666.74,221.01 668.12,221.01 669.5,221.01 670.89,221 672.27,221 673.65,221 675.03,221 676.42,221 677.8,221" fill="none" stroke="#d8d8f2" stroke-width="3.5" stroke-linejoin="round"  />
<polyline points="401.3,211.5 402.68,211.49 404.06,211.49 405.45,211.48 406.83,211.47 408.21,211.47 409.6,211.46 410.98,211.45 412.36,211.44 413.74,211.43 415.12,211.43 416.51,211.42 417.89,211.41 419.27,211.4 420.66,211.39 422.04,211.38 423.42,211.37 424.8,211.36 426.19,211.35 427.57,211.34 428.95,211.33 430.33,211.31 431.72,211.3 433.1,211.29 434.48,211.28 435.86,211.26 437.25,211.25 438.63,211.24 440.01,211.22 441.39,211.21 442.77,211.19 444.16,211.18 445.54,211.16 446.92,211.15 448.31,211.13 449.69,211.11 451.07,211.09 452.45,211.08 453.84,211.06 455.22,211.04 456.6,211.02 457.98,211 459.37,210.98 460.75,210.96 462.13,210.94 463.51,210.91 464.89,210.89 466.28,210.87 467.66,210.84 469.04,210.82 470.43,210.8 471.81,210.77 473.19,210.74 474.57,210.72 475.95,210.69 477.34,210.66 478.72,210.63 480.1,210.61 481.49,210.58 482.87,210.55 484.25,210.52 485.63,210.49 487.01,210.45 488.4,210.42 489.78,210.39 491.16,210.36 492.55,210.32 493.93,210.29 495.31,210.25 496.69,210.22 498.07,210.18 499.46,210.14 500.84,210.11 502.22,210.07 503.61,210.03 504.99,209.99 506.37,209.95 507.75,209.92 509.13,209.88 510.52,209.83 511.9,209.79 513.28,209.75 514.66,209.71 516.05,209.67 517.43,209.63 518.81,209.58 520.19,209.54 521.58,209.5 522.96,209.46 524.34,209.41 525.73,209.37 527.11,209.32 528.49,209.28 529.87,209.24 531.25,209.19 532.64,209.15 534.02,209.1 535.4,209.06 536.78,209.01 538.17,208.97 539.55,208.92 540.93,208.88 542.32,208.83 543.7,208.79 545.08,208.74 546.46,208.7 547.85,208.66 549.23,208.61 550.61,208.57 551.99,208.53 553.38,208.48 554.76,208.44 556.14,208.4 557.52,208.35 558.9,208.31 560.29,208.27 561.67,208.23 563.05,208.19 564.43,208.15 565.82,208.11 567.2,208.07 568.58,208.03 569.97,207.99 571.35,207.95 572.73,207.92 574.11,207.88 575.5,207.84 576.88,207.81 578.26,207.77 579.64,207.74 581.02,207.7 582.41,207.67 583.79,207.63 585.17,207.6 586.55,207.57 587.94,207.54 589.32,207.51 590.7,207.48 592.09,207.45 593.47,207.42 594.85,207.39 596.23,207.36 597.62,207.33 599,207.31 600.38,207.28 601.76,207.25 603.14,207.23 604.53,207.2 605.91,207.18 607.29,207.16 608.67,207.13 610.06,207.11 611.44,207.09 612.82,207.07 614.2,207.05 615.59,207.03 616.97,207.01 618.35,206.99 619.74,206.97 621.12,206.95 622.5,206.93 623.88,206.91 625.26,206.9 626.65,206.88 628.03,206.86 629.41,206.85 630.79,206.83 632.18,206.82 633.56,206.8 634.94,206.79 636.32,206.77 637.71,206.76 639.09,206.75 640.47,206.73 641.86,206.72 643.24,206.71 644.62,206.7 646,206.69 647.38,206.68 648.77,206.66 650.15,206.65 651.53,206.64 652.91,206.63 654.3,206.62 655.68,206.62 657.06,206.61 658.44,206.6 659.83,206.59 661.21,206.58 662.59,206.57 663.97,206.57 665.36,206.56 666.74,206.55 668.12,206.54 669.5,206.54 670.89,206.53 672.27,206.52 673.65,206.52 675.03,206.51 676.42,206.51 677.8,206.5" fill="none" stroke="#e8dc98" stroke-width="1.3" stroke-linejoin="round" stroke-dasharray="1.6 1.6" />
<polyline points="401.3,210.5 402.68,210.49 404.06,210.48 405.45,210.48 406.83,210.47 408.21,210.46 409.6,210.45 410.98,210.44 412.36,210.43 413.74,210.42 415.12,210.41 416.51,210.4 417.89,210.39 419.27,210.38 420.66,210.37 422.04,210.35 423.42,210.34 424.8,210.33 426.19,210.31 427.57,210.3 428.95,210.29 430.33,210.27 431.72,210.26 433.1,210.24 434.48,210.23 435.86,210.21 437.25,210.2 438.63,210.18 440.01,210.16 441.39,210.14 442.77,210.13 444.16,210.11 445.54,210.09 446.92,210.07 448.31,210.05 449.69,210.03 451.07,210 452.45,209.98 453.84,209.96 455.22,209.94 456.6,209.91 457.98,209.89 459.37,209.86 460.75,209.84 462.13,209.81 463.51,209.78 464.89,209.76 466.28,209.73 467.66,209.7 469.04,209.67 470.43,209.64 471.81,209.61 473.19,209.58 474.57,209.55 475.95,209.51 477.34,209.48 478.72,209.44 480.1,209.41 481.49,209.37 482.87,209.34 484.25,209.3 485.63,209.26 487.01,209.22 488.4,209.18 489.78,209.14 491.16,209.1 492.55,209.06 493.93,209.02 495.31,208.98 496.69,208.94 498.07,208.89 499.46,208.85 500.84,208.8 502.22,208.76 503.61,208.71 504.99,208.66 506.37,208.61 507.75,208.57 509.13,208.52 510.52,208.47 511.9,208.42 513.28,208.37 514.66,208.32 516.05,208.27 517.43,208.22 518.81,208.16 520.19,208.11 521.58,208.06 522.96,208.01 524.34,207.95 525.73,207.9 527.11,207.85 528.49,207.79 529.87,207.74 531.25,207.68 532.64,207.63 534.02,207.57 535.4,207.52 536.78,207.46 538.17,207.41 539.55,207.36 540.93,207.3 542.32,207.25 543.7,207.19 545.08,207.14 546.46,207.08 547.85,207.03 549.23,206.98 550.61,206.92 551.99,206.87 553.38,206.82 554.76,206.77 556.14,206.71 557.52,206.66 558.9,206.61 560.29,206.56 561.67,206.51 563.05,206.46 564.43,206.41 565.82,206.36 567.2,206.31 568.58,206.27 569.97,206.22 571.35,206.17 572.73,206.13 574.11,206.08 575.5,206.04 576.88,205.99 578.26,205.95 579.64,205.91 581.02,205.87 582.41,205.82 583.79,205.78 585.17,205.74 586.55,205.71 587.94,205.67 589.32,205.63 590.7,205.59 592.09,205.56 593.47,205.52 594.85,205.48 596.23,205.45 597.62,205.42 599,205.38 600.38,205.35 601.76,205.32 603.14,205.29 604.53,205.26 605.91,205.23 607.29,205.2 608.67,205.17 610.06,205.14 611.44,205.12 612.82,205.09 614.2,205.07 615.59,205.04 616.97,205.02 618.35,204.99 619.74,204.97 621.12,204.95 622.5,204.92 623.88,204.9 625.26,204.88 626.65,204.86 628.03,204.84 629.41,204.82 630.79,204.8 632.18,204.79 633.56,204.77 634.94,204.75 636.32,204.73 637.71,204.72 639.09,204.7 640.47,204.69 641.86,204.67 643.24,204.66 644.62,204.64 646,204.63 647.38,204.61 648.77,204.6 650.15,204.59 651.53,204.58 652.91,204.56 654.3,204.55 655.68,204.54 657.06,204.53 658.44,204.52 659.83,204.51 661.21,204.5 662.59,204.49 663.97,204.48 665.36,204.47 666.74,204.46 668.12,204.45 669.5,204.45 670.89,204.44 672.27,204.43 673.65,204.42 675.03,204.41 676.42,204.41 677.8,204.4" fill="none" stroke="#a8482c" stroke-width="1.4" stroke-linejoin="round" stroke-dasharray="2.4 1.8" />
<polyline points="401.3,221.9 402.68,221.89 404.06,221.88 405.45,221.87 406.83,221.86 408.21,221.85 409.6,221.84 410.98,221.83 412.36,221.82 413.74,221.81 415.12,221.79 416.51,221.78 417.89,221.77 419.27,221.75 420.66,221.74 422.04,221.73 423.42,221.71 424.8,221.7 426.19,221.68 427.57,221.67 428.95,221.65 430.33,221.63 431.72,221.62 433.1,221.6 434.48,221.58 435.86,221.56 437.25,221.54 438.63,221.52 440.01,221.5 441.39,221.48 442.77,221.46 444.16,221.44 445.54,221.41 446.92,221.39 448.31,221.37 449.69,221.34 451.07,221.31 452.45,221.29 453.84,221.26 455.22,221.23 456.6,221.21 457.98,221.18 459.37,221.15 460.75,221.12 462.13,221.09 463.51,221.06 464.89,221.02 466.28,220.99 467.66,220.96 469.04,220.92 470.43,220.88 471.81,220.85 473.19,220.81 474.57,220.77 475.95,220.73 477.34,220.69 478.72,220.65 480.1,220.61 481.49,220.57 482.87,220.53 484.25,220.48 485.63,220.44 487.01,220.39 488.4,220.35 489.78,220.3 491.16,220.25 492.55,220.2 493.93,220.15 495.31,220.1 496.69,220.05 498.07,220 499.46,219.95 500.84,219.9 502.22,219.84 503.61,219.79 504.99,219.73 506.37,219.67 507.75,219.62 509.13,219.56 510.52,219.5 511.9,219.44 513.28,219.38 514.66,219.32 516.05,219.26 517.43,219.2 518.81,219.14 520.19,219.08 521.58,219.02 522.96,218.96 524.34,218.89 525.73,218.83 527.11,218.77 528.49,218.7 529.87,218.64 531.25,218.57 532.64,218.51 534.02,218.45 535.4,218.38 536.78,218.32 538.17,218.25 539.55,218.19 540.93,218.12 542.32,218.06 543.7,218 545.08,217.93 546.46,217.87 547.85,217.8 549.23,217.74 550.61,217.68 551.99,217.62 553.38,217.55 554.76,217.49 556.14,217.43 557.52,217.37 558.9,217.31 560.29,217.25 561.67,217.19 563.05,217.13 564.43,217.07 565.82,217.02 567.2,216.96 568.58,216.9 569.97,216.85 571.35,216.79 572.73,216.74 574.11,216.69 575.5,216.63 576.88,216.58 578.26,216.53 579.64,216.48 581.02,216.43 582.41,216.38 583.79,216.33 585.17,216.29 586.55,216.24 587.94,216.19 589.32,216.15 590.7,216.11 592.09,216.06 593.47,216.02 594.85,215.98 596.23,215.94 597.62,215.9 599,215.86 600.38,215.82 601.76,215.79 603.14,215.75 604.53,215.71 605.91,215.68 607.29,215.64 608.67,215.61 610.06,215.58 611.44,215.55 612.82,215.52 614.2,215.49 615.59,215.46 616.97,215.43 618.35,215.4 619.74,215.37 621.12,215.35 622.5,215.32 623.88,215.29 625.26,215.27 626.65,215.25 628.03,215.22 629.41,215.2 630.79,215.18 632.18,215.15 633.56,215.13 634.94,215.11 636.32,215.09 637.71,215.07 639.09,215.06 640.47,215.04 641.86,215.02 643.24,215 644.62,214.98 646,214.97 647.38,214.95 648.77,214.94 650.15,214.92 651.53,214.91 652.91,214.89 654.3,214.88 655.68,214.87 657.06,214.85 658.44,214.84 659.83,214.83 661.21,214.82 662.59,214.81 663.97,214.79 665.36,214.78 666.74,214.77 668.12,214.76 669.5,214.75 670.89,214.74 672.27,214.73 673.65,214.73 675.03,214.72 676.42,214.71 677.8,214.7" fill="none" stroke="#1e1e78" stroke-width="1.5" stroke-linejoin="round" stroke-dasharray="2.4 1.8" />
<polyline points="401.3,245.6 402.68,245.59 404.06,245.59 405.45,245.58 406.83,245.57 408.21,245.56 409.6,245.55 410.98,245.54 412.36,245.54 413.74,245.53 415.12,245.52 416.51,245.51 417.89,245.5 419.27,245.49 420.66,245.48 422.04,245.47 423.42,245.45 424.8,245.44 426.19,245.43 427.57,245.42 428.95,245.41 430.33,245.39 431.72,245.38 433.1,245.36 434.48,245.35 435.86,245.34 437.25,245.32 438.63,245.31 440.01,245.29 441.39,245.27 442.77,245.26 444.16,245.24 445.54,245.22 446.92,245.2 448.31,245.18 449.69,245.16 451.07,245.14 452.45,245.12 453.84,245.1 455.22,245.08 456.6,245.06 457.98,245.04 459.37,245.02 460.75,244.99 462.13,244.97 463.51,244.94 464.89,244.92 466.28,244.89 467.66,244.87 469.04,244.84 470.43,244.81 471.81,244.78 473.19,244.75 474.57,244.72 475.95,244.69 477.34,244.66 478.72,244.63 480.1,244.6 481.49,244.57 482.87,244.53 484.25,244.5 485.63,244.46 487.01,244.43 488.4,244.39 489.78,244.36 491.16,244.32 492.55,244.28 493.93,244.24 495.31,244.2 496.69,244.16 498.07,244.12 499.46,244.08 500.84,244.04 502.22,244 503.61,243.96 504.99,243.91 506.37,243.87 507.75,243.83 509.13,243.78 510.52,243.74 511.9,243.69 513.28,243.64 514.66,243.6 516.05,243.55 517.43,243.5 518.81,243.45 520.19,243.41 521.58,243.36 522.96,243.31 524.34,243.26 525.73,243.21 527.11,243.16 528.49,243.11 529.87,243.06 531.25,243.01 532.64,242.96 534.02,242.91 535.4,242.86 536.78,242.81 538.17,242.76 539.55,242.71 540.93,242.66 542.32,242.61 543.7,242.56 545.08,242.51 546.46,242.46 547.85,242.41 549.23,242.37 550.61,242.32 551.99,242.27 553.38,242.22 554.76,242.17 556.14,242.12 557.52,242.08 558.9,242.03 560.29,241.98 561.67,241.94 563.05,241.89 564.43,241.85 565.82,241.8 567.2,241.76 568.58,241.71 569.97,241.67 571.35,241.63 572.73,241.59 574.11,241.54 575.5,241.5 576.88,241.46 578.26,241.42 579.64,241.38 581.02,241.35 582.41,241.31 583.79,241.27 585.17,241.23 586.55,241.2 587.94,241.16 589.32,241.13 590.7,241.09 592.09,241.06 593.47,241.03 594.85,241 596.23,240.96 597.62,240.93 599,240.9 600.38,240.87 601.76,240.84 603.14,240.82 604.53,240.79 605.91,240.76 607.29,240.73 608.67,240.71 610.06,240.68 611.44,240.66 612.82,240.63 614.2,240.61 615.59,240.59 616.97,240.57 618.35,240.54 619.74,240.52 621.12,240.5 622.5,240.48 623.88,240.46 625.26,240.44 626.65,240.42 628.03,240.41 629.41,240.39 630.79,240.37 632.18,240.35 633.56,240.34 634.94,240.32 636.32,240.31 637.71,240.29 639.09,240.28 640.47,240.26 641.86,240.25 643.24,240.23 644.62,240.22 646,240.21 647.38,240.2 648.77,240.18 650.15,240.17 651.53,240.16 652.91,240.15 654.3,240.14 655.68,240.13 657.06,240.12 658.44,240.11 659.83,240.1 661.21,240.09 662.59,240.08 663.97,240.07 665.36,240.07 666.74,240.06 668.12,240.05 669.5,240.04 670.89,240.03 672.27,240.03 673.65,240.02 675.03,240.01 676.42,240.01 677.8,240" fill="none" stroke="#1e6a62" stroke-width="1.3" stroke-linejoin="round" stroke-dasharray="2.2 1.8" />
<polyline points="401.3,208.8 402.68,208.8 404.06,208.8 405.45,208.79 406.83,208.79 408.21,208.79 409.6,208.78 410.98,208.78 412.36,208.78 413.74,208.78 415.12,208.77 416.51,208.77 417.89,208.77 419.27,208.76 420.66,208.76 422.04,208.76 423.42,208.75 424.8,208.75 426.19,208.75 427.57,208.74 428.95,208.74 430.33,208.73 431.72,208.73 433.1,208.72 434.48,208.72 435.86,208.72 437.25,208.71 438.63,208.71 440.01,208.7 441.39,208.69 442.77,208.69 444.16,208.68 445.54,208.68 446.92,208.67 448.31,208.67 449.69,208.66 451.07,208.65 452.45,208.65 453.84,208.64 455.22,208.63 456.6,208.63 457.98,208.62 459.37,208.61 460.75,208.6 462.13,208.6 463.51,208.59 464.89,208.58 466.28,208.57 467.66,208.56 469.04,208.56 470.43,208.55 471.81,208.54 473.19,208.53 474.57,208.52 475.95,208.51 477.34,208.5 478.72,208.49 480.1,208.48 481.49,208.47 482.87,208.46 484.25,208.45 485.63,208.43 487.01,208.42 488.4,208.41 489.78,208.4 491.16,208.39 492.55,208.38 493.93,208.36 495.31,208.35 496.69,208.34 498.07,208.33 499.46,208.31 500.84,208.3 502.22,208.29 503.61,208.27 504.99,208.26 506.37,208.24 507.75,208.23 509.13,208.22 510.52,208.2 511.9,208.19 513.28,208.17 514.66,208.16 516.05,208.14 517.43,208.13 518.81,208.11 520.19,208.1 521.58,208.08 522.96,208.06 524.34,208.05 525.73,208.03 527.11,208.02 528.49,208 529.87,207.98 531.25,207.97 532.64,207.95 534.02,207.94 535.4,207.92 536.78,207.9 538.17,207.89 539.55,207.87 540.93,207.86 542.32,207.84 543.7,207.82 545.08,207.81 546.46,207.79 547.85,207.78 549.23,207.76 550.61,207.74 551.99,207.73 553.38,207.71 554.76,207.7 556.14,207.68 557.52,207.67 558.9,207.65 560.29,207.64 561.67,207.62 563.05,207.61 564.43,207.59 565.82,207.58 567.2,207.56 568.58,207.55 569.97,207.54 571.35,207.52 572.73,207.51 574.11,207.5 575.5,207.48 576.88,207.47 578.26,207.46 579.64,207.44 581.02,207.43 582.41,207.42 583.79,207.41 585.17,207.4 586.55,207.39 587.94,207.37 589.32,207.36 590.7,207.35 592.09,207.34 593.47,207.33 594.85,207.32 596.23,207.31 597.62,207.3 599,207.29 600.38,207.28 601.76,207.27 603.14,207.26 604.53,207.25 605.91,207.24 607.29,207.24 608.67,207.23 610.06,207.22 611.44,207.21 612.82,207.2 614.2,207.2 615.59,207.19 616.97,207.18 618.35,207.17 619.74,207.17 621.12,207.16 622.5,207.15 623.88,207.15 625.26,207.14 626.65,207.14 628.03,207.13 629.41,207.12 630.79,207.12 632.18,207.11 633.56,207.11 634.94,207.1 636.32,207.1 637.71,207.09 639.09,207.09 640.47,207.08 641.86,207.08 643.24,207.08 644.62,207.07 646,207.07 647.38,207.06 648.77,207.06 650.15,207.06 651.53,207.05 652.91,207.05 654.3,207.04 655.68,207.04 657.06,207.04 658.44,207.04 659.83,207.03 661.21,207.03 662.59,207.03 663.97,207.02 665.36,207.02 666.74,207.02 668.12,207.02 669.5,207.01 670.89,207.01 672.27,207.01 673.65,207.01 675.03,207 676.42,207 677.8,207" fill="none" stroke="#e0a248" stroke-width="2.0" stroke-linejoin="round"  />
<polyline points="401.3,210.2 402.68,210.2 404.06,210.2 405.45,210.19 406.83,210.19 408.21,210.19 409.6,210.18 410.98,210.18 412.36,210.18 413.74,210.18 415.12,210.17 416.51,210.17 417.89,210.17 419.27,210.16 420.66,210.16 422.04,210.16 423.42,210.15 424.8,210.15 426.19,210.15 427.57,210.14 428.95,210.14 430.33,210.13 431.72,210.13 433.1,210.12 434.48,210.12 435.86,210.12 437.25,210.11 438.63,210.11 440.01,210.1 441.39,210.09 442.77,210.09 444.16,210.08 445.54,210.08 446.92,210.07 448.31,210.07 449.69,210.06 451.07,210.05 452.45,210.05 453.84,210.04 455.22,210.03 456.6,210.03 457.98,210.02 459.37,210.01 460.75,210 462.13,210 463.51,209.99 464.89,209.98 466.28,209.97 467.66,209.96 469.04,209.96 470.43,209.95 471.81,209.94 473.19,209.93 474.57,209.92 475.95,209.91 477.34,209.9 478.72,209.89 480.1,209.88 481.49,209.87 482.87,209.86 484.25,209.85 485.63,209.83 487.01,209.82 488.4,209.81 489.78,209.8 491.16,209.79 492.55,209.78 493.93,209.76 495.31,209.75 496.69,209.74 498.07,209.73 499.46,209.71 500.84,209.7 502.22,209.69 503.61,209.67 504.99,209.66 506.37,209.64 507.75,209.63 509.13,209.62 510.52,209.6 511.9,209.59 513.28,209.57 514.66,209.56 516.05,209.54 517.43,209.53 518.81,209.51 520.19,209.5 521.58,209.48 522.96,209.46 524.34,209.45 525.73,209.43 527.11,209.42 528.49,209.4 529.87,209.38 531.25,209.37 532.64,209.35 534.02,209.34 535.4,209.32 536.78,209.3 538.17,209.29 539.55,209.27 540.93,209.26 542.32,209.24 543.7,209.22 545.08,209.21 546.46,209.19 547.85,209.18 549.23,209.16 550.61,209.14 551.99,209.13 553.38,209.11 554.76,209.1 556.14,209.08 557.52,209.07 558.9,209.05 560.29,209.04 561.67,209.02 563.05,209.01 564.43,208.99 565.82,208.98 567.2,208.96 568.58,208.95 569.97,208.94 571.35,208.92 572.73,208.91 574.11,208.9 575.5,208.88 576.88,208.87 578.26,208.86 579.64,208.84 581.02,208.83 582.41,208.82 583.79,208.81 585.17,208.8 586.55,208.79 587.94,208.77 589.32,208.76 590.7,208.75 592.09,208.74 593.47,208.73 594.85,208.72 596.23,208.71 597.62,208.7 599,208.69 600.38,208.68 601.76,208.67 603.14,208.66 604.53,208.65 605.91,208.64 607.29,208.64 608.67,208.63 610.06,208.62 611.44,208.61 612.82,208.6 614.2,208.6 615.59,208.59 616.97,208.58 618.35,208.57 619.74,208.57 621.12,208.56 622.5,208.55 623.88,208.55 625.26,208.54 626.65,208.54 628.03,208.53 629.41,208.52 630.79,208.52 632.18,208.51 633.56,208.51 634.94,208.5 636.32,208.5 637.71,208.49 639.09,208.49 640.47,208.48 641.86,208.48 643.24,208.48 644.62,208.47 646,208.47 647.38,208.46 648.77,208.46 650.15,208.46 651.53,208.45 652.91,208.45 654.3,208.44 655.68,208.44 657.06,208.44 658.44,208.44 659.83,208.43 661.21,208.43 662.59,208.43 663.97,208.42 665.36,208.42 666.74,208.42 668.12,208.42 669.5,208.41 670.89,208.41 672.27,208.41 673.65,208.41 675.03,208.4 676.42,208.4 677.8,208.4" fill="none" stroke="#f6e6b8" stroke-width="0.9" stroke-linejoin="round" stroke-dasharray="1.6 1.6" />
<polyline points="401.3,221.8 402.68,221.8 404.06,221.8 405.45,221.8 406.83,221.8 408.21,221.79 409.6,221.79 410.98,221.79 412.36,221.79 413.74,221.79 415.12,221.79 416.51,221.79 417.89,221.79 419.27,221.78 420.66,221.78 422.04,221.78 423.42,221.78 424.8,221.78 426.19,221.78 427.57,221.77 428.95,221.77 430.33,221.77 431.72,221.77 433.1,221.77 434.48,221.76 435.86,221.76 437.25,221.76 438.63,221.76 440.01,221.76 441.39,221.75 442.77,221.75 444.16,221.75 445.54,221.75 446.92,221.74 448.31,221.74 449.69,221.74 451.07,221.73 452.45,221.73 453.84,221.73 455.22,221.73 456.6,221.72 457.98,221.72 459.37,221.72 460.75,221.71 462.13,221.71 463.51,221.71 464.89,221.7 466.28,221.7 467.66,221.7 469.04,221.69 470.43,221.69 471.81,221.68 473.19,221.68 474.57,221.67 475.95,221.67 477.34,221.67 478.72,221.66 480.1,221.66 481.49,221.65 482.87,221.65 484.25,221.64 485.63,221.64 487.01,221.63 488.4,221.63 489.78,221.62 491.16,221.62 492.55,221.61 493.93,221.61 495.31,221.6 496.69,221.59 498.07,221.59 499.46,221.58 500.84,221.58 502.22,221.57 503.61,221.57 504.99,221.56 506.37,221.55 507.75,221.55 509.13,221.54 510.52,221.53 511.9,221.53 513.28,221.52 514.66,221.51 516.05,221.51 517.43,221.5 518.81,221.49 520.19,221.49 521.58,221.48 522.96,221.47 524.34,221.47 525.73,221.46 527.11,221.45 528.49,221.44 529.87,221.44 531.25,221.43 532.64,221.42 534.02,221.42 535.4,221.41 536.78,221.4 538.17,221.39 539.55,221.39 540.93,221.38 542.32,221.37 543.7,221.37 545.08,221.36 546.46,221.35 547.85,221.34 549.23,221.34 550.61,221.33 551.99,221.32 553.38,221.32 554.76,221.31 556.14,221.3 557.52,221.3 558.9,221.29 560.29,221.28 561.67,221.28 563.05,221.27 564.43,221.26 565.82,221.26 567.2,221.25 568.58,221.24 569.97,221.24 571.35,221.23 572.73,221.23 574.11,221.22 575.5,221.21 576.88,221.21 578.26,221.2 579.64,221.2 581.02,221.19 582.41,221.19 583.79,221.18 585.17,221.18 586.55,221.17 587.94,221.17 589.32,221.16 590.7,221.16 592.09,221.15 593.47,221.15 594.85,221.14 596.23,221.14 597.62,221.13 599,221.13 600.38,221.12 601.76,221.12 603.14,221.12 604.53,221.11 605.91,221.11 607.29,221.1 608.67,221.1 610.06,221.1 611.44,221.09 612.82,221.09 614.2,221.09 615.59,221.08 616.97,221.08 618.35,221.08 619.74,221.07 621.12,221.07 622.5,221.07 623.88,221.07 625.26,221.06 626.65,221.06 628.03,221.06 629.41,221.06 630.79,221.05 632.18,221.05 633.56,221.05 634.94,221.05 636.32,221.04 637.71,221.04 639.09,221.04 640.47,221.04 641.86,221.04 643.24,221.03 644.62,221.03 646,221.03 647.38,221.03 648.77,221.03 650.15,221.02 651.53,221.02 652.91,221.02 654.3,221.02 655.68,221.02 657.06,221.02 658.44,221.02 659.83,221.01 661.21,221.01 662.59,221.01 663.97,221.01 665.36,221.01 666.74,221.01 668.12,221.01 669.5,221.01 670.89,221 672.27,221 673.65,221 675.03,221 676.42,221 677.8,221" fill="none" stroke="#2a2ab4" stroke-width="1.6" stroke-linejoin="round"  />
<polyline points="401.3,246.2 402.68,246.2 404.06,246.2 405.45,246.2 406.83,246.2 408.21,246.2 409.6,246.2 410.98,246.2 412.36,246.2 413.74,246.2 415.12,246.2 416.51,246.2 417.89,246.2 419.27,246.2 420.66,246.2 422.04,246.2 423.42,246.2 424.8,246.2 426.19,246.2 427.57,246.2 428.95,246.2 430.33,246.2 431.72,246.2 433.1,246.2 434.48,246.2 435.86,246.2 437.25,246.2 438.63,246.2 440.01,246.2 441.39,246.2 442.77,246.2 444.16,246.2 445.54,246.2 446.92,246.2 448.31,246.2 449.69,246.2 451.07,246.2 452.45,246.2 453.84,246.2 455.22,246.2 456.6,246.2 457.98,246.2 459.37,246.2 460.75,246.2 462.13,246.2 463.51,246.2 464.89,246.2 466.28,246.2 467.66,246.2 469.04,246.2 470.43,246.2 471.81,246.2 473.19,246.2 474.57,246.2 475.95,246.2 477.34,246.2 478.72,246.2 480.1,246.2 481.49,246.2 482.87,246.2 484.25,246.2 485.63,246.2 487.01,246.2 488.4,246.2 489.78,246.2 491.16,246.2 492.55,246.2 493.93,246.2 495.31,246.2 496.69,246.2 498.07,246.2 499.46,246.2 500.84,246.2 502.22,246.2 503.61,246.2 504.99,246.2 506.37,246.2 507.75,246.2 509.13,246.2 510.52,246.2 511.9,246.2 513.28,246.2 514.66,246.2 516.05,246.2 517.43,246.2 518.81,246.2 520.19,246.2 521.58,246.2 522.96,246.2 524.34,246.2 525.73,246.2 527.11,246.2 528.49,246.2 529.87,246.2 531.25,246.2 532.64,246.2 534.02,246.2 535.4,246.2 536.78,246.2 538.17,246.2 539.55,246.2 540.93,246.2 542.32,246.2 543.7,246.2 545.08,246.2 546.46,246.2 547.85,246.2 549.23,246.2 550.61,246.2 551.99,246.2 553.38,246.2 554.76,246.2 556.14,246.2 557.52,246.2 558.9,246.2 560.29,246.2 561.67,246.2 563.05,246.2 564.43,246.2 565.82,246.2 567.2,246.2 568.58,246.2 569.97,246.2 571.35,246.2 572.73,246.2 574.11,246.2 575.5,246.2 576.88,246.2 578.26,246.2 579.64,246.2 581.02,246.2 582.41,246.2 583.79,246.2 585.17,246.2 586.55,246.2 587.94,246.2 589.32,246.2 590.7,246.2 592.09,246.2 593.47,246.2 594.85,246.2 596.23,246.2 597.62,246.2 599,246.2 600.38,246.2 601.76,246.2 603.14,246.2 604.53,246.2 605.91,246.2 607.29,246.2 608.67,246.2 610.06,246.2 611.44,246.2 612.82,246.2 614.2,246.2 615.59,246.2 616.97,246.2 618.35,246.2 619.74,246.2 621.12,246.2 622.5,246.2 623.88,246.2 625.26,246.2 626.65,246.2 628.03,246.2 629.41,246.2 630.79,246.2 632.18,246.2 633.56,246.2 634.94,246.2 636.32,246.2 637.71,246.2 639.09,246.2 640.47,246.2 641.86,246.2 643.24,246.2 644.62,246.2 646,246.2 647.38,246.2 648.77,246.2 650.15,246.2 651.53,246.2 652.91,246.2 654.3,246.2 655.68,246.2 657.06,246.2 658.44,246.2 659.83,246.2 661.21,246.2 662.59,246.2 663.97,246.2 665.36,246.2 666.74,246.2 668.12,246.2 669.5,246.2 670.89,246.2 672.27,246.2 673.65,246.2 675.03,246.2 676.42,246.2 677.8,246.2" fill="none" stroke="#2a9488" stroke-width="1.5" stroke-linejoin="round"  />
</g>
<g clip-path="url(#cf2)">
<polygon points="401.3,306.99 402.68,306.95 404.06,306.91 405.45,306.86 406.83,306.82 408.21,306.77 409.6,306.72 410.98,306.67 412.36,306.61 413.74,306.56 415.12,306.5 416.51,306.45 417.89,306.39 419.27,306.33 420.66,306.26 422.04,306.2 423.42,306.13 424.8,306.06 426.19,305.99 427.57,305.92 428.95,305.84 430.33,305.77 431.72,305.69 433.1,305.6 434.48,305.52 435.86,305.43 437.25,305.34 438.63,305.25 440.01,305.16 441.39,305.06 442.77,304.96 444.16,304.86 445.54,304.76 446.92,304.65 448.31,304.54 449.69,304.42 451.07,304.31 452.45,304.19 453.84,304.06 455.22,303.94 456.6,303.81 457.98,303.68 459.37,303.54 460.75,303.4 462.13,303.26 463.51,303.11 464.89,302.96 466.28,302.81 467.66,302.66 469.04,302.49 470.43,302.33 471.81,302.16 473.19,301.99 474.57,301.82 475.95,301.64 477.34,301.46 478.72,301.27 480.1,301.08 481.49,300.89 482.87,300.69 484.25,300.49 485.63,300.28 487.01,300.08 488.4,299.86 489.78,299.65 491.16,299.43 492.55,299.2 493.93,298.98 495.31,298.74 496.69,298.51 498.07,298.27 499.46,298.03 500.84,297.78 502.22,297.54 503.61,297.28 504.99,297.03 506.37,296.77 507.75,296.51 509.13,296.25 510.52,295.98 511.9,295.71 513.28,295.44 514.66,295.16 516.05,294.89 517.43,294.61 518.81,294.32 520.19,294.04 521.58,293.76 522.96,293.47 524.34,293.18 525.73,292.89 527.11,292.6 528.49,292.3 529.87,292.01 531.25,291.72 532.64,291.42 534.02,291.13 535.4,290.83 536.78,290.53 538.17,290.24 539.55,289.94 540.93,289.65 542.32,289.35 543.7,289.06 545.08,288.76 546.46,288.47 547.85,288.18 549.23,287.89 550.61,287.6 551.99,287.31 553.38,287.03 554.76,286.74 556.14,286.46 557.52,286.18 558.9,285.91 560.29,285.63 561.67,285.36 563.05,285.09 564.43,284.82 565.82,284.56 567.2,284.3 568.58,284.04 569.97,283.78 571.35,283.53 572.73,283.28 574.11,283.04 575.5,282.8 576.88,282.56 578.26,282.32 579.64,282.09 581.02,281.87 582.41,281.64 583.79,281.42 585.17,281.21 586.55,280.99 587.94,280.78 589.32,280.58 590.7,280.38 592.09,280.18 593.47,279.99 594.85,279.8 596.23,279.61 597.62,279.43 599,279.25 600.38,279.08 601.76,278.9 603.14,278.74 604.53,278.57 605.91,278.41 607.29,278.26 608.67,278.1 610.06,277.95 611.44,277.81 612.82,277.67 614.2,277.53 615.59,277.39 616.97,277.26 618.35,277.13 619.74,277 621.12,276.88 622.5,276.76 623.88,276.64 625.26,276.53 626.65,276.42 628.03,276.31 629.41,276.21 630.79,276.11 632.18,276.01 633.56,275.91 634.94,275.81 636.32,275.72 637.71,275.63 639.09,275.55 640.47,275.46 641.86,275.38 643.24,275.3 644.62,275.22 646,275.15 647.38,275.08 648.77,275.01 650.15,274.94 651.53,274.87 652.91,274.8 654.3,274.74 655.68,274.68 657.06,274.62 658.44,274.56 659.83,274.51 661.21,274.45 662.59,274.4 663.97,274.35 665.36,274.3 666.74,274.25 668.12,274.2 669.5,274.16 670.89,274.12 672.27,274.07 673.65,274.03 675.03,273.99 676.42,273.95 677.8,273.92 677.8,308.5 401.3,308.5" fill="#e9cec0" stroke="none" stroke-width="1" />
<polyline points="401.3,306.99 402.68,306.95 404.06,306.91 405.45,306.86 406.83,306.82 408.21,306.77 409.6,306.72 410.98,306.67 412.36,306.61 413.74,306.56 415.12,306.5 416.51,306.45 417.89,306.39 419.27,306.33 420.66,306.26 422.04,306.2 423.42,306.13 424.8,306.06 426.19,305.99 427.57,305.92 428.95,305.84 430.33,305.77 431.72,305.69 433.1,305.6 434.48,305.52 435.86,305.43 437.25,305.34 438.63,305.25 440.01,305.16 441.39,305.06 442.77,304.96 444.16,304.86 445.54,304.76 446.92,304.65 448.31,304.54 449.69,304.42 451.07,304.31 452.45,304.19 453.84,304.06 455.22,303.94 456.6,303.81 457.98,303.68 459.37,303.54 460.75,303.4 462.13,303.26 463.51,303.11 464.89,302.96 466.28,302.81 467.66,302.66 469.04,302.49 470.43,302.33 471.81,302.16 473.19,301.99 474.57,301.82 475.95,301.64 477.34,301.46 478.72,301.27 480.1,301.08 481.49,300.89 482.87,300.69 484.25,300.49 485.63,300.28 487.01,300.08 488.4,299.86 489.78,299.65 491.16,299.43 492.55,299.2 493.93,298.98 495.31,298.74 496.69,298.51 498.07,298.27 499.46,298.03 500.84,297.78 502.22,297.54 503.61,297.28 504.99,297.03 506.37,296.77 507.75,296.51 509.13,296.25 510.52,295.98 511.9,295.71 513.28,295.44 514.66,295.16 516.05,294.89 517.43,294.61 518.81,294.32 520.19,294.04 521.58,293.76 522.96,293.47 524.34,293.18 525.73,292.89 527.11,292.6 528.49,292.3 529.87,292.01 531.25,291.72 532.64,291.42 534.02,291.13 535.4,290.83 536.78,290.53 538.17,290.24 539.55,289.94 540.93,289.65 542.32,289.35 543.7,289.06 545.08,288.76 546.46,288.47 547.85,288.18 549.23,287.89 550.61,287.6 551.99,287.31 553.38,287.03 554.76,286.74 556.14,286.46 557.52,286.18 558.9,285.91 560.29,285.63 561.67,285.36 563.05,285.09 564.43,284.82 565.82,284.56 567.2,284.3 568.58,284.04 569.97,283.78 571.35,283.53 572.73,283.28 574.11,283.04 575.5,282.8 576.88,282.56 578.26,282.32 579.64,282.09 581.02,281.87 582.41,281.64 583.79,281.42 585.17,281.21 586.55,280.99 587.94,280.78 589.32,280.58 590.7,280.38 592.09,280.18 593.47,279.99 594.85,279.8 596.23,279.61 597.62,279.43 599,279.25 600.38,279.08 601.76,278.9 603.14,278.74 604.53,278.57 605.91,278.41 607.29,278.26 608.67,278.1 610.06,277.95 611.44,277.81 612.82,277.67 614.2,277.53 615.59,277.39 616.97,277.26 618.35,277.13 619.74,277 621.12,276.88 622.5,276.76 623.88,276.64 625.26,276.53 626.65,276.42 628.03,276.31 629.41,276.21 630.79,276.11 632.18,276.01 633.56,275.91 634.94,275.81 636.32,275.72 637.71,275.63 639.09,275.55 640.47,275.46 641.86,275.38 643.24,275.3 644.62,275.22 646,275.15 647.38,275.08 648.77,275.01 650.15,274.94 651.53,274.87 652.91,274.8 654.3,274.74 655.68,274.68 657.06,274.62 658.44,274.56 659.83,274.51 661.21,274.45 662.59,274.4 663.97,274.35 665.36,274.3 666.74,274.25 668.12,274.2 669.5,274.16 670.89,274.12 672.27,274.07 673.65,274.03 675.03,273.99 676.42,273.95 677.8,273.92" fill="none" stroke="#cf8a62" stroke-width="1.1" stroke-linejoin="round"  />
<polyline points="401.3,307.72 402.68,307.69 404.06,307.65 405.45,307.62 406.83,307.58 408.21,307.55 409.6,307.51 410.98,307.47 412.36,307.43 413.74,307.39 415.12,307.34 416.51,307.3 417.89,307.25 419.27,307.21 420.66,307.16 422.04,307.11 423.42,307.06 424.8,307 426.19,306.95 427.57,306.89 428.95,306.84 430.33,306.78 431.72,306.71 433.1,306.65 434.48,306.58 435.86,306.52 437.25,306.45 438.63,306.38 440.01,306.3 441.39,306.23 442.77,306.15 444.16,306.07 445.54,305.99 446.92,305.9 448.31,305.82 449.69,305.73 451.07,305.63 452.45,305.54 453.84,305.44 455.22,305.34 456.6,305.24 457.98,305.13 459.37,305.03 460.75,304.91 462.13,304.8 463.51,304.68 464.89,304.56 466.28,304.44 467.66,304.31 469.04,304.18 470.43,304.05 471.81,303.91 473.19,303.77 474.57,303.63 475.95,303.48 477.34,303.33 478.72,303.18 480.1,303.02 481.49,302.86 482.87,302.7 484.25,302.53 485.63,302.36 487.01,302.18 488.4,302 489.78,301.82 491.16,301.63 492.55,301.44 493.93,301.25 495.31,301.05 496.69,300.85 498.07,300.64 499.46,300.43 500.84,300.22 502.22,300 503.61,299.78 504.99,299.56 506.37,299.33 507.75,299.1 509.13,298.86 510.52,298.62 511.9,298.38 513.28,298.13 514.66,297.89 516.05,297.63 517.43,297.38 518.81,297.12 520.19,296.86 521.58,296.59 522.96,296.33 524.34,296.06 525.73,295.78 527.11,295.51 528.49,295.23 529.87,294.95 531.25,294.67 532.64,294.38 534.02,294.1 535.4,293.81 536.78,293.52 538.17,293.23 539.55,292.94 540.93,292.65 542.32,292.35 543.7,292.06 545.08,291.76 546.46,291.47 547.85,291.17 549.23,290.87 550.61,290.58 551.99,290.28 553.38,289.99 554.76,289.69 556.14,289.4 557.52,289.1 558.9,288.81 560.29,288.52 561.67,288.23 563.05,287.94 564.43,287.66 565.82,287.37 567.2,287.09 568.58,286.81 569.97,286.53 571.35,286.25 572.73,285.98 574.11,285.7 575.5,285.44 576.88,285.17 578.26,284.91 579.64,284.64 581.02,284.39 582.41,284.13 583.79,283.88 585.17,283.63 586.55,283.39 587.94,283.15 589.32,282.91 590.7,282.68 592.09,282.45 593.47,282.22 594.85,282 596.23,281.78 597.62,281.56 599,281.35 600.38,281.14 601.76,280.94 603.14,280.74 604.53,280.54 605.91,280.35 607.29,280.16 608.67,279.97 610.06,279.79 611.44,279.61 612.82,279.44 614.2,279.27 615.59,279.1 616.97,278.94 618.35,278.78 619.74,278.63 621.12,278.47 622.5,278.32 623.88,278.18 625.26,278.04 626.65,277.9 628.03,277.76 629.41,277.63 630.79,277.5 632.18,277.38 633.56,277.26 634.94,277.14 636.32,277.02 637.71,276.91 639.09,276.8 640.47,276.69 641.86,276.59 643.24,276.49 644.62,276.39 646,276.29 647.38,276.2 648.77,276.11 650.15,276.02 651.53,275.93 652.91,275.85 654.3,275.77 655.68,275.69 657.06,275.61 658.44,275.53 659.83,275.46 661.21,275.39 662.59,275.32 663.97,275.26 665.36,275.19 666.74,275.13 668.12,275.07 669.5,275.01 670.89,274.95 672.27,274.9 673.65,274.84 675.03,274.79 676.42,274.74 677.8,274.69" fill="none" stroke="#c8805a" stroke-width="1.0" stroke-linejoin="round" stroke-dasharray="2 1.6" />
</g>
<rect x="401.3" y="185.2" width="276.5" height="72.8" fill="none" stroke="#1c1c1c" stroke-width="1.3" />
<rect x="401.3" y="270.5" width="276.5" height="38" fill="none" stroke="#1c1c1c" stroke-width="1.3" />
<line x1="397.3" y1="185.2" x2="401.3" y2="185.2" stroke="#1c1c1c" stroke-width="1.2" />
<text x="394" y="187.41" font-size="9.6" text-anchor="end" font-weight="normal" font-style="normal" fill="#1c1c1c" stroke="#1c1c1c" stroke-width="0.14" >170</text>
<line x1="397.3" y1="221.6" x2="401.3" y2="221.6" stroke="#1c1c1c" stroke-width="1.2" />
<text x="394" y="223.81" font-size="9.6" text-anchor="end" font-weight="normal" font-style="normal" fill="#1c1c1c" stroke="#1c1c1c" stroke-width="0.14" >100</text>
<line x1="397.3" y1="258" x2="401.3" y2="258" stroke="#1c1c1c" stroke-width="1.2" />
<text x="394" y="260.21" font-size="9.6" text-anchor="end" font-weight="normal" font-style="normal" fill="#1c1c1c" stroke="#1c1c1c" stroke-width="0.14" >30</text>
<line x1="397.3" y1="270.5" x2="401.3" y2="270.5" stroke="#1c1c1c" stroke-width="1.2" />
<text x="394" y="272.91" font-size="9.6" text-anchor="end" font-weight="normal" font-style="normal" fill="#1c1c1c" stroke="#1c1c1c" stroke-width="0.14" >55</text>
<line x1="397.3" y1="308.3" x2="401.3" y2="308.3" stroke="#1c1c1c" stroke-width="1.2" />
<text x="394" y="310.71" font-size="9.6" text-anchor="end" font-weight="normal" font-style="normal" fill="#1c1c1c" stroke="#1c1c1c" stroke-width="0.14" >30</text>
<line x1="428.4" y1="308.5" x2="428.4" y2="312.5" stroke="#1c1c1c" stroke-width="1.2" />
<line x1="487.9" y1="308.5" x2="487.9" y2="312.5" stroke="#1c1c1c" stroke-width="1.2" />
<line x1="575.4" y1="308.5" x2="575.4" y2="312.5" stroke="#1c1c1c" stroke-width="1.2" />
<line x1="662.8" y1="308.5" x2="662.8" y2="312.5" stroke="#1c1c1c" stroke-width="1.2" />
<line x1="401.3" y1="308.5" x2="401.3" y2="312.5" stroke="#1c1c1c" stroke-width="1.2" />
<text x="401.3" y="324.41" font-size="9.6" text-anchor="middle" font-weight="normal" font-style="normal" fill="#1c1c1c" stroke="#1c1c1c" stroke-width="0.14" >0</text>
<line x1="677.8" y1="308.5" x2="677.8" y2="312.5" stroke="#1c1c1c" stroke-width="1.2" />
<text x="677.8" y="324.41" font-size="9.6" text-anchor="middle" font-weight="normal" font-style="normal" fill="#1c1c1c" stroke="#1c1c1c" stroke-width="0.14" >5</text>
<line x1="401.3" y1="258" x2="401.3" y2="262" stroke="#1c1c1c" stroke-width="1.2" />
<line x1="677.8" y1="258" x2="677.8" y2="262" stroke="#1c1c1c" stroke-width="1.2" />
<text transform="translate(372.08,221.6) rotate(-90)" x="0" y="0" font-size="9.8" text-anchor="middle" fill="#1c1c1c" stroke="#1c1c1c" stroke-width="0.14"><tspan font-style="italic">T</tspan> (°C)</text>
<text transform="translate(376.28,288.8) rotate(-90)" x="0" y="0" font-size="9.8" text-anchor="middle" fill="#1c1c1c" stroke="#1c1c1c" stroke-width="0.14"><tspan font-style="italic">T</tspan><tspan font-size="7" dy="2">amb</tspan><tspan dy="-2"> (°C)</tspan></text>
<text x="441.15" y="179.34" font-size="9.7" text-anchor="middle" font-weight="normal" font-style="normal" fill="#1c1c1c" stroke="#1c1c1c" stroke-width="0.14" >Morphing basis</text>
<circle cx="485.8" cy="174.8" r="1.9" fill="#d23a3a" />
<polygon points="495.3,169 496.8,170 491.8,180.2 490.3,179.2" fill="#505050" stroke="none" stroke-width="1" />
<circle cx="508.3" cy="174.8" r="1.9" fill="#e6d25a" />
<rect x="514.8" y="168.5" width="12" height="13" fill="#f0f0f0" stroke="none" stroke-width="1" rx="3"/>
<polyline points="519.8,169.5 524.2,175.8" fill="none" stroke="#a8a8a8" stroke-width="0.9" stroke-linejoin="round"  />
<circle cx="531.3" cy="174.8" r="1.9" fill="#2a8a80" />
<rect x="535.8" y="168.5" width="12" height="13" fill="#f0f0f0" stroke="none" stroke-width="1" rx="3"/>
<polygon points="546.6,175.8 546.6,180.2 542,180.2" fill="#404040" stroke="none" stroke-width="1" />
<circle cx="554.1" cy="174.8" r="1.9" fill="#2a2aa0" />
<polygon points="558.8,169.5 569.4,169.3 569,174 564.8,179 560.3,180.3 558.8,179" fill="#505050" stroke="none" stroke-width="1" />
<line x1="592.8" y1="175.2" x2="605.8" y2="175.2" stroke="#1c1c1c" stroke-width="1.3" stroke-dasharray="3 2"/>
<text x="613.1" y="178.64" font-size="9.7" text-anchor="start" font-weight="normal" font-style="normal" fill="#1c1c1c" stroke="#1c1c1c" stroke-width="0.14" >OL</text>
<line x1="634.8" y1="175.2" x2="646.8" y2="175.2" stroke="#1c1c1c" stroke-width="1.3" />
<text x="654.8" y="178.64" font-size="9.7" text-anchor="start" font-weight="normal" font-style="normal" fill="#1c1c1c" stroke="#1c1c1c" stroke-width="0.14" >CL</text>
<text x="540.1" y="338.48" font-size="9.8" text-anchor="middle" font-weight="normal" font-style="normal" fill="#1c1c1c" stroke="#1c1c1c" stroke-width="0.14" >Time (min)</text>
<line x1="630.1" y1="300" x2="631.9" y2="300" stroke="#d08a5a" stroke-width="0.9" />
<line x1="629.34" y1="301.84" x2="630.61" y2="303.11" stroke="#d08a5a" stroke-width="0.9" />
<line x1="627.5" y1="302.6" x2="627.5" y2="304.4" stroke="#d08a5a" stroke-width="0.9" />
<line x1="625.66" y1="301.84" x2="624.39" y2="303.11" stroke="#d08a5a" stroke-width="0.9" />
<line x1="624.9" y1="300" x2="623.1" y2="300" stroke="#d08a5a" stroke-width="0.9" />
<line x1="625.66" y1="298.16" x2="624.39" y2="296.89" stroke="#d08a5a" stroke-width="0.9" />
<line x1="627.5" y1="297.4" x2="627.5" y2="295.6" stroke="#d08a5a" stroke-width="0.9" />
<line x1="629.34" y1="298.16" x2="630.61" y2="296.89" stroke="#d08a5a" stroke-width="0.9" />
<circle cx="627.5" cy="300" r="1.8" fill="none" stroke="#d08a5a" stroke-width="0.9"/>
<text x="634" y="303.37" font-size="9.5" text-anchor="start" font-weight="normal" font-style="normal" fill="#d08a5a" stroke="#d08a5a" stroke-width="0.14" >ON</text>
<defs><linearGradient id="pg" x1="0" y1="0" x2="0" y2="1"><stop offset="0" stop-color="#6e7070"/><stop offset="0.6" stop-color="#7c7c7e"/><stop offset="1" stop-color="#8e8e8e"/></linearGradient></defs>
<rect x="35.5" y="345" width="275.3" height="47.6" fill="#ebebeb" stroke="#2a2a2a" stroke-width="1.1" stroke-dasharray="3 2.4"/>
<rect x="35.5" y="395.9" width="275.3" height="47.2" fill="#ededed" stroke="#2a2a2a" stroke-width="1.2" />
<rect x="401.4" y="345" width="275.3" height="47.6" fill="#ebebeb" stroke="#2a2a2a" stroke-width="1.1" stroke-dasharray="3 2.4"/>
<rect x="401.4" y="395.9" width="275.3" height="47.2" fill="#ededed" stroke="#2a2a2a" stroke-width="1.2" />
<text x="54.8" y="371.16" font-size="10.3" text-anchor="middle" font-weight="normal" font-style="normal" fill="#1c1c1c" stroke="#1c1c1c" stroke-width="0.14" >OL</text>
<text x="55.2" y="421.96" font-size="10.3" text-anchor="middle" font-weight="normal" font-style="normal" fill="#1c1c1c" stroke="#1c1c1c" stroke-width="0.14" >CL</text>
<text x="420.8" y="370.96" font-size="10.3" text-anchor="middle" font-weight="normal" font-style="normal" fill="#1c1c1c" stroke="#1c1c1c" stroke-width="0.14" >OL</text>
<text x="420.8" y="421.96" font-size="10.3" text-anchor="middle" font-weight="normal" font-style="normal" fill="#1c1c1c" stroke="#1c1c1c" stroke-width="0.14" >CL</text>
<rect x="71.1" y="347.1" width="55.1" height="43.4" fill="#f1f1f1" stroke="none" stroke-width="1" />
<rect x="72.3" y="348.3" width="52.7" height="41" fill="url(#pg)" stroke="none" stroke-width="1" />
<rect x="93.7" y="377.3" width="13.1" height="12" fill="#161616" stroke="none" stroke-width="1" />
<polygon points="85.5,348.8 90.7,355.5 117.6,352.9 120.8,369 118.7,386.6 111.4,381.4 101,378.3 90.7,379.3 74.7,380.4 76.2,372.1 80.3,359.3" fill="#cfc232" stroke="#e6de62" stroke-width="0.7" />
<polygon points="92.4,358.1 116.8,353 121,370.3 106.3,367.3 97.3,363.3" fill="#d8d282" stroke="none" stroke-width="1" />
<polygon points="84.8,350.8 86.8,351.8 78.3,377.3 75.8,376.8" fill="#dcd270" stroke="none" stroke-width="1" />
<polygon points="80.3,370.3 102.3,366.8 103.3,368.8 81.3,372.8" fill="#dcd270" stroke="none" stroke-width="1" />
<polyline points="87.3,354.3 102.3,368.3 116.8,384.8" fill="none" stroke="#9a8c1c" stroke-width="0.9" stroke-linejoin="round"  />
<polyline points="92.8,357.9 96.3,363.3" fill="none" stroke="#9a8c1c" stroke-width="0.9" stroke-linejoin="round"  />
<line x1="116" y1="387.7" x2="121.5" y2="387.7" stroke="#f4f4f4" stroke-width="0.9" />
<rect x="132.3" y="347.1" width="55.1" height="43.4" fill="#f1f1f1" stroke="none" stroke-width="1" />
<rect x="133.5" y="348.3" width="52.7" height="41" fill="url(#pg)" stroke="none" stroke-width="1" />
<rect x="154.9" y="377.3" width="13.1" height="12" fill="#161616" stroke="none" stroke-width="1" />
<polygon points="140.5,352.1 151,358.3 179,356.5 181.7,370.5 180.8,381 177.3,387.2 172,384.5 165,380.2 154.5,379.3 137,381 136.1,375.8 138.8,363.5" fill="#cfc232" stroke="#e6de62" stroke-width="0.7" />
<polygon points="139.5,362.3 163.5,361.3 165.5,363.3 140.5,365.3" fill="#dcd270" stroke="none" stroke-width="1" />
<polygon points="143.5,374.3 173.5,370.3 174.5,372.3 144.5,376.8" fill="#dcd270" stroke="none" stroke-width="1" />
<polyline points="141.5,359.3 161.5,370.3 176.5,385.3" fill="none" stroke="#9a8c1c" stroke-width="0.9" stroke-linejoin="round"  />
<line x1="177.2" y1="387.7" x2="182.7" y2="387.7" stroke="#f4f4f4" stroke-width="0.9" />
<rect x="193.1" y="347.1" width="55.1" height="43.4" fill="#f1f1f1" stroke="none" stroke-width="1" />
<rect x="194.3" y="348.3" width="52.7" height="41" fill="url(#pg)" stroke="none" stroke-width="1" />
<rect x="215.7" y="377.3" width="13.1" height="12" fill="#161616" stroke="none" stroke-width="1" />
<polygon points="200.1,358.3 214.1,359.1 240.4,357.4 242.1,370.5 240.4,381 235.1,387.2 228.1,385.4 219.3,381 210.6,380.2 198.3,381 197.4,374 199.2,363.5" fill="#cfc232" stroke="#e6de62" stroke-width="0.7" />
<polygon points="200.3,362.3 224.3,361.3 226.3,363.3 201.3,365.3" fill="#dcd270" stroke="none" stroke-width="1" />
<polygon points="204.3,374.3 234.3,370.3 235.3,372.3 205.3,376.8" fill="#dcd270" stroke="none" stroke-width="1" />
<polyline points="202.3,359.3 222.3,370.3 237.3,385.3" fill="none" stroke="#9a8c1c" stroke-width="0.9" stroke-linejoin="round"  />
<line x1="238" y1="387.7" x2="243.5" y2="387.7" stroke="#f4f4f4" stroke-width="0.9" />
<rect x="254.1" y="347.1" width="55.1" height="43.4" fill="#f1f1f1" stroke="none" stroke-width="1" />
<rect x="255.3" y="348.3" width="52.7" height="41" fill="url(#pg)" stroke="none" stroke-width="1" />
<rect x="276.7" y="377.3" width="13.1" height="12" fill="#161616" stroke="none" stroke-width="1" />
<polygon points="260.4,358.4 281.1,357.9 301.8,357.9 303.9,366.7 302.9,378.1 298.7,386.4 293.5,384.4 284.2,381.2 275.9,380.2 258.3,380.7 257.8,376.1 259.3,366.7" fill="#cfc232" stroke="#e6de62" stroke-width="0.7" />
<polygon points="261.3,362.3 285.3,361.3 287.3,363.3 262.3,365.3" fill="#dcd270" stroke="none" stroke-width="1" />
<polygon points="265.3,374.3 295.3,370.3 296.3,372.3 266.3,376.8" fill="#dcd270" stroke="none" stroke-width="1" />
<polyline points="263.3,359.3 283.3,370.3 298.3,385.3" fill="none" stroke="#9a8c1c" stroke-width="0.9" stroke-linejoin="round"  />
<line x1="299" y1="387.7" x2="304.5" y2="387.7" stroke="#f4f4f4" stroke-width="0.9" />
<rect x="71.1" y="397.5" width="55.1" height="43.4" fill="#f1f1f1" stroke="none" stroke-width="1" />
<rect x="72.3" y="398.7" width="52.7" height="41" fill="url(#pg)" stroke="none" stroke-width="1" />
<rect x="93.7" y="427.7" width="13.1" height="12" fill="#161616" stroke="none" stroke-width="1" />
<polygon points="85.7,399.2 92.4,408.5 116.8,403.4 121,420.7 120.5,434.7 119.3,438.7 110.3,431.7 95.8,429.4 74,431.1 75.7,420.2" fill="#cfc232" stroke="#e6de62" stroke-width="0.7" />
<polygon points="92.4,408.5 116.8,403.4 121,420.7 106.3,417.7 97.3,413.7" fill="#d8d282" stroke="none" stroke-width="1" />
<polygon points="84.8,401.2 86.8,402.2 78.3,427.7 75.8,427.2" fill="#dcd270" stroke="none" stroke-width="1" />
<polygon points="80.3,420.7 102.3,417.2 103.3,419.2 81.3,423.2" fill="#dcd270" stroke="none" stroke-width="1" />
<polyline points="87.3,404.7 102.3,418.7 116.8,435.2" fill="none" stroke="#9a8c1c" stroke-width="0.9" stroke-linejoin="round"  />
<polyline points="92.8,408.3 96.3,413.7" fill="none" stroke="#9a8c1c" stroke-width="0.9" stroke-linejoin="round"  />
<line x1="116" y1="438.1" x2="121.5" y2="438.1" stroke="#f4f4f4" stroke-width="0.9" />
<rect x="132.3" y="397.5" width="55.1" height="43.4" fill="#f1f1f1" stroke="none" stroke-width="1" />
<rect x="133.5" y="398.7" width="52.7" height="41" fill="url(#pg)" stroke="none" stroke-width="1" />
<rect x="154.9" y="427.7" width="13.1" height="12" fill="#161616" stroke="none" stroke-width="1" />
<polygon points="146.9,399.2 153.6,408.5 178,403.4 182.2,420.7 181.7,434.7 180.5,438.7 171.5,431.7 157,429.4 135.2,431.1 136.9,420.2" fill="#cfc232" stroke="#e6de62" stroke-width="0.7" />
<polygon points="153.6,408.5 178,403.4 182.2,420.7 167.5,417.7 158.5,413.7" fill="#d8d282" stroke="none" stroke-width="1" />
<polygon points="146,401.2 148,402.2 139.5,427.7 137,427.2" fill="#dcd270" stroke="none" stroke-width="1" />
<polygon points="141.5,420.7 163.5,417.2 164.5,419.2 142.5,423.2" fill="#dcd270" stroke="none" stroke-width="1" />
<polyline points="148.5,404.7 163.5,418.7 178,435.2" fill="none" stroke="#9a8c1c" stroke-width="0.9" stroke-linejoin="round"  />
<polyline points="154,408.3 157.5,413.7" fill="none" stroke="#9a8c1c" stroke-width="0.9" stroke-linejoin="round"  />
<line x1="177.2" y1="438.1" x2="182.7" y2="438.1" stroke="#f4f4f4" stroke-width="0.9" />
<rect x="193.1" y="397.5" width="55.1" height="43.4" fill="#f1f1f1" stroke="none" stroke-width="1" />
<rect x="194.3" y="398.7" width="52.7" height="41" fill="url(#pg)" stroke="none" stroke-width="1" />
<rect x="215.7" y="427.7" width="13.1" height="12" fill="#161616" stroke="none" stroke-width="1" />
<polygon points="207.7,399.2 214.4,408.5 238.8,403.4 243,420.7 242.5,434.7 241.3,438.7 232.3,431.7 217.8,429.4 196,431.1 197.7,420.2" fill="#cfc232" stroke="#e6de62" stroke-width="0.7" />
<polygon points="214.4,408.5 238.8,403.4 243,420.7 228.3,417.7 219.3,413.7" fill="#d8d282" stroke="none" stroke-width="1" />
<polygon points="206.8,401.2 208.8,402.2 200.3,427.7 197.8,427.2" fill="#dcd270" stroke="none" stroke-width="1" />
<polygon points="202.3,420.7 224.3,417.2 225.3,419.2 203.3,423.2" fill="#dcd270" stroke="none" stroke-width="1" />
<polyline points="209.3,404.7 224.3,418.7 238.8,435.2" fill="none" stroke="#9a8c1c" stroke-width="0.9" stroke-linejoin="round"  />
<polyline points="214.8,408.3 218.3,413.7" fill="none" stroke="#9a8c1c" stroke-width="0.9" stroke-linejoin="round"  />
<line x1="238" y1="438.1" x2="243.5" y2="438.1" stroke="#f4f4f4" stroke-width="0.9" />
<rect x="254.1" y="397.5" width="55.1" height="43.4" fill="#f1f1f1" stroke="none" stroke-width="1" />
<rect x="255.3" y="398.7" width="52.7" height="41" fill="url(#pg)" stroke="none" stroke-width="1" />
<rect x="276.7" y="427.7" width="13.1" height="12" fill="#161616" stroke="none" stroke-width="1" />
<polygon points="268.7,399.2 275.4,408.5 299.8,403.4 304,420.7 303.5,434.7 302.3,438.7 293.3,431.7 278.8,429.4 257,431.1 258.7,420.2" fill="#cfc232" stroke="#e6de62" stroke-width="0.7" />
<polygon points="275.4,408.5 299.8,403.4 304,420.7 289.3,417.7 280.3,413.7" fill="#d8d282" stroke="none" stroke-width="1" />
<polygon points="267.8,401.2 269.8,402.2 261.3,427.7 258.8,427.2" fill="#dcd270" stroke="none" stroke-width="1" />
<polygon points="263.3,420.7 285.3,417.2 286.3,419.2 264.3,423.2" fill="#dcd270" stroke="none" stroke-width="1" />
<polyline points="270.3,404.7 285.3,418.7 299.8,435.2" fill="none" stroke="#9a8c1c" stroke-width="0.9" stroke-linejoin="round"  />
<polyline points="275.8,408.3 279.3,413.7" fill="none" stroke="#9a8c1c" stroke-width="0.9" stroke-linejoin="round"  />
<line x1="299" y1="438.1" x2="304.5" y2="438.1" stroke="#f4f4f4" stroke-width="0.9" />
<rect x="437.5" y="347.1" width="55.1" height="43.4" fill="#f1f1f1" stroke="none" stroke-width="1" />
<rect x="438.7" y="348.3" width="52.7" height="41" fill="url(#pg)" stroke="none" stroke-width="1" />
<rect x="460.1" y="377.3" width="13.1" height="12" fill="#161616" stroke="none" stroke-width="1" />
<polygon points="451.5,349.7 466.2,359.5 485.8,353.4 488.3,366.9 487.1,381.6 489.2,386.3 478.5,382.9 468.7,376.7 453.9,376.7 440.4,378 442.9,366.9" fill="#cfc232" stroke="#e6de62" stroke-width="0.7" />
<polygon points="466.2,359.5 485.8,353.4 488.3,366.9 474.7,368.3 467.7,364.3" fill="#d8d282" stroke="none" stroke-width="1" />
<polygon points="450.7,351.3 452.7,352.3 443.7,375.3 441.7,374.8" fill="#dcd270" stroke="none" stroke-width="1" />
<polygon points="447.7,369.3 468.7,367.3 469.7,369.3 448.7,371.8" fill="#dcd270" stroke="none" stroke-width="1" />
<polyline points="453.7,353.3 470.7,369.3 485.7,383.3" fill="none" stroke="#9a8c1c" stroke-width="0.9" stroke-linejoin="round"  />
<line x1="482.4" y1="387.7" x2="487.9" y2="387.7" stroke="#f4f4f4" stroke-width="0.9" />
<rect x="437.5" y="397.5" width="55.1" height="43.4" fill="#f1f1f1" stroke="none" stroke-width="1" />
<rect x="438.7" y="398.7" width="52.7" height="41" fill="url(#pg)" stroke="none" stroke-width="1" />
<rect x="460.1" y="427.7" width="13.1" height="12" fill="#161616" stroke="none" stroke-width="1" />
<polygon points="451.5,400.1 466.2,409.9 485.8,403.8 488.3,417.3 487.1,432 489.2,436.7 478.5,433.3 468.7,427.1 453.9,427.1 440.4,428.4 442.9,417.3" fill="#cfc232" stroke="#e6de62" stroke-width="0.7" />
<polygon points="466.2,409.9 485.8,403.8 488.3,417.3 474.7,418.7 467.7,414.7" fill="#d8d282" stroke="none" stroke-width="1" />
<polygon points="450.7,401.7 452.7,402.7 443.7,425.7 441.7,425.2" fill="#dcd270" stroke="none" stroke-width="1" />
<polygon points="447.7,419.7 468.7,417.7 469.7,419.7 448.7,422.2" fill="#dcd270" stroke="none" stroke-width="1" />
<polyline points="453.7,403.7 470.7,419.7 485.7,433.7" fill="none" stroke="#9a8c1c" stroke-width="0.9" stroke-linejoin="round"  />
<line x1="482.4" y1="438.1" x2="487.9" y2="438.1" stroke="#f4f4f4" stroke-width="0.9" />
<rect x="498.4" y="347.1" width="55.1" height="43.4" fill="#f1f1f1" stroke="none" stroke-width="1" />
<rect x="499.6" y="348.3" width="52.7" height="41" fill="url(#pg)" stroke="none" stroke-width="1" />
<rect x="521" y="377.3" width="13.1" height="12" fill="#161616" stroke="none" stroke-width="1" />
<polygon points="512.4,349.7 527.1,359.5 546.7,353.4 549.2,366.9 548,381.6 550.1,386.3 539.4,382.9 529.6,376.7 514.8,376.7 501.3,378 503.8,366.9" fill="#cfc232" stroke="#e6de62" stroke-width="0.7" />
<polygon points="527.1,359.5 546.7,353.4 549.2,366.9 535.6,368.3 528.6,364.3" fill="#d8d282" stroke="none" stroke-width="1" />
<polygon points="511.6,351.3 513.6,352.3 504.6,375.3 502.6,374.8" fill="#dcd270" stroke="none" stroke-width="1" />
<polygon points="508.6,369.3 529.6,367.3 530.6,369.3 509.6,371.8" fill="#dcd270" stroke="none" stroke-width="1" />
<polyline points="514.6,353.3 531.6,369.3 546.6,383.3" fill="none" stroke="#9a8c1c" stroke-width="0.9" stroke-linejoin="round"  />
<line x1="543.3" y1="387.7" x2="548.8" y2="387.7" stroke="#f4f4f4" stroke-width="0.9" />
<rect x="498.4" y="397.5" width="55.1" height="43.4" fill="#f1f1f1" stroke="none" stroke-width="1" />
<rect x="499.6" y="398.7" width="52.7" height="41" fill="url(#pg)" stroke="none" stroke-width="1" />
<rect x="521" y="427.7" width="13.1" height="12" fill="#161616" stroke="none" stroke-width="1" />
<polygon points="512.4,400.1 527.1,409.9 546.7,403.8 549.2,417.3 548,432 550.1,436.7 539.4,433.3 529.6,427.1 514.8,427.1 501.3,428.4 503.8,417.3" fill="#cfc232" stroke="#e6de62" stroke-width="0.7" />
<polygon points="527.1,409.9 546.7,403.8 549.2,417.3 535.6,418.7 528.6,414.7" fill="#d8d282" stroke="none" stroke-width="1" />
<polygon points="511.6,401.7 513.6,402.7 504.6,425.7 502.6,425.2" fill="#dcd270" stroke="none" stroke-width="1" />
<polygon points="508.6,419.7 529.6,417.7 530.6,419.7 509.6,422.2" fill="#dcd270" stroke="none" stroke-width="1" />
<polyline points="514.6,403.7 531.6,419.7 546.6,433.7" fill="none" stroke="#9a8c1c" stroke-width="0.9" stroke-linejoin="round"  />
<line x1="543.3" y1="438.1" x2="548.8" y2="438.1" stroke="#f4f4f4" stroke-width="0.9" />
<rect x="559.6" y="347.1" width="55.1" height="43.4" fill="#f1f1f1" stroke="none" stroke-width="1" />
<rect x="560.8" y="348.3" width="52.7" height="41" fill="url(#pg)" stroke="none" stroke-width="1" />
<rect x="582.2" y="377.3" width="13.1" height="12" fill="#161616" stroke="none" stroke-width="1" />
<polygon points="573.6,349.7 588.3,359.5 607.9,353.4 610.4,366.9 609.2,381.6 611.3,386.3 600.6,382.9 590.8,376.7 576,376.7 562.5,378 565,366.9" fill="#cfc232" stroke="#e6de62" stroke-width="0.7" />
<polygon points="588.3,359.5 607.9,353.4 610.4,366.9 596.8,368.3 589.8,364.3" fill="#d8d282" stroke="none" stroke-width="1" />
<polygon points="572.8,351.3 574.8,352.3 565.8,375.3 563.8,374.8" fill="#dcd270" stroke="none" stroke-width="1" />
<polygon points="569.8,369.3 590.8,367.3 591.8,369.3 570.8,371.8" fill="#dcd270" stroke="none" stroke-width="1" />
<polyline points="575.8,353.3 592.8,369.3 607.8,383.3" fill="none" stroke="#9a8c1c" stroke-width="0.9" stroke-linejoin="round"  />
<line x1="604.5" y1="387.7" x2="610" y2="387.7" stroke="#f4f4f4" stroke-width="0.9" />
<rect x="559.6" y="397.5" width="55.1" height="43.4" fill="#f1f1f1" stroke="none" stroke-width="1" />
<rect x="560.8" y="398.7" width="52.7" height="41" fill="url(#pg)" stroke="none" stroke-width="1" />
<rect x="582.2" y="427.7" width="13.1" height="12" fill="#161616" stroke="none" stroke-width="1" />
<polygon points="573.6,400.1 588.3,409.9 607.9,403.8 610.4,417.3 609.2,432 611.3,436.7 600.6,433.3 590.8,427.1 576,427.1 562.5,428.4 565,417.3" fill="#cfc232" stroke="#e6de62" stroke-width="0.7" />
<polygon points="588.3,409.9 607.9,403.8 610.4,417.3 596.8,418.7 589.8,414.7" fill="#d8d282" stroke="none" stroke-width="1" />
<polygon points="572.8,401.7 574.8,402.7 565.8,425.7 563.8,425.2" fill="#dcd270" stroke="none" stroke-width="1" />
<polygon points="569.8,419.7 590.8,417.7 591.8,419.7 570.8,422.2" fill="#dcd270" stroke="none" stroke-width="1" />
<polyline points="575.8,403.7 592.8,419.7 607.8,433.7" fill="none" stroke="#9a8c1c" stroke-width="0.9" stroke-linejoin="round"  />
<line x1="604.5" y1="438.1" x2="610" y2="438.1" stroke="#f4f4f4" stroke-width="0.9" />
<rect x="620.8" y="347.1" width="55.1" height="43.4" fill="#f1f1f1" stroke="none" stroke-width="1" />
<rect x="622" y="348.3" width="52.7" height="41" fill="url(#pg)" stroke="none" stroke-width="1" />
<rect x="643.4" y="377.3" width="13.1" height="12" fill="#161616" stroke="none" stroke-width="1" />
<polygon points="634.8,349.7 649.5,359.5 669.1,353.4 671.6,366.9 670.4,381.6 672.5,386.3 661.8,382.9 652,376.7 637.2,376.7 623.7,378 626.2,366.9" fill="#cfc232" stroke="#e6de62" stroke-width="0.7" />
<polygon points="649.5,359.5 669.1,353.4 671.6,366.9 658,368.3 651,364.3" fill="#d8d282" stroke="none" stroke-width="1" />
<polygon points="634,351.3 636,352.3 627,375.3 625,374.8" fill="#dcd270" stroke="none" stroke-width="1" />
<polygon points="631,369.3 652,367.3 653,369.3 632,371.8" fill="#dcd270" stroke="none" stroke-width="1" />
<polyline points="637,353.3 654,369.3 669,383.3" fill="none" stroke="#9a8c1c" stroke-width="0.9" stroke-linejoin="round"  />
<line x1="665.7" y1="387.7" x2="671.2" y2="387.7" stroke="#f4f4f4" stroke-width="0.9" />
<rect x="620.8" y="397.5" width="55.1" height="43.4" fill="#f1f1f1" stroke="none" stroke-width="1" />
<rect x="622" y="398.7" width="52.7" height="41" fill="url(#pg)" stroke="none" stroke-width="1" />
<rect x="643.4" y="427.7" width="13.1" height="12" fill="#161616" stroke="none" stroke-width="1" />
<polygon points="634.8,400.1 649.5,409.9 669.1,403.8 671.6,417.3 670.4,432 672.5,436.7 661.8,433.3 652,427.1 637.2,427.1 623.7,428.4 626.2,417.3" fill="#cfc232" stroke="#e6de62" stroke-width="0.7" />
<polygon points="649.5,409.9 669.1,403.8 671.6,417.3 658,418.7 651,414.7" fill="#d8d282" stroke="none" stroke-width="1" />
<polygon points="634,401.7 636,402.7 627,425.7 625,425.2" fill="#dcd270" stroke="none" stroke-width="1" />
<polygon points="631,419.7 652,417.7 653,419.7 632,422.2" fill="#dcd270" stroke="none" stroke-width="1" />
<polyline points="637,403.7 654,419.7 669,433.7" fill="none" stroke="#9a8c1c" stroke-width="0.9" stroke-linejoin="round"  />
<line x1="665.7" y1="438.1" x2="671.2" y2="438.1" stroke="#f4f4f4" stroke-width="0.9" />
</svg>
</body></html>
